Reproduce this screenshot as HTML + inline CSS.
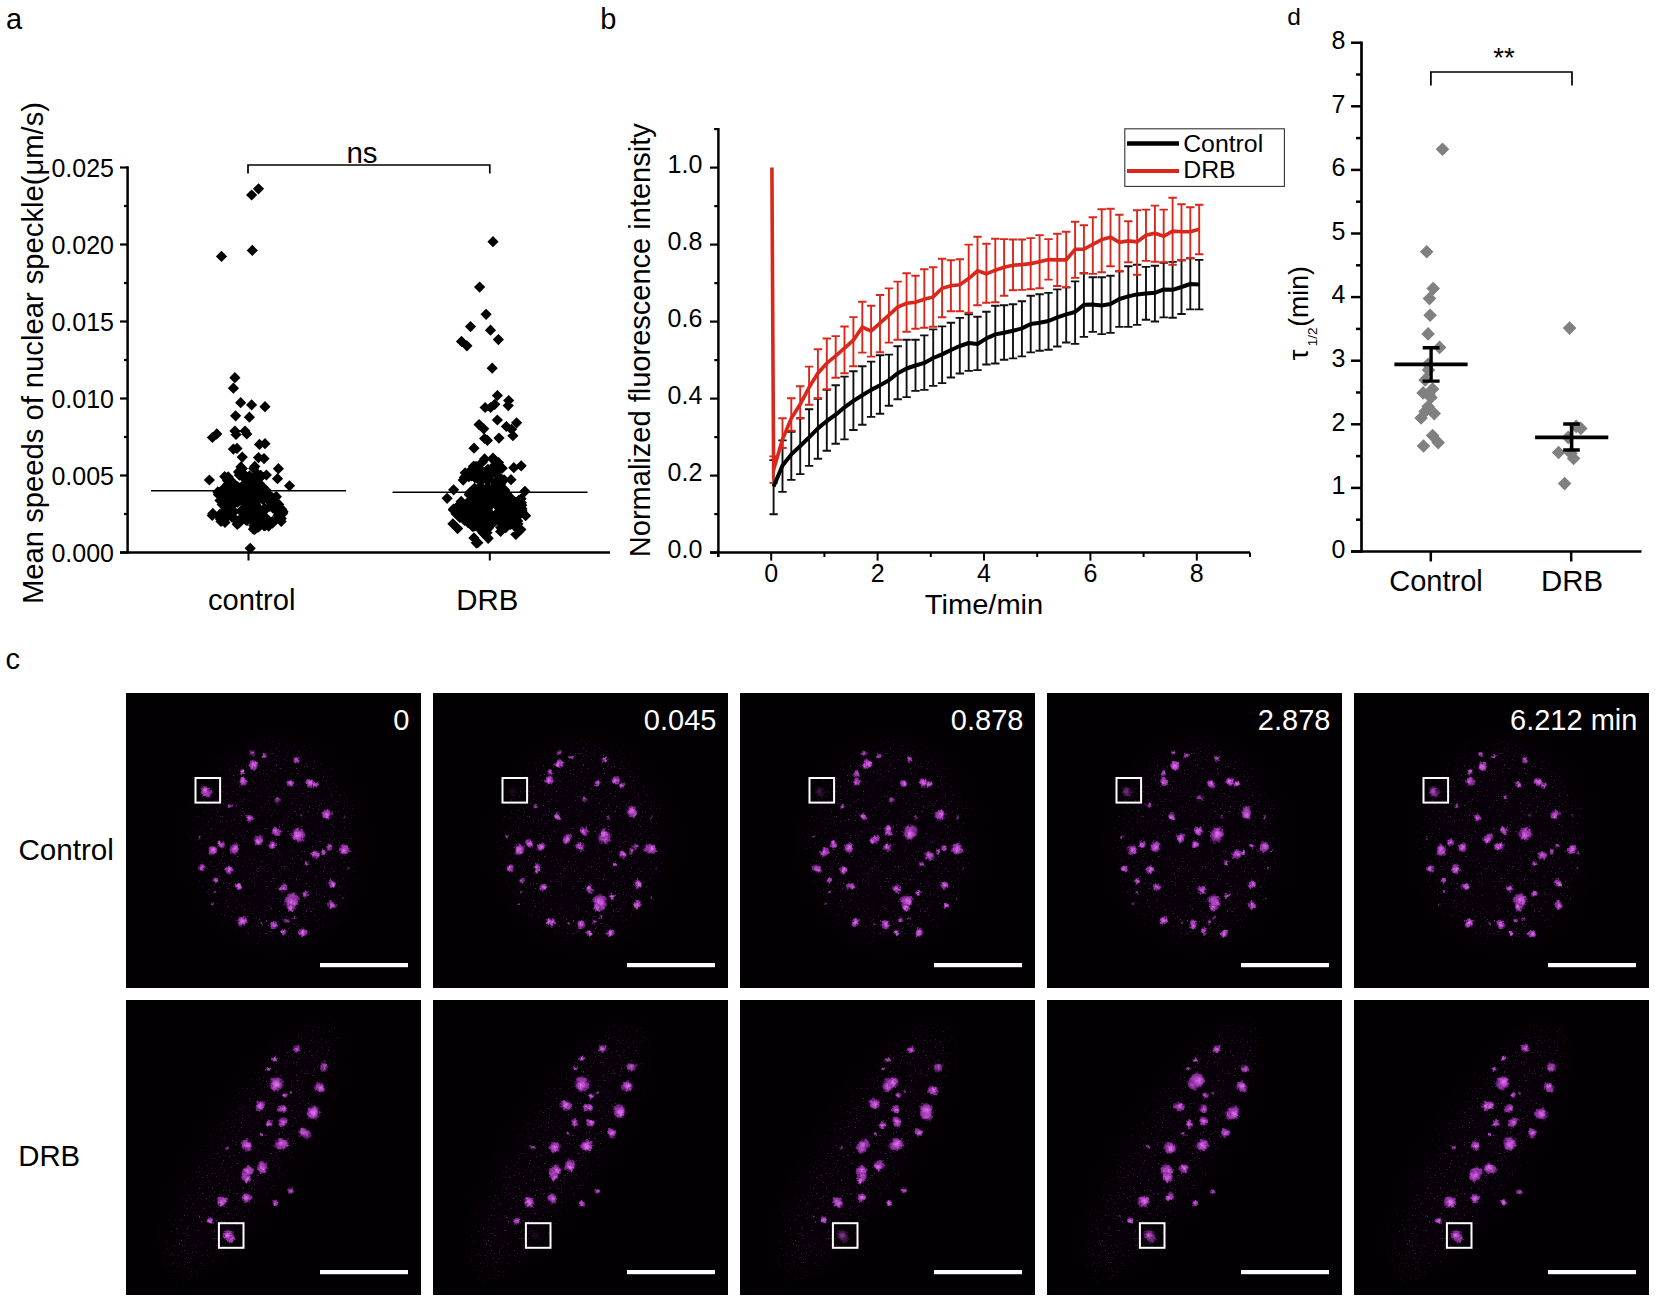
<!DOCTYPE html>
<html lang="en"><head><meta charset="utf-8"><title>Figure</title>
<style>
html,body{margin:0;padding:0;background:#fff;}
body{width:1656px;height:1296px;overflow:hidden;}
svg{display:block;}
svg text{font-family:"Liberation Sans",Arial,Helvetica,sans-serif;}
</style></head><body>
<svg width="1656" height="1296" viewBox="0 0 1656 1296">
<defs>
<radialGradient id="sp"><stop offset="0" stop-color="#dc7ee8"/><stop offset="0.4" stop-color="#bf4fce"/><stop offset="0.72" stop-color="#922fa6" stop-opacity="0.8"/><stop offset="1" stop-color="#5a1468" stop-opacity="0"/></radialGradient>
<filter id="rough" x="-5%" y="-5%" width="110%" height="110%"><feTurbulence type="fractalNoise" baseFrequency="0.32" numOctaves="2" seed="3" result="n"/><feDisplacementMap in="SourceGraphic" in2="n" scale="4.5" xChannelSelector="R" yChannelSelector="G"/><feGaussianBlur stdDeviation="0.7"/></filter>
<filter id="hz" x="-30%" y="-30%" width="160%" height="160%"><feGaussianBlur stdDeviation="14"/></filter>
<filter id="grain" x="0" y="0" width="100%" height="100%"><feTurbulence type="fractalNoise" baseFrequency="0.6" numOctaves="2" seed="11"/><feColorMatrix type="matrix" values="0 0 0 0 0.36  0 0 0 0 0.06  0 0 0 0 0.44  0 0 0 6 -4.0"/></filter>
<mask id="mctl" maskUnits="userSpaceOnUse" x="0" y="0" width="295" height="295"><ellipse cx="150" cy="150" rx="80" ry="98" fill="#fff" filter="url(#hz2)"/></mask>
<mask id="mdrb" maskUnits="userSpaceOnUse" x="0" y="0" width="295" height="295"><ellipse cx="125" cy="150" rx="40" ry="150" transform="rotate(32 125 150)" fill="#fff" filter="url(#hz2)"/></mask>
<filter id="hz2" x="-30%" y="-30%" width="160%" height="160%"><feGaussianBlur stdDeviation="9"/></filter>
<clipPath id="pc"><rect x="0" y="0" width="295" height="295"/></clipPath>
</defs>
<rect width="1656" height="1296" fill="#fff"/>
<text x="6.0" y="29" font-size="29" text-anchor="start" fill="#000" >a</text>
<text x="600.2" y="28.8" font-size="29" text-anchor="start" fill="#000" >b</text>
<text x="5.6" y="669" font-size="29" text-anchor="start" fill="#000" >c</text>
<text x="1287.2" y="24.8" font-size="24.5" text-anchor="start" fill="#000" >d</text>
<g id="panel-a">
<line x1="127.6" y1="166.3" x2="127.6" y2="553.7" stroke="#000" stroke-width="2.5" />
<line x1="120" y1="552.5" x2="610" y2="552.5" stroke="#000" stroke-width="2.5" />
<line x1="120" y1="552.5" x2="127.5" y2="552.5" stroke="#000" stroke-width="2.2" />
<text x="114" y="562.3" font-size="25" text-anchor="end" fill="#000" >0.000</text>
<line x1="124" y1="514.0" x2="127.5" y2="514.0" stroke="#000" stroke-width="2.2" />
<line x1="120" y1="475.5" x2="127.5" y2="475.5" stroke="#000" stroke-width="2.2" />
<text x="114" y="485.3" font-size="25" text-anchor="end" fill="#000" >0.005</text>
<line x1="124" y1="437.0" x2="127.5" y2="437.0" stroke="#000" stroke-width="2.2" />
<line x1="120" y1="398.5" x2="127.5" y2="398.5" stroke="#000" stroke-width="2.2" />
<text x="114" y="408.3" font-size="25" text-anchor="end" fill="#000" >0.010</text>
<line x1="124" y1="360.0" x2="127.5" y2="360.0" stroke="#000" stroke-width="2.2" />
<line x1="120" y1="321.5" x2="127.5" y2="321.5" stroke="#000" stroke-width="2.2" />
<text x="114" y="331.3" font-size="25" text-anchor="end" fill="#000" >0.015</text>
<line x1="124" y1="283.0" x2="127.5" y2="283.0" stroke="#000" stroke-width="2.2" />
<line x1="120" y1="244.5" x2="127.5" y2="244.5" stroke="#000" stroke-width="2.2" />
<text x="114" y="254.3" font-size="25" text-anchor="end" fill="#000" >0.020</text>
<line x1="124" y1="206.0" x2="127.5" y2="206.0" stroke="#000" stroke-width="2.2" />
<line x1="120" y1="167.5" x2="127.5" y2="167.5" stroke="#000" stroke-width="2.2" />
<text x="114" y="177.3" font-size="25" text-anchor="end" fill="#000" >0.025</text>
<line x1="248.5" y1="552.5" x2="248.5" y2="560.5" stroke="#000" stroke-width="2" />
<line x1="489.8" y1="552.5" x2="489.8" y2="560.5" stroke="#000" stroke-width="2" />
<text x="251.7" y="609.6" font-size="29" text-anchor="middle" fill="#000" textLength="87.5" lengthAdjust="spacingAndGlyphs" >control</text>
<text x="487.3" y="609.6" font-size="29" text-anchor="middle" fill="#000" textLength="62" lengthAdjust="spacingAndGlyphs" >DRB</text>
<text transform="translate(43.2 604) rotate(-90)" font-size="29" textLength="502" lengthAdjust="spacingAndGlyphs">Mean speeds of nuclear speckle(μm/s)</text>
<path d="M248 173.5V165H489.8V173.5" fill="none" stroke="#000" stroke-width="1.7"/>
<text x="362" y="162.9" font-size="29.5" text-anchor="middle" fill="#000" >ns</text>
<line x1="151" y1="490.7" x2="346" y2="490.7" stroke="#000" stroke-width="1.6" />
<line x1="392.5" y1="492.3" x2="587.5" y2="492.3" stroke="#000" stroke-width="1.6" />
<path d="M258.5 183.2L264.1 188.8L258.5 194.4L252.9 188.8ZM251.6 189.4L257.2 195.0L251.6 200.6L246.0 195.0ZM252.3 244.8L257.9 250.4L252.3 256.0L246.7 250.4ZM221.5 250.8L227.1 256.4L221.5 262.0L215.9 256.4ZM234.9 372.1L240.5 377.7L234.9 383.3L229.3 377.7ZM233.4 382.6L239.0 388.2L233.4 393.8L227.8 388.2ZM240.7 397.1L246.3 402.7L240.7 408.3L235.1 402.7ZM251.6 399.3L257.2 404.9L251.6 410.5L246.0 404.9ZM265.0 401.1L270.6 406.7L265.0 412.3L259.4 406.7ZM235.6 410.2L241.2 415.8L235.6 421.4L230.0 415.8ZM249.4 411.6L255.0 417.2L249.4 422.8L243.8 417.2ZM234.9 425.4L240.5 431.0L234.9 436.6L229.3 431.0ZM245.0 425.4L250.6 431.0L245.0 436.6L239.4 431.0ZM236.0 428.9L241.6 434.5L236.0 440.1L230.4 434.5ZM246.8 428.4L252.4 434.0L246.8 439.6L241.2 434.0ZM212.4 431.9L218.0 437.5L212.4 443.1L206.8 437.5ZM216.8 428.3L222.4 433.9L216.8 439.5L211.2 433.9ZM259.5 438.8L265.1 444.4L259.5 450.0L253.9 444.4ZM265.0 438.1L270.6 443.7L265.0 449.3L259.4 443.7ZM233.4 443.5L239.0 449.1L233.4 454.7L227.8 449.1ZM237.0 442.8L242.6 448.4L237.0 454.0L231.4 448.4ZM242.3 451.5L247.9 457.1L242.3 462.7L236.7 457.1ZM258.5 452.0L264.1 457.6L258.5 463.2L252.9 457.6ZM264.0 453.0L269.6 458.6L264.0 464.2L258.4 458.6ZM240.9 461.3L246.5 466.9L240.9 472.5L235.3 466.9ZM254.8 460.8L260.4 466.4L254.8 472.0L249.2 466.4ZM278.4 463.1L284.0 468.7L278.4 474.3L272.8 468.7ZM209.4 474.4L215.0 480.0L209.4 485.6L203.8 480.0ZM224.7 471.0L230.3 476.6L224.7 482.2L219.1 476.6ZM266.4 469.4L272.0 475.0L266.4 480.6L260.8 475.0ZM277.5 473.1L283.1 478.7L277.5 484.3L271.9 478.7ZM289.5 480.2L295.1 485.8L289.5 491.4L283.9 485.8ZM250.2 542.7L255.8 548.3L250.2 553.9L244.6 548.3ZM217.8 486.3L223.4 491.9L217.8 497.5L212.2 491.9ZM212.2 509.9L217.8 515.5L212.2 521.1L206.6 515.5ZM221.0 515.9L226.6 521.5L221.0 527.1L215.4 521.5ZM282.6 507.5L288.2 513.1L282.6 518.7L277.0 513.1ZM281.2 515.9L286.8 521.5L281.2 527.1L275.6 521.5ZM268.7 520.5L274.3 526.1L268.7 531.7L263.1 526.1ZM254.8 523.7L260.4 529.3L254.8 534.9L249.2 529.3ZM237.2 518.7L242.8 524.3L237.2 529.9L231.6 524.3ZM225.6 502.3L231.2 507.9L225.6 513.5L220.0 507.9ZM254.4 503.1L260.0 508.7L254.4 514.3L248.8 508.7ZM237.6 496.6L243.2 502.2L237.6 507.8L232.0 502.2ZM224.2 506.1L229.8 511.7L224.2 517.3L218.6 511.7ZM253.9 495.0L259.5 500.6L253.9 506.2L248.3 500.6ZM278.1 509.6L283.7 515.2L278.1 520.8L272.5 515.2ZM261.4 512.1L267.0 517.7L261.4 523.3L255.8 517.7ZM253.8 520.0L259.4 525.6L253.8 531.2L248.2 525.6ZM232.9 507.1L238.5 512.7L232.9 518.3L227.3 512.7ZM255.5 498.9L261.1 504.5L255.5 510.1L249.9 504.5ZM264.1 503.7L269.7 509.3L264.1 514.9L258.5 509.3ZM230.5 485.1L236.1 490.7L230.5 496.3L224.9 490.7ZM244.8 469.5L250.4 475.1L244.8 480.7L239.2 475.1ZM230.0 487.2L235.6 492.8L230.0 498.4L224.4 492.8ZM226.4 492.1L232.0 497.7L226.4 503.3L220.8 497.7ZM255.0 476.3L260.6 481.9L255.0 487.5L249.4 481.9ZM241.3 483.9L246.9 489.5L241.3 495.1L235.7 489.5ZM263.2 494.3L268.8 499.9L263.2 505.5L257.6 499.9ZM257.3 505.8L262.9 511.4L257.3 517.0L251.7 511.4ZM257.1 468.1L262.7 473.7L257.1 479.3L251.5 473.7ZM235.6 483.5L241.2 489.1L235.6 494.7L230.0 489.1ZM250.5 513.1L256.1 518.7L250.5 524.3L244.9 518.7ZM272.5 515.9L278.1 521.5L272.5 527.1L266.9 521.5ZM249.3 482.9L254.9 488.5L249.3 494.1L243.7 488.5ZM257.9 521.7L263.5 527.3L257.9 532.9L252.3 527.3ZM275.3 491.7L280.9 497.3L275.3 502.9L269.7 497.3ZM260.2 514.6L265.8 520.2L260.2 525.8L254.6 520.2ZM268.0 491.6L273.6 497.2L268.0 502.8L262.4 497.2ZM222.0 513.8L227.6 519.4L222.0 525.0L216.4 519.4ZM235.8 496.7L241.4 502.3L235.8 507.9L230.2 502.3ZM227.9 478.4L233.5 484.0L227.9 489.6L222.3 484.0ZM236.1 490.2L241.7 495.8L236.1 501.4L230.5 495.8ZM254.6 522.0L260.2 527.6L254.6 533.2L249.0 527.6ZM248.0 495.5L253.6 501.1L248.0 506.7L242.4 501.1ZM243.0 470.6L248.6 476.2L243.0 481.8L237.4 476.2ZM245.7 509.3L251.3 514.9L245.7 520.5L240.1 514.9ZM252.4 480.8L258.0 486.4L252.4 492.0L246.8 486.4ZM249.3 497.1L254.9 502.7L249.3 508.3L243.7 502.7ZM252.7 475.3L258.3 480.9L252.7 486.5L247.1 480.9ZM269.8 493.7L275.4 499.3L269.8 504.9L264.2 499.3ZM252.8 511.7L258.4 517.3L252.8 522.9L247.2 517.3ZM256.9 493.6L262.5 499.2L256.9 504.8L251.3 499.2ZM248.9 506.9L254.5 512.5L248.9 518.1L243.3 512.5ZM244.0 495.6L249.6 501.2L244.0 506.8L238.4 501.2ZM263.9 520.0L269.5 525.6L263.9 531.2L258.3 525.6ZM220.0 508.6L225.6 514.2L220.0 519.8L214.4 514.2ZM239.7 492.3L245.3 497.9L239.7 503.5L234.1 497.9ZM220.6 488.3L226.2 493.9L220.6 499.5L215.0 493.9ZM249.1 481.7L254.7 487.3L249.1 492.9L243.5 487.3ZM252.2 489.0L257.8 494.6L252.2 500.2L246.6 494.6ZM257.9 494.1L263.5 499.7L257.9 505.3L252.3 499.7ZM253.6 507.5L259.2 513.1L253.6 518.7L248.0 513.1ZM263.0 487.9L268.6 493.5L263.0 499.1L257.4 493.5ZM258.7 514.7L264.3 520.3L258.7 525.9L253.1 520.3ZM244.1 481.7L249.7 487.3L244.1 492.9L238.5 487.3ZM250.0 474.5L255.6 480.1L250.0 485.7L244.4 480.1ZM232.2 511.7L237.8 517.3L232.2 522.9L226.6 517.3ZM231.0 493.2L236.6 498.8L231.0 504.4L225.4 498.8ZM239.3 493.7L244.9 499.3L239.3 504.9L233.7 499.3ZM264.5 502.9L270.1 508.5L264.5 514.1L258.9 508.5ZM240.2 482.3L245.8 487.9L240.2 493.5L234.6 487.9ZM277.7 505.4L283.3 511.0L277.7 516.6L272.1 511.0ZM230.3 474.8L235.9 480.4L230.3 486.0L224.7 480.4ZM232.5 483.0L238.1 488.6L232.5 494.2L226.9 488.6ZM245.8 493.4L251.4 499.0L245.8 504.6L240.2 499.0ZM223.8 493.5L229.4 499.1L223.8 504.7L218.2 499.1ZM250.2 511.1L255.8 516.7L250.2 522.3L244.6 516.7ZM260.6 508.6L266.2 514.2L260.6 519.8L255.0 514.2ZM219.6 509.2L225.2 514.8L219.6 520.4L214.0 514.8ZM258.1 509.9L263.7 515.5L258.1 521.1L252.5 515.5ZM249.8 493.5L255.4 499.1L249.8 504.7L244.2 499.1ZM274.9 514.9L280.5 520.5L274.9 526.1L269.3 520.5ZM274.2 499.2L279.8 504.8L274.2 510.4L268.6 504.8ZM279.5 506.2L285.1 511.8L279.5 517.4L273.9 511.8ZM274.9 497.4L280.5 503.0L274.9 508.6L269.3 503.0ZM258.2 502.2L263.8 507.8L258.2 513.4L252.6 507.8ZM262.4 492.4L268.0 498.0L262.4 503.6L256.8 498.0ZM267.9 493.4L273.5 499.0L267.9 504.6L262.3 499.0ZM250.7 504.6L256.3 510.2L250.7 515.8L245.1 510.2ZM229.0 509.5L234.6 515.1L229.0 520.7L223.4 515.1ZM224.1 510.3L229.7 515.9L224.1 521.5L218.5 515.9ZM238.4 491.7L244.0 497.3L238.4 502.9L232.8 497.3ZM262.7 512.2L268.3 517.8L262.7 523.4L257.1 517.8ZM257.3 503.4L262.9 509.0L257.3 514.6L251.7 509.0ZM228.0 510.5L233.6 516.1L228.0 521.7L222.4 516.1ZM232.1 498.0L237.7 503.6L232.1 509.2L226.5 503.6ZM229.2 505.5L234.8 511.1L229.2 516.7L223.6 511.1ZM263.4 505.7L269.0 511.3L263.4 516.9L257.8 511.3ZM231.0 494.4L236.6 500.0L231.0 505.6L225.4 500.0ZM245.0 490.8L250.6 496.4L245.0 502.0L239.4 496.4ZM224.6 499.0L230.2 504.6L224.6 510.2L219.0 504.6ZM273.7 493.8L279.3 499.4L273.7 505.0L268.1 499.4ZM279.0 507.7L284.6 513.3L279.0 518.9L273.4 513.3ZM243.9 479.1L249.5 484.7L243.9 490.3L238.3 484.7ZM282.2 508.4L287.8 514.0L282.2 519.6L276.6 514.0ZM237.6 485.6L243.2 491.2L237.6 496.8L232.0 491.2ZM236.6 488.1L242.2 493.7L236.6 499.3L231.0 493.7ZM222.9 484.2L228.5 489.8L222.9 495.4L217.3 489.8ZM273.0 502.5L278.6 508.1L273.0 513.7L267.4 508.1ZM251.8 508.9L257.4 514.5L251.8 520.1L246.2 514.5ZM243.9 511.2L249.5 516.8L243.9 522.4L238.3 516.8ZM259.5 478.0L265.1 483.6L259.5 489.2L253.9 483.6ZM245.6 482.1L251.2 487.7L245.6 493.3L240.0 487.7ZM231.6 510.2L237.2 515.8L231.6 521.4L226.0 515.8ZM239.4 469.5L245.0 475.1L239.4 480.7L233.8 475.1ZM228.4 498.2L234.0 503.8L228.4 509.4L222.8 503.8ZM279.1 511.0L284.7 516.6L279.1 522.2L273.5 516.6ZM240.8 487.1L246.4 492.7L240.8 498.3L235.2 492.7ZM249.8 484.4L255.4 490.0L249.8 495.6L244.2 490.0ZM258.3 519.1L263.9 524.7L258.3 530.3L252.7 524.7ZM227.6 486.0L233.2 491.6L227.6 497.2L222.0 491.6ZM245.7 499.4L251.3 505.0L245.7 510.6L240.1 505.0ZM220.0 494.8L225.6 500.4L220.0 506.0L214.4 500.4ZM265.7 503.7L271.3 509.3L265.7 514.9L260.1 509.3ZM269.2 490.2L274.8 495.8L269.2 501.4L263.6 495.8ZM281.7 503.6L287.3 509.2L281.7 514.8L276.1 509.2ZM227.9 502.9L233.5 508.5L227.9 514.1L222.3 508.5ZM254.5 485.2L260.1 490.8L254.5 496.4L248.9 490.8ZM225.6 500.4L231.2 506.0L225.6 511.6L220.0 506.0ZM259.5 520.6L265.1 526.2L259.5 531.8L253.9 526.2ZM245.9 474.3L251.5 479.9L245.9 485.5L240.3 479.9ZM247.7 505.6L253.3 511.2L247.7 516.8L242.1 511.2ZM241.5 506.2L247.1 511.8L241.5 517.4L235.9 511.8ZM223.5 514.4L229.1 520.0L223.5 525.6L217.9 520.0ZM267.1 493.5L272.7 499.1L267.1 504.7L261.5 499.1ZM241.2 505.0L246.8 510.6L241.2 516.2L235.6 510.6ZM261.1 484.5L266.7 490.1L261.1 495.7L255.5 490.1ZM237.7 481.2L243.3 486.8L237.7 492.4L232.1 486.8ZM230.1 482.6L235.7 488.2L230.1 493.8L224.5 488.2ZM223.1 483.5L228.7 489.1L223.1 494.7L217.5 489.1ZM240.7 515.4L246.3 521.0L240.7 526.6L235.1 521.0ZM233.1 477.2L238.7 482.8L233.1 488.4L227.5 482.8ZM227.8 488.2L233.4 493.8L227.8 499.4L222.2 493.8ZM222.3 514.8L227.9 520.4L222.3 526.0L216.7 520.4ZM267.1 516.2L272.7 521.8L267.1 527.4L261.5 521.8ZM269.8 500.8L275.4 506.4L269.8 512.0L264.2 506.4ZM223.5 511.2L229.1 516.8L223.5 522.4L217.9 516.8ZM264.8 489.4L270.4 495.0L264.8 500.6L259.2 495.0ZM226.5 487.3L232.1 492.9L226.5 498.5L220.9 492.9ZM257.6 505.6L263.2 511.2L257.6 516.8L252.0 511.2ZM267.8 517.9L273.4 523.5L267.8 529.1L262.2 523.5ZM253.3 484.1L258.9 489.7L253.3 495.3L247.7 489.7ZM227.5 475.0L233.1 480.6L227.5 486.2L221.9 480.6ZM278.8 498.8L284.4 504.4L278.8 510.0L273.2 504.4ZM233.9 485.8L239.5 491.4L233.9 497.0L228.3 491.4ZM255.6 501.7L261.2 507.3L255.6 512.9L250.0 507.3ZM225.1 483.8L230.7 489.4L225.1 495.0L219.5 489.4ZM228.1 500.3L233.7 505.9L228.1 511.5L222.5 505.9ZM260.1 472.1L265.7 477.7L260.1 483.3L254.5 477.7ZM234.0 505.9L239.6 511.5L234.0 517.1L228.4 511.5ZM251.9 503.1L257.5 508.7L251.9 514.3L246.3 508.7ZM263.6 486.8L269.2 492.4L263.6 498.0L258.0 492.4ZM232.8 497.9L238.4 503.5L232.8 509.1L227.2 503.5ZM236.4 487.2L242.0 492.8L236.4 498.4L230.8 492.8ZM252.0 503.2L257.6 508.8L252.0 514.4L246.4 508.8ZM257.7 484.0L263.3 489.6L257.7 495.2L252.1 489.6ZM230.4 494.7L236.0 500.3L230.4 505.9L224.8 500.3ZM247.1 514.9L252.7 520.5L247.1 526.1L241.5 520.5ZM257.6 516.3L263.2 521.9L257.6 527.5L252.0 521.9ZM220.5 513.6L226.1 519.2L220.5 524.8L214.9 519.2ZM225.5 486.4L231.1 492.0L225.5 497.6L219.9 492.0ZM239.8 494.5L245.4 500.1L239.8 505.7L234.2 500.1ZM238.5 466.3L244.1 471.9L238.5 477.5L232.9 471.9ZM255.9 496.8L261.5 502.4L255.9 508.0L250.3 502.4ZM254.5 487.9L260.1 493.5L254.5 499.1L248.9 493.5ZM260.7 489.4L266.3 495.0L260.7 500.6L255.1 495.0ZM257.4 492.4L263.0 498.0L257.4 503.6L251.8 498.0ZM226.5 512.0L232.1 517.6L226.5 523.2L220.9 517.6ZM270.4 490.2L276.0 495.8L270.4 501.4L264.8 495.8ZM222.1 491.3L227.7 496.9L222.1 502.5L216.5 496.9ZM266.7 513.0L272.3 518.6L266.7 524.2L261.1 518.6ZM248.2 484.5L253.8 490.1L248.2 495.7L242.6 490.1ZM266.6 515.7L272.2 521.3L266.6 526.9L261.0 521.3ZM248.4 480.3L254.0 485.9L248.4 491.5L242.8 485.9ZM283.0 506.0L288.6 511.6L283.0 517.2L277.4 511.6ZM250.3 502.9L255.9 508.5L250.3 514.1L244.7 508.5ZM252.3 498.9L257.9 504.5L252.3 510.1L246.7 504.5ZM239.4 514.4L245.0 520.0L239.4 525.6L233.8 520.0ZM254.1 483.2L259.7 488.8L254.1 494.4L248.5 488.8ZM269.2 489.1L274.8 494.7L269.2 500.3L263.6 494.7ZM221.8 510.6L227.4 516.2L221.8 521.8L216.2 516.2ZM228.0 503.1L233.6 508.7L228.0 514.3L222.4 508.7ZM261.1 479.8L266.7 485.4L261.1 491.0L255.5 485.4ZM257.2 488.4L262.8 494.0L257.2 499.6L251.6 494.0ZM225.7 499.2L231.3 504.8L225.7 510.4L220.1 504.8ZM224.9 482.0L230.5 487.6L224.9 493.2L219.3 487.6ZM228.2 471.3L233.8 476.9L228.2 482.5L222.6 476.9ZM242.4 462.9L248.0 468.5L242.4 474.1L236.8 468.5ZM249.5 470.3L255.1 475.9L249.5 481.5L243.9 475.9ZM253.7 462.8L259.3 468.4L253.7 474.0L248.1 468.4ZM260.7 469.7L266.3 475.3L260.7 480.9L255.1 475.3ZM266.0 484.6L271.6 490.2L266.0 495.8L260.4 490.2ZM276.4 491.1L282.0 496.7L276.4 502.3L270.8 496.7ZM282.9 506.3L288.5 511.9L282.9 517.5L277.3 511.9ZM281.3 512.8L286.9 518.4L281.3 524.0L275.7 518.4ZM272.7 517.3L278.3 522.9L272.7 528.5L267.1 522.9ZM265.2 520.1L270.8 525.7L265.2 531.3L259.6 525.7ZM253.4 523.6L259.0 529.2L253.4 534.8L247.8 529.2ZM245.7 514.2L251.3 519.8L245.7 525.4L240.1 519.8ZM239.1 517.3L244.7 522.9L239.1 528.5L233.5 522.9ZM233.4 511.8L239.0 517.4L233.4 523.0L227.8 517.4ZM225.0 516.9L230.6 522.5L225.0 528.1L219.4 522.5ZM220.6 512.3L226.2 517.9L220.6 523.5L215.0 517.9ZM212.8 507.8L218.4 513.4L212.8 519.0L207.2 513.4ZM222.2 498.9L227.8 504.5L222.2 510.1L216.6 504.5ZM218.3 488.8L223.9 494.4L218.3 500.0L212.7 494.4Z" fill="#000"/>
<path d="M493.0 236.1L498.6 241.7L493.0 247.3L487.4 241.7ZM479.6 281.5L485.2 287.1L479.6 292.7L474.0 287.1ZM486.1 308.7L491.7 314.3L486.1 319.9L480.5 314.3ZM470.5 321.0L476.1 326.6L470.5 332.2L464.9 326.6ZM490.5 324.6L496.1 330.2L490.5 335.8L484.9 330.2ZM461.5 335.8L467.1 341.4L461.5 347.0L455.9 341.4ZM466.9 340.2L472.5 345.8L466.9 351.4L461.3 345.8ZM498.4 334.0L504.0 339.6L498.4 345.2L492.8 339.6ZM492.2 362.6L497.8 368.2L492.2 373.8L486.6 368.2ZM497.4 389.9L503.0 395.5L497.4 401.1L491.8 395.5ZM508.7 395.0L514.3 400.6L508.7 406.2L503.1 400.6ZM508.2 400.0L513.8 405.6L508.2 411.2L502.6 405.6ZM485.1 401.9L490.7 407.5L485.1 413.1L479.5 407.5ZM490.6 401.9L496.2 407.5L490.6 413.1L485.0 407.5ZM494.8 398.7L500.4 404.3L494.8 409.9L489.2 404.3ZM497.4 414.4L503.0 420.0L497.4 425.6L491.8 420.0ZM516.6 417.2L522.2 422.8L516.6 428.4L511.0 422.8ZM479.1 419.0L484.7 424.6L479.1 430.2L473.5 424.6ZM483.7 423.2L489.3 428.8L483.7 434.4L478.1 428.8ZM506.4 420.9L512.0 426.5L506.4 432.1L500.8 426.5ZM511.5 423.7L517.1 429.3L511.5 434.9L505.9 429.3ZM512.9 430.1L518.5 435.7L512.9 441.3L507.3 435.7ZM484.6 432.9L490.2 438.5L484.6 444.1L479.0 438.5ZM487.4 434.8L493.0 440.4L487.4 446.0L481.8 440.4ZM499.0 432.5L504.6 438.1L499.0 443.7L493.4 438.1ZM474.0 442.6L479.6 448.2L474.0 453.8L468.4 448.2ZM493.0 452.4L498.6 458.0L493.0 463.6L487.4 458.0ZM484.6 453.3L490.2 458.9L484.6 464.5L479.0 458.9ZM498.5 457.0L504.1 462.6L498.5 468.2L492.9 462.6ZM521.2 460.2L526.8 465.8L521.2 471.4L515.6 465.8ZM513.8 462.1L519.4 467.7L513.8 473.3L508.2 467.7ZM473.5 460.7L479.1 466.3L473.5 471.9L467.9 466.3ZM478.1 464.4L483.7 470.0L478.1 475.6L472.5 470.0ZM465.2 467.2L470.8 472.8L465.2 478.4L459.6 472.8ZM464.3 471.8L469.9 477.4L464.3 483.0L458.7 477.4ZM511.0 474.1L516.6 479.7L511.0 485.3L505.4 479.7ZM493.9 466.3L499.5 471.9L493.9 477.5L488.3 471.9ZM500.4 462.5L506.0 468.1L500.4 473.7L494.8 468.1ZM489.3 470.9L494.9 476.5L489.3 482.1L483.7 476.5ZM453.6 484.2L459.2 489.8L453.6 495.4L448.0 489.8ZM447.1 492.7L452.7 498.3L447.1 503.9L441.5 498.3ZM524.9 485.7L530.5 491.3L524.9 496.9L519.3 491.3ZM476.3 537.2L481.9 542.8L476.3 548.4L470.7 542.8ZM456.0 508.1L461.6 513.7L456.0 519.3L450.4 513.7ZM481.4 472.8L487.0 478.4L481.4 484.0L475.8 478.4ZM501.5 500.9L507.1 506.5L501.5 512.1L495.9 506.5ZM477.1 508.8L482.7 514.4L477.1 520.0L471.5 514.4ZM492.1 486.2L497.7 491.8L492.1 497.4L486.5 491.8ZM498.4 495.7L504.0 501.3L498.4 506.9L492.8 501.3ZM518.0 518.2L523.6 523.8L518.0 529.4L512.4 523.8ZM486.6 517.9L492.2 523.5L486.6 529.1L481.0 523.5ZM485.6 469.2L491.2 474.8L485.6 480.4L480.0 474.8ZM475.9 518.6L481.5 524.2L475.9 529.8L470.3 524.2ZM493.9 489.0L499.5 494.6L493.9 500.2L488.3 494.6ZM513.4 497.2L519.0 502.8L513.4 508.4L507.8 502.8ZM470.0 508.5L475.6 514.1L470.0 519.7L464.4 514.1ZM500.3 513.3L505.9 518.9L500.3 524.5L494.7 518.9ZM487.0 527.1L492.6 532.7L487.0 538.3L481.4 532.7ZM484.3 516.3L489.9 521.9L484.3 527.5L478.7 521.9ZM495.3 476.9L500.9 482.5L495.3 488.1L489.7 482.5ZM500.6 513.7L506.2 519.3L500.6 524.9L495.0 519.3ZM518.3 524.5L523.9 530.1L518.3 535.7L512.7 530.1ZM474.5 487.8L480.1 493.4L474.5 499.0L468.9 493.4ZM471.5 515.4L477.1 521.0L471.5 526.6L465.9 521.0ZM482.3 489.0L487.9 494.6L482.3 500.2L476.7 494.6ZM506.5 498.6L512.1 504.2L506.5 509.8L500.9 504.2ZM488.7 494.2L494.3 499.8L488.7 505.4L483.1 499.8ZM505.8 522.1L511.4 527.7L505.8 533.3L500.2 527.7ZM489.6 483.6L495.2 489.2L489.6 494.8L484.0 489.2ZM486.3 498.0L491.9 503.6L486.3 509.2L480.7 503.6ZM510.6 518.9L516.2 524.5L510.6 530.1L505.0 524.5ZM502.9 517.9L508.5 523.5L502.9 529.1L497.3 523.5ZM512.2 502.5L517.8 508.1L512.2 513.7L506.6 508.1ZM513.9 517.1L519.5 522.7L513.9 528.3L508.3 522.7ZM481.1 522.5L486.7 528.1L481.1 533.7L475.5 528.1ZM505.5 495.1L511.1 500.7L505.5 506.3L499.9 500.7ZM500.5 491.6L506.1 497.2L500.5 502.8L494.9 497.2ZM459.8 504.8L465.4 510.4L459.8 516.0L454.2 510.4ZM481.6 517.8L487.2 523.4L481.6 529.0L476.0 523.4ZM504.4 508.4L510.0 514.0L504.4 519.6L498.8 514.0ZM512.9 515.2L518.5 520.8L512.9 526.4L507.3 520.8ZM483.2 490.8L488.8 496.4L483.2 502.0L477.6 496.4ZM499.6 486.5L505.2 492.1L499.6 497.7L494.0 492.1ZM463.2 509.6L468.8 515.2L463.2 520.8L457.6 515.2ZM456.4 502.1L462.0 507.7L456.4 513.3L450.8 507.7ZM492.9 515.6L498.5 521.2L492.9 526.8L487.3 521.2ZM490.5 508.2L496.1 513.8L490.5 519.4L484.9 513.8ZM516.8 497.1L522.4 502.7L516.8 508.3L511.2 502.7ZM465.5 512.5L471.1 518.1L465.5 523.7L459.9 518.1ZM480.6 519.9L486.2 525.5L480.6 531.1L475.0 525.5ZM482.9 513.8L488.5 519.4L482.9 525.0L477.3 519.4ZM477.2 472.9L482.8 478.5L477.2 484.1L471.6 478.5ZM480.5 467.8L486.1 473.4L480.5 479.0L474.9 473.4ZM500.6 492.1L506.2 497.7L500.6 503.3L495.0 497.7ZM477.3 508.2L482.9 513.8L477.3 519.4L471.7 513.8ZM487.8 488.3L493.4 493.9L487.8 499.5L482.2 493.9ZM500.9 510.1L506.5 515.7L500.9 521.3L495.3 515.7ZM516.9 507.6L522.5 513.2L516.9 518.8L511.3 513.2ZM521.9 505.3L527.5 510.9L521.9 516.5L516.3 510.9ZM512.8 511.0L518.4 516.6L512.8 522.2L507.2 516.6ZM505.5 498.0L511.1 503.6L505.5 509.2L499.9 503.6ZM521.2 500.2L526.8 505.8L521.2 511.4L515.6 505.8ZM470.0 469.9L475.6 475.5L470.0 481.1L464.4 475.5ZM489.3 498.8L494.9 504.4L489.3 510.0L483.7 504.4ZM494.7 510.7L500.3 516.3L494.7 521.9L489.1 516.3ZM498.6 512.3L504.2 517.9L498.6 523.5L493.0 517.9ZM478.4 492.6L484.0 498.2L478.4 503.8L472.8 498.2ZM483.1 500.2L488.7 505.8L483.1 511.4L477.5 505.8ZM500.7 521.9L506.3 527.5L500.7 533.1L495.1 527.5ZM521.4 499.3L527.0 504.9L521.4 510.5L515.8 504.9ZM502.6 522.3L508.2 527.9L502.6 533.5L497.0 527.9ZM499.2 507.0L504.8 512.6L499.2 518.2L493.6 512.6ZM505.8 504.1L511.4 509.7L505.8 515.3L500.2 509.7ZM503.3 491.1L508.9 496.7L503.3 502.3L497.7 496.7ZM502.4 482.7L508.0 488.3L502.4 493.9L496.8 488.3ZM516.2 522.1L521.8 527.7L516.2 533.3L510.6 527.7ZM515.2 502.2L520.8 507.8L515.2 513.4L509.6 507.8ZM468.1 517.1L473.7 522.7L468.1 528.3L462.5 522.7ZM512.2 515.2L517.8 520.8L512.2 526.4L506.6 520.8ZM506.8 491.3L512.4 496.9L506.8 502.5L501.2 496.9ZM495.7 489.3L501.3 494.9L495.7 500.5L490.1 494.9ZM501.5 507.3L507.1 512.9L501.5 518.5L495.9 512.9ZM482.7 484.3L488.3 489.9L482.7 495.5L477.1 489.9ZM513.1 501.4L518.7 507.0L513.1 512.6L507.5 507.0ZM516.9 504.6L522.5 510.2L516.9 515.8L511.3 510.2ZM473.6 488.3L479.2 493.9L473.6 499.5L468.0 493.9ZM504.8 504.7L510.4 510.3L504.8 515.9L499.2 510.3ZM469.9 487.7L475.5 493.3L469.9 498.9L464.3 493.3ZM519.9 501.8L525.5 507.4L519.9 513.0L514.3 507.4ZM514.9 512.5L520.5 518.1L514.9 523.7L509.3 518.1ZM467.4 505.1L473.0 510.7L467.4 516.3L461.8 510.7ZM504.2 491.8L509.8 497.4L504.2 503.0L498.6 497.4ZM521.4 497.1L527.0 502.7L521.4 508.3L515.8 502.7ZM487.6 503.5L493.2 509.1L487.6 514.7L482.0 509.1ZM478.1 501.1L483.7 506.7L478.1 512.3L472.5 506.7ZM481.4 496.7L487.0 502.3L481.4 507.9L475.8 502.3ZM456.8 507.6L462.4 513.2L456.8 518.8L451.2 513.2ZM488.4 501.4L494.0 507.0L488.4 512.6L482.8 507.0ZM453.4 504.3L459.0 509.9L453.4 515.5L447.8 509.9ZM469.4 501.1L475.0 506.7L469.4 512.3L463.8 506.7ZM503.6 485.0L509.2 490.6L503.6 496.2L498.0 490.6ZM506.9 508.9L512.5 514.5L506.9 520.1L501.3 514.5ZM472.8 503.7L478.4 509.3L472.8 514.9L467.2 509.3ZM474.9 472.1L480.5 477.7L474.9 483.3L469.3 477.7ZM487.9 463.7L493.5 469.3L487.9 474.9L482.3 469.3ZM459.9 511.8L465.5 517.4L459.9 523.0L454.3 517.4ZM517.9 507.2L523.5 512.8L517.9 518.4L512.3 512.8ZM487.6 507.2L493.2 512.8L487.6 518.4L482.0 512.8ZM470.1 486.7L475.7 492.3L470.1 497.9L464.5 492.3ZM487.6 474.9L493.2 480.5L487.6 486.1L482.0 480.5ZM476.3 461.1L481.9 466.7L476.3 472.3L470.7 466.7ZM517.0 497.6L522.6 503.2L517.0 508.8L511.4 503.2ZM495.4 460.9L501.0 466.5L495.4 472.1L489.8 466.5ZM511.9 515.0L517.5 520.6L511.9 526.2L506.3 520.6ZM455.3 505.3L460.9 510.9L455.3 516.5L449.7 510.9ZM489.1 473.7L494.7 479.3L489.1 484.9L483.5 479.3ZM498.8 514.7L504.4 520.3L498.8 525.9L493.2 520.3ZM515.3 502.9L520.9 508.5L515.3 514.1L509.7 508.5ZM491.1 489.9L496.7 495.5L491.1 501.1L485.5 495.5ZM474.7 515.0L480.3 520.6L474.7 526.2L469.1 520.6ZM479.7 518.8L485.3 524.4L479.7 530.0L474.1 524.4ZM490.6 497.9L496.2 503.5L490.6 509.1L485.0 503.5ZM495.8 497.2L501.4 502.8L495.8 508.4L490.2 502.8ZM489.0 495.1L494.6 500.7L489.0 506.3L483.4 500.7ZM482.9 527.1L488.5 532.7L482.9 538.3L477.3 532.7ZM491.6 485.2L497.2 490.8L491.6 496.4L486.0 490.8ZM470.1 511.9L475.7 517.5L470.1 523.1L464.5 517.5ZM470.7 499.0L476.3 504.6L470.7 510.2L465.1 504.6ZM468.8 497.0L474.4 502.6L468.8 508.2L463.2 502.6ZM492.3 461.8L497.9 467.4L492.3 473.0L486.7 467.4ZM481.7 475.1L487.3 480.7L481.7 486.3L476.1 480.7ZM517.6 505.4L523.2 511.0L517.6 516.6L512.0 511.0ZM495.3 509.2L500.9 514.8L495.3 520.4L489.7 514.8ZM464.7 514.9L470.3 520.5L464.7 526.1L459.1 520.5ZM486.2 499.6L491.8 505.2L486.2 510.8L480.6 505.2ZM498.8 492.1L504.4 497.7L498.8 503.3L493.2 497.7ZM473.8 470.7L479.4 476.3L473.8 481.9L468.2 476.3ZM490.5 484.0L496.1 489.6L490.5 495.2L484.9 489.6ZM467.8 500.4L473.4 506.0L467.8 511.6L462.2 506.0ZM472.5 520.7L478.1 526.3L472.5 531.9L466.9 526.3ZM484.5 517.3L490.1 522.9L484.5 528.5L478.9 522.9ZM477.3 511.6L482.9 517.2L477.3 522.8L471.7 517.2ZM516.1 496.7L521.7 502.3L516.1 507.9L510.5 502.3ZM509.3 518.0L514.9 523.6L509.3 529.2L503.7 523.6ZM511.0 492.7L516.6 498.3L511.0 503.9L505.4 498.3ZM513.1 514.7L518.7 520.3L513.1 525.9L507.5 520.3ZM511.5 503.2L517.1 508.8L511.5 514.4L505.9 508.8ZM495.5 487.3L501.1 492.9L495.5 498.5L489.9 492.9ZM498.4 483.7L504.0 489.3L498.4 494.9L492.8 489.3ZM485.5 491.1L491.1 496.7L485.5 502.3L479.9 496.7ZM480.4 500.3L486.0 505.9L480.4 511.5L474.8 505.9ZM518.5 495.0L524.1 500.6L518.5 506.2L512.9 500.6ZM460.1 502.2L465.7 507.8L460.1 513.4L454.5 507.8ZM494.9 494.8L500.5 500.4L494.9 506.0L489.3 500.4ZM490.9 496.7L496.5 502.3L490.9 507.9L485.3 502.3ZM504.8 484.6L510.4 490.2L504.8 495.8L499.2 490.2ZM477.7 504.0L483.3 509.6L477.7 515.2L472.1 509.6ZM504.1 497.4L509.7 503.0L504.1 508.6L498.5 503.0ZM481.3 500.8L486.9 506.4L481.3 512.0L475.7 506.4ZM484.5 506.8L490.1 512.4L484.5 518.0L478.9 512.4ZM490.5 495.5L496.1 501.1L490.5 506.7L484.9 501.1ZM500.3 504.8L505.9 510.4L500.3 516.0L494.7 510.4ZM482.1 522.2L487.7 527.8L482.1 533.4L476.5 527.8ZM473.5 513.1L479.1 518.7L473.5 524.3L467.9 518.7ZM517.8 503.2L523.4 508.8L517.8 514.4L512.2 508.8ZM489.3 500.1L494.9 505.7L489.3 511.3L483.7 505.7ZM470.1 508.9L475.7 514.5L470.1 520.1L464.5 514.5ZM495.7 486.7L501.3 492.3L495.7 497.9L490.1 492.3ZM521.9 502.9L527.5 508.5L521.9 514.1L516.3 508.5ZM499.4 471.4L505.0 477.0L499.4 482.6L493.8 477.0ZM488.2 522.7L493.8 528.3L488.2 533.9L482.6 528.3ZM472.1 500.9L477.7 506.5L472.1 512.1L466.5 506.5ZM480.0 485.9L485.6 491.5L480.0 497.1L474.4 491.5ZM471.6 470.2L477.2 475.8L471.6 481.4L466.0 475.8ZM484.8 526.8L490.4 532.4L484.8 538.0L479.2 532.4ZM477.3 516.1L482.9 521.7L477.3 527.3L471.7 521.7ZM496.7 482.6L502.3 488.2L496.7 493.8L491.1 488.2ZM468.5 505.3L474.1 510.9L468.5 516.5L462.9 510.9ZM479.9 509.9L485.5 515.5L479.9 521.1L474.3 515.5ZM473.9 469.2L479.5 474.8L473.9 480.4L468.3 474.8ZM504.4 510.5L510.0 516.1L504.4 521.7L498.8 516.1ZM477.2 486.8L482.8 492.4L477.2 498.0L471.6 492.4ZM502.7 513.9L508.3 519.5L502.7 525.1L497.1 519.5ZM477.2 507.2L482.8 512.8L477.2 518.4L471.6 512.8ZM473.8 508.1L479.4 513.7L473.8 519.3L468.2 513.7ZM495.3 515.5L500.9 521.1L495.3 526.7L489.7 521.1ZM469.2 488.9L474.8 494.5L469.2 500.1L463.6 494.5ZM480.7 518.4L486.3 524.0L480.7 529.6L475.1 524.0ZM505.4 517.6L511.0 523.2L505.4 528.8L499.8 523.2ZM516.8 507.1L522.4 512.7L516.8 518.3L511.2 512.7ZM505.9 488.3L511.5 493.9L505.9 499.5L500.3 493.9ZM500.9 499.2L506.5 504.8L500.9 510.4L495.3 504.8ZM477.7 486.7L483.3 492.3L477.7 497.9L472.1 492.3ZM468.1 496.5L473.7 502.1L468.1 507.7L462.5 502.1ZM459.8 501.0L465.4 506.6L459.8 512.2L454.2 506.6ZM462.1 510.8L467.7 516.4L462.1 522.0L456.5 516.4ZM497.7 491.4L503.3 497.0L497.7 502.6L492.1 497.0ZM477.9 467.3L483.5 472.9L477.9 478.5L472.3 472.9ZM486.9 482.1L492.5 487.7L486.9 493.3L481.3 487.7ZM501.5 507.1L507.1 512.7L501.5 518.3L495.9 512.7ZM468.9 471.1L474.5 476.7L468.9 482.3L463.3 476.7ZM463.4 508.1L469.0 513.7L463.4 519.3L457.8 513.7ZM516.9 517.9L522.5 523.5L516.9 529.1L511.3 523.5ZM474.6 482.6L480.2 488.2L474.6 493.8L469.0 488.2ZM493.7 482.7L499.3 488.3L493.7 493.9L488.1 488.3ZM518.9 522.1L524.5 527.7L518.9 533.3L513.3 527.7ZM490.7 487.6L496.3 493.2L490.7 498.8L485.1 493.2ZM476.1 489.3L481.7 494.9L476.1 500.5L470.5 494.9ZM472.6 489.7L478.2 495.3L472.6 500.9L467.0 495.3ZM494.7 480.7L500.3 486.3L494.7 491.9L489.1 486.3ZM504.3 490.1L509.9 495.7L504.3 501.3L498.7 495.7ZM478.9 502.7L484.5 508.3L478.9 513.9L473.3 508.3ZM482.6 497.9L488.2 503.5L482.6 509.1L477.0 503.5ZM494.9 485.3L500.5 490.9L494.9 496.5L489.3 490.9ZM521.8 499.6L527.4 505.2L521.8 510.8L516.2 505.2ZM493.7 515.3L499.3 520.9L493.7 526.5L488.1 520.9ZM506.7 488.1L512.3 493.7L506.7 499.3L501.1 493.7ZM521.7 506.5L527.3 512.1L521.7 517.7L516.1 512.1ZM520.3 501.0L525.9 506.6L520.3 512.2L514.7 506.6ZM476.3 519.9L481.9 525.5L476.3 531.1L470.7 525.5ZM517.5 502.7L523.1 508.3L517.5 513.9L511.9 508.3ZM463.4 500.2L469.0 505.8L463.4 511.4L457.8 505.8ZM472.1 512.7L477.7 518.3L472.1 523.9L466.5 518.3ZM492.7 512.9L498.3 518.5L492.7 524.1L487.1 518.5ZM515.9 512.0L521.5 517.6L515.9 523.2L510.3 517.6ZM480.6 492.8L486.2 498.4L480.6 504.0L475.0 498.4ZM486.8 502.3L492.4 507.9L486.8 513.5L481.2 507.9ZM480.2 481.2L485.8 486.8L480.2 492.4L474.6 486.8ZM496.1 479.3L501.7 484.9L496.1 490.5L490.5 484.9ZM470.7 495.0L476.3 500.6L470.7 506.2L465.1 500.6ZM469.8 501.6L475.4 507.2L469.8 512.8L464.2 507.2ZM500.5 507.8L506.1 513.4L500.5 519.0L494.9 513.4ZM511.3 517.7L516.9 523.3L511.3 528.9L505.7 523.3ZM490.2 507.8L495.8 513.4L490.2 519.0L484.6 513.4ZM477.1 499.8L482.7 505.4L477.1 511.0L471.5 505.4ZM488.0 482.5L493.6 488.1L488.0 493.7L482.4 488.1ZM485.0 501.5L490.6 507.1L485.0 512.7L479.4 507.1ZM473.1 463.8L478.7 469.4L473.1 475.0L467.5 469.4ZM508.3 499.9L513.9 505.5L508.3 511.1L502.7 505.5ZM477.6 521.0L483.2 526.6L477.6 532.2L472.0 526.6ZM519.7 509.0L525.3 514.6L519.7 520.2L514.1 514.6ZM510.2 509.1L515.8 514.7L510.2 520.3L504.6 514.7ZM481.6 512.0L487.2 517.6L481.6 523.2L476.0 517.6ZM483.1 498.7L488.7 504.3L483.1 509.9L477.5 504.3ZM496.8 500.2L502.4 505.8L496.8 511.4L491.2 505.8ZM502.5 504.6L508.1 510.2L502.5 515.8L496.9 510.2ZM475.5 517.8L481.1 523.4L475.5 529.0L469.9 523.4ZM469.4 515.0L475.0 520.6L469.4 526.2L463.8 520.6ZM473.7 520.8L479.3 526.4L473.7 532.0L468.1 526.4ZM471.1 497.3L476.7 502.9L471.1 508.5L465.5 502.9ZM502.4 520.9L508.0 526.5L502.4 532.1L496.8 526.5ZM489.6 500.3L495.2 505.9L489.6 511.5L484.0 505.9ZM478.4 461.9L484.0 467.5L478.4 473.1L472.8 467.5ZM463.2 474.5L468.8 480.1L463.2 485.7L457.6 480.1ZM469.5 466.1L475.1 471.7L469.5 477.3L463.9 471.7ZM475.1 460.9L480.7 466.5L475.1 472.1L469.5 466.5ZM482.5 456.4L488.1 462.0L482.5 467.6L476.9 462.0ZM492.4 453.2L498.0 458.8L492.4 464.4L486.8 458.8ZM502.2 462.6L507.8 468.2L502.2 473.8L496.6 468.2ZM504.1 474.2L509.7 479.8L504.1 485.4L498.5 479.8ZM500.5 478.9L506.1 484.5L500.5 490.1L494.9 484.5ZM505.5 487.0L511.1 492.6L505.5 498.2L499.9 492.6ZM508.5 491.5L514.1 497.1L508.5 502.7L502.9 497.1ZM521.1 493.2L526.7 498.8L521.1 504.4L515.5 498.8ZM521.8 504.4L527.4 510.0L521.8 515.6L516.2 510.0ZM525.6 510.1L531.2 515.7L525.6 521.3L520.0 515.7ZM517.7 515.5L523.3 521.1L517.7 526.7L512.1 521.1ZM520.9 524.0L526.5 529.6L520.9 535.2L515.3 529.6ZM515.9 528.8L521.5 534.4L515.9 540.0L510.3 534.4ZM507.5 519.7L513.1 525.3L507.5 530.9L501.9 525.3ZM500.6 525.9L506.2 531.5L500.6 537.1L495.0 531.5ZM493.0 517.3L498.6 522.9L493.0 528.5L487.4 522.9ZM488.2 532.7L493.8 538.3L488.2 543.9L482.6 538.3ZM482.9 527.2L488.5 532.8L482.9 538.4L477.3 532.8ZM477.8 537.1L483.4 542.7L477.8 548.3L472.2 542.7ZM473.9 532.3L479.5 537.9L473.9 543.5L468.3 537.9ZM478.5 522.1L484.1 527.7L478.5 533.3L472.9 527.7ZM473.2 520.0L478.8 525.6L473.2 531.2L467.6 525.6ZM466.1 514.9L471.7 520.5L466.1 526.1L460.5 520.5ZM457.6 523.0L463.2 528.6L457.6 534.2L452.0 528.6ZM452.9 518.2L458.5 523.8L452.9 529.4L447.3 523.8ZM459.2 511.4L464.8 517.0L459.2 522.6L453.6 517.0ZM453.4 503.6L459.0 509.2L453.4 514.8L447.8 509.2ZM461.2 495.8L466.8 501.4L461.2 507.0L455.6 501.4ZM469.6 489.3L475.2 494.9L469.6 500.5L464.0 494.9ZM473.9 483.2L479.5 488.8L473.9 494.4L468.3 488.8Z" fill="#000"/>
</g>
<g id="panel-b">
<line x1="718.4" y1="128" x2="718.4" y2="557" stroke="#000" stroke-width="2.5" />
<line x1="710" y1="552.6" x2="1250" y2="552.6" stroke="#000" stroke-width="2.5" />
<line x1="710" y1="552.6" x2="718.3" y2="552.6" stroke="#000" stroke-width="2.2" />
<text x="702.3" y="557.5" font-size="25" text-anchor="end" fill="#000" >0.0</text>
<line x1="714.3" y1="514.1" x2="718.3" y2="514.1" stroke="#000" stroke-width="2.2" />
<line x1="710" y1="475.6" x2="718.3" y2="475.6" stroke="#000" stroke-width="2.2" />
<text x="702.3" y="480.5" font-size="25" text-anchor="end" fill="#000" >0.2</text>
<line x1="714.3" y1="437.1" x2="718.3" y2="437.1" stroke="#000" stroke-width="2.2" />
<line x1="710" y1="398.6" x2="718.3" y2="398.6" stroke="#000" stroke-width="2.2" />
<text x="702.3" y="403.5" font-size="25" text-anchor="end" fill="#000" >0.4</text>
<line x1="714.3" y1="360.1" x2="718.3" y2="360.1" stroke="#000" stroke-width="2.2" />
<line x1="710" y1="321.6" x2="718.3" y2="321.6" stroke="#000" stroke-width="2.2" />
<text x="702.3" y="326.5" font-size="25" text-anchor="end" fill="#000" >0.6</text>
<line x1="714.3" y1="283.1" x2="718.3" y2="283.1" stroke="#000" stroke-width="2.2" />
<line x1="710" y1="244.60000000000002" x2="718.3" y2="244.60000000000002" stroke="#000" stroke-width="2.2" />
<text x="702.3" y="249.50000000000003" font-size="25" text-anchor="end" fill="#000" >0.8</text>
<line x1="714.3" y1="206.10000000000002" x2="718.3" y2="206.10000000000002" stroke="#000" stroke-width="2.2" />
<line x1="710" y1="167.60000000000002" x2="718.3" y2="167.60000000000002" stroke="#000" stroke-width="2.2" />
<text x="702.3" y="172.50000000000003" font-size="25" text-anchor="end" fill="#000" >1.0</text>
<line x1="714.3" y1="129.10000000000002" x2="718.3" y2="129.10000000000002" stroke="#000" stroke-width="2.2" />
<line x1="714.3" y1="129" x2="718.3" y2="129" stroke="#000" stroke-width="2" />
<line x1="718.0" y1="552.6" x2="718.0" y2="557" stroke="#000" stroke-width="2" />
<line x1="771.2" y1="552.6" x2="771.2" y2="560.6" stroke="#000" stroke-width="2" />
<text x="771.2" y="582.4" font-size="25" text-anchor="middle" fill="#000" >0</text>
<line x1="824.4000000000001" y1="552.6" x2="824.4000000000001" y2="557" stroke="#000" stroke-width="2" />
<line x1="877.6" y1="552.6" x2="877.6" y2="560.6" stroke="#000" stroke-width="2" />
<text x="877.6" y="582.4" font-size="25" text-anchor="middle" fill="#000" >2</text>
<line x1="930.8000000000001" y1="552.6" x2="930.8000000000001" y2="557" stroke="#000" stroke-width="2" />
<line x1="984.0" y1="552.6" x2="984.0" y2="560.6" stroke="#000" stroke-width="2" />
<text x="984.0" y="582.4" font-size="25" text-anchor="middle" fill="#000" >4</text>
<line x1="1037.2" y1="552.6" x2="1037.2" y2="557" stroke="#000" stroke-width="2" />
<line x1="1090.4" y1="552.6" x2="1090.4" y2="560.6" stroke="#000" stroke-width="2" />
<text x="1090.4" y="582.4" font-size="25" text-anchor="middle" fill="#000" >6</text>
<line x1="1143.6000000000001" y1="552.6" x2="1143.6000000000001" y2="557" stroke="#000" stroke-width="2" />
<line x1="1196.8000000000002" y1="552.6" x2="1196.8000000000002" y2="560.6" stroke="#000" stroke-width="2" />
<text x="1196.8000000000002" y="582.4" font-size="25" text-anchor="middle" fill="#000" >8</text>
<line x1="1250.0" y1="552.6" x2="1250.0" y2="557" stroke="#000" stroke-width="2" />
<text x="984" y="614.2" font-size="28" text-anchor="middle" fill="#000" textLength="118.5" lengthAdjust="spacingAndGlyphs" >Time/min</text>
<text transform="translate(650.2 557.2) rotate(-90)" font-size="29" textLength="434" lengthAdjust="spacingAndGlyphs">Normalized fluorescence intensity</text>
<path d="M773.6 460.1V514.2M769.4 460.1h8.4M769.4 514.2h8.4M782.5 440.4V491.9M778.3 440.4h8.4M778.3 491.9h8.4M791.3 431.8V479.9M787.1 431.8h8.4M787.1 479.9h8.4M800.2 418.3V474.1M796.0 418.3h8.4M796.0 474.1h8.4M809.1 409.3V465.9M804.9 409.3h8.4M804.9 465.9h8.4M817.9 398.7V458.8M813.7 398.7h8.4M813.7 458.8h8.4M826.8 389.9V450.8M822.6 389.9h8.4M822.6 450.8h8.4M835.7 385.3V443.8M831.5 385.3h8.4M831.5 443.8h8.4M844.5 376.6V439.4M840.3 376.6h8.4M840.3 439.4h8.4M853.4 371.2V430.0M849.2 371.2h8.4M849.2 430.0h8.4M862.3 366.2V424.8M858.1 366.2h8.4M858.1 424.8h8.4M871.1 361.6V416.9M866.9 361.6h8.4M866.9 416.9h8.4M880.0 355.2V413.7M875.8 355.2h8.4M875.8 413.7h8.4M888.9 354.6V405.7M884.7 354.6h8.4M884.7 405.7h8.4M897.7 346.2V399.3M893.5 346.2h8.4M893.5 399.3h8.4M906.6 339.8V397.1M902.4 339.8h8.4M902.4 397.1h8.4M915.5 339.8V390.9M911.3 339.8h8.4M911.3 390.9h8.4M924.3 335.4V389.9M920.1 335.4h8.4M920.1 389.9h8.4M933.2 329.4V385.9M929.0 329.4h8.4M929.0 385.9h8.4M942.1 326.4V383.1M937.9 326.4h8.4M937.9 383.1h8.4M950.9 322.8V377.5M946.7 322.8h8.4M946.7 377.5h8.4M959.8 317.9V373.5M955.6 317.9h8.4M955.6 373.5h8.4M968.7 314.3V370.9M964.5 314.3h8.4M964.5 370.9h8.4M977.5 316.7V370.1M973.3 316.7h8.4M973.3 370.1h8.4M986.4 311.7V364.5M982.2 311.7h8.4M982.2 364.5h8.4M995.3 305.7V363.5M991.1 305.7h8.4M991.1 363.5h8.4M1004.1 305.3V359.8M999.9 305.3h8.4M999.9 359.8h8.4M1013.0 304.3V358.4M1008.8 304.3h8.4M1008.8 358.4h8.4M1021.9 301.3V356.4M1017.7 301.3h8.4M1017.7 356.4h8.4M1030.7 295.7V352.4M1026.5 295.7h8.4M1026.5 352.4h8.4M1039.6 294.3V350.8M1035.4 294.3h8.4M1035.4 350.8h8.4M1048.5 292.9V349.8M1044.3 292.9h8.4M1044.3 349.8h8.4M1057.3 289.4V346.5M1053.1 289.4h8.4M1053.1 346.5h8.4M1066.2 287.4V342.5M1062.0 287.4h8.4M1062.0 342.5h8.4M1075.1 281.4V343.9M1070.9 281.4h8.4M1070.9 343.9h8.4M1083.9 273.3V336.9M1079.7 273.3h8.4M1079.7 336.9h8.4M1092.8 277.3V331.9M1088.6 277.3h8.4M1088.6 331.9h8.4M1101.7 277.3V334.1M1097.5 277.3h8.4M1097.5 334.1h8.4M1110.5 275.7V332.9M1106.3 275.7h8.4M1106.3 332.9h8.4M1119.4 271.3V326.9M1115.2 271.3h8.4M1115.2 326.9h8.4M1128.3 266.3V326.9M1124.1 266.3h8.4M1124.1 326.9h8.4M1137.1 264.7V324.9M1132.9 264.7h8.4M1132.9 324.9h8.4M1146.0 266.9V319.8M1141.8 266.9h8.4M1141.8 319.8h8.4M1154.9 265.7V321.5M1150.7 265.7h8.4M1150.7 321.5h8.4M1163.7 262.7V317.4M1159.5 262.7h8.4M1159.5 317.4h8.4M1172.6 261.9V317.8M1168.4 261.9h8.4M1168.4 317.8h8.4M1181.5 260.3V314.0M1177.3 260.3h8.4M1177.3 314.0h8.4M1190.3 258.3V309.4M1186.1 258.3h8.4M1186.1 309.4h8.4M1199.2 259.9V309.4M1195.0 259.9h8.4M1195.0 309.4h8.4" fill="none" stroke="#111" stroke-width="1.9"/>
<path d="M773.6 456.4V482.9M769.4 456.4h8.4M769.4 482.9h8.4M782.5 418.3V448.0M778.3 418.3h8.4M778.3 448.0h8.4M791.3 398.3V430.8M787.1 398.3h8.4M787.1 430.8h8.4M800.2 386.3V418.3M796.0 386.3h8.4M796.0 418.3h8.4M809.1 366.6V404.7M804.9 366.6h8.4M804.9 404.7h8.4M817.9 349.2V398.3M813.7 349.2h8.4M813.7 398.3h8.4M826.8 338.5V389.3M822.6 338.5h8.4M822.6 389.3h8.4M835.7 336.1V377.8M831.5 336.1h8.4M831.5 377.8h8.4M844.5 326.5V373.2M840.3 326.5h8.4M840.3 373.2h8.4M853.4 317.1V366.2M849.2 317.1h8.4M849.2 366.2h8.4M862.3 301.7V352.6M858.1 301.7h8.4M858.1 352.6h8.4M871.1 305.7V356.6M866.9 305.7h8.4M866.9 356.6h8.4M880.0 295.0V352.2M875.8 295.0h8.4M875.8 352.2h8.4M888.9 288.4V342.6M884.7 288.4h8.4M884.7 342.6h8.4M897.7 281.6V339.7M893.5 281.6h8.4M893.5 339.7h8.4M906.6 273.2V331.8M902.4 273.2h8.4M902.4 331.8h8.4M915.5 275.8V328.8M911.3 275.8h8.4M911.3 328.8h8.4M924.3 269.2V327.8M920.1 269.2h8.4M920.1 327.8h8.4M933.2 267.2V326.8M929.0 267.2h8.4M929.0 326.8h8.4M942.1 258.8V317.3M937.9 258.8h8.4M937.9 317.3h8.4M950.9 260.2V311.3M946.7 260.2h8.4M946.7 311.3h8.4M959.8 259.2V311.3M955.6 259.2h8.4M955.6 311.3h8.4M968.7 244.6V312.7M964.5 244.6h8.4M964.5 312.7h8.4M977.5 236.7V305.3M973.3 236.7h8.4M973.3 305.3h8.4M986.4 243.8V302.7M982.2 243.8h8.4M982.2 302.7h8.4M995.3 238.7V302.3M991.1 238.7h8.4M991.1 302.3h8.4M1004.1 239.1V295.7M999.9 239.1h8.4M999.9 295.7h8.4M1013.0 239.5V290.3M1008.8 239.5h8.4M1008.8 290.3h8.4M1021.9 239.5V289.9M1017.7 239.5h8.4M1017.7 289.9h8.4M1030.7 238.1V289.3M1026.5 238.1h8.4M1026.5 289.3h8.4M1039.6 235.1V288.3M1035.4 235.1h8.4M1035.4 288.3h8.4M1048.5 239.1V279.6M1044.3 239.1h8.4M1044.3 279.6h8.4M1057.3 233.8V286.0M1053.1 233.8h8.4M1053.1 286.0h8.4M1066.2 231.8V287.4M1062.0 231.8h8.4M1062.0 287.4h8.4M1075.1 221.8V277.9M1070.9 221.8h8.4M1070.9 277.9h8.4M1083.9 225.2V273.3M1079.7 225.2h8.4M1079.7 273.3h8.4M1092.8 217.2V273.9M1088.6 217.2h8.4M1088.6 273.9h8.4M1101.7 209.2V272.3M1097.5 209.2h8.4M1097.5 272.3h8.4M1110.5 208.8V266.3M1106.3 208.8h8.4M1106.3 266.3h8.4M1119.4 214.8V271.3M1115.2 214.8h8.4M1115.2 271.3h8.4M1128.3 221.2V262.3M1124.1 221.2h8.4M1124.1 262.3h8.4M1137.1 210.2V274.7M1132.9 210.2h8.4M1132.9 274.7h8.4M1146.0 209.6V260.9M1141.8 209.6h8.4M1141.8 260.9h8.4M1154.9 205.6V261.7M1150.7 205.6h8.4M1150.7 261.7h8.4M1163.7 209.6V262.3M1159.5 209.6h8.4M1159.5 262.3h8.4M1172.6 197.7V264.7M1168.4 197.7h8.4M1168.4 264.7h8.4M1181.5 204.2V260.3M1177.3 204.2h8.4M1177.3 260.3h8.4M1190.3 207.2V258.3M1186.1 207.2h8.4M1186.1 258.3h8.4M1199.2 204.8V254.3M1195.0 204.8h8.4M1195.0 254.3h8.4" fill="none" stroke="#d9271c" stroke-width="1.9"/>
<path d="M773.6 486.5 L782.5 465.5 L791.3 454.4 L800.2 446.0 L809.1 437.4 L817.9 428.4 L826.8 421.0 L835.7 414.7 L844.5 407.3 L853.4 400.9 L862.3 395.3 L871.1 389.9 L880.0 385.3 L888.9 380.3 L897.7 373.2 L906.6 368.5 L915.5 365.5 L924.3 362.9 L933.2 358.0 L942.1 354.4 L950.9 350.0 L959.8 346.0 L968.7 343.0 L977.5 344.0 L986.4 338.4 L995.3 334.4 L1004.1 332.8 L1013.0 330.8 L1021.9 328.4 L1030.7 324.0 L1039.6 322.8 L1048.5 321.0 L1057.3 317.4 L1066.2 314.4 L1075.1 312.0 L1083.9 304.8 L1092.8 304.4 L1101.7 305.4 L1110.5 304.0 L1119.4 299.0 L1128.3 296.4 L1137.1 294.4 L1146.0 293.4 L1154.9 292.8 L1163.7 289.4 L1172.6 289.8 L1181.5 287.0 L1190.3 284.0 L1199.2 284.4" fill="none" stroke="#000" stroke-width="4" stroke-linejoin="round"/>
<path d="M771.9 167.6 L773.6 469.7 L782.5 439.4 L791.3 418.3 L800.2 404.3 L809.1 387.3 L817.9 373.2 L826.8 363.2 L835.7 355.8 L844.5 348.2 L853.4 340.2 L862.3 327.1 L871.1 331.1 L880.0 323.1 L888.9 315.1 L897.7 307.1 L906.6 303.3 L915.5 302.3 L924.3 299.3 L933.2 296.9 L942.1 288.3 L950.9 285.7 L959.8 284.7 L968.7 278.6 L977.5 270.8 L986.4 273.8 L995.3 270.2 L1004.1 267.2 L1013.0 265.2 L1021.9 264.6 L1030.7 263.6 L1039.6 261.8 L1048.5 259.6 L1057.3 259.9 L1066.2 259.9 L1075.1 249.3 L1083.9 249.3 L1092.8 244.3 L1101.7 239.6 L1110.5 237.2 L1119.4 242.3 L1128.3 240.9 L1137.1 241.9 L1146.0 235.2 L1154.9 233.2 L1163.7 236.2 L1172.6 231.2 L1181.5 231.8 L1190.3 231.8 L1199.2 229.2" fill="none" stroke="#d9271c" stroke-width="3.6" stroke-linejoin="miter" stroke-miterlimit="10"/>
<rect x="1124.8" y="128.8" width="159.6" height="57.6" fill="#fff" stroke="#333" stroke-width="1.1"/>
<line x1="1127" y1="143.6" x2="1179" y2="143.6" stroke="#000" stroke-width="4.5" />
<line x1="1127" y1="171" x2="1179" y2="171" stroke="#d9271c" stroke-width="3.8" />
<text x="1183.2" y="151.7" font-size="24.8" text-anchor="start" fill="#000" textLength="80" lengthAdjust="spacingAndGlyphs" >Control</text>
<text x="1183.2" y="178.4" font-size="24.8" text-anchor="start" fill="#000" textLength="52.5" lengthAdjust="spacingAndGlyphs" >DRB</text>
</g>
<g id="panel-d">
<line x1="1361.5" y1="41.5" x2="1361.5" y2="552.7" stroke="#000" stroke-width="2.7" />
<line x1="1351" y1="551.5" x2="1641.5" y2="551.5" stroke="#000" stroke-width="2.7" />
<line x1="1351" y1="551.5" x2="1361.3" y2="551.5" stroke="#000" stroke-width="2.5" />
<text x="1345.4" y="557.8" font-size="25" text-anchor="end" fill="#000" >0</text>
<line x1="1356" y1="519.7" x2="1361.3" y2="519.7" stroke="#000" stroke-width="2.5" />
<line x1="1351" y1="487.9" x2="1361.3" y2="487.9" stroke="#000" stroke-width="2.5" />
<text x="1345.4" y="494.2" font-size="25" text-anchor="end" fill="#000" >1</text>
<line x1="1356" y1="456.09999999999997" x2="1361.3" y2="456.09999999999997" stroke="#000" stroke-width="2.5" />
<line x1="1351" y1="424.3" x2="1361.3" y2="424.3" stroke="#000" stroke-width="2.5" />
<text x="1345.4" y="430.6" font-size="25" text-anchor="end" fill="#000" >2</text>
<line x1="1356" y1="392.5" x2="1361.3" y2="392.5" stroke="#000" stroke-width="2.5" />
<line x1="1351" y1="360.7" x2="1361.3" y2="360.7" stroke="#000" stroke-width="2.5" />
<text x="1345.4" y="367.0" font-size="25" text-anchor="end" fill="#000" >3</text>
<line x1="1356" y1="328.9" x2="1361.3" y2="328.9" stroke="#000" stroke-width="2.5" />
<line x1="1351" y1="297.1" x2="1361.3" y2="297.1" stroke="#000" stroke-width="2.5" />
<text x="1345.4" y="303.40000000000003" font-size="25" text-anchor="end" fill="#000" >4</text>
<line x1="1356" y1="265.3" x2="1361.3" y2="265.3" stroke="#000" stroke-width="2.5" />
<line x1="1351" y1="233.5" x2="1361.3" y2="233.5" stroke="#000" stroke-width="2.5" />
<text x="1345.4" y="239.8" font-size="25" text-anchor="end" fill="#000" >5</text>
<line x1="1356" y1="201.7" x2="1361.3" y2="201.7" stroke="#000" stroke-width="2.5" />
<line x1="1351" y1="169.89999999999998" x2="1361.3" y2="169.89999999999998" stroke="#000" stroke-width="2.5" />
<text x="1345.4" y="176.2" font-size="25" text-anchor="end" fill="#000" >6</text>
<line x1="1356" y1="138.09999999999997" x2="1361.3" y2="138.09999999999997" stroke="#000" stroke-width="2.5" />
<line x1="1351" y1="106.30000000000001" x2="1361.3" y2="106.30000000000001" stroke="#000" stroke-width="2.5" />
<text x="1345.4" y="112.60000000000001" font-size="25" text-anchor="end" fill="#000" >7</text>
<line x1="1356" y1="74.50000000000001" x2="1361.3" y2="74.50000000000001" stroke="#000" stroke-width="2.5" />
<line x1="1351" y1="42.69999999999999" x2="1361.3" y2="42.69999999999999" stroke="#000" stroke-width="2.5" />
<text x="1345.4" y="48.999999999999986" font-size="25" text-anchor="end" fill="#000" >8</text>
<line x1="1430.8" y1="551.5" x2="1430.8" y2="561.5" stroke="#000" stroke-width="2.5" />
<line x1="1571.2" y1="551.5" x2="1571.2" y2="561.5" stroke="#000" stroke-width="2.5" />
<text x="1436" y="590.7" font-size="29" text-anchor="middle" fill="#000" textLength="93.6" lengthAdjust="spacingAndGlyphs" >Control</text>
<text x="1572" y="590.7" font-size="29" text-anchor="middle" fill="#000" textLength="62" lengthAdjust="spacingAndGlyphs" >DRB</text>
<text transform="translate(1307.8 360.5) rotate(-90)" font-size="28">τ</text>
<text transform="translate(1317 346.3) rotate(-90)" font-size="13.5">1/2</text>
<text transform="translate(1307.8 326.8) rotate(-90)" font-size="28" textLength="60.6" lengthAdjust="spacingAndGlyphs">(min)</text>
<path d="M1430.9 85.5V72H1572V85.5" fill="none" stroke="#000" stroke-width="1.7"/>
<text x="1504" y="67.0" font-size="27.5" text-anchor="middle" fill="#000" >**</text>
<path d="M1442.5 142.5L1449.3 149.3L1442.5 156.1L1435.7 149.3ZM1426.7 244.9L1433.5 251.7L1426.7 258.5L1419.9 251.7ZM1433.2 281.8L1440.0 288.6L1433.2 295.4L1426.4 288.6ZM1429.5 291.8L1436.3 298.6L1429.5 305.4L1422.7 298.6ZM1430.1 308.5L1436.9 315.3L1430.1 322.1L1423.3 315.3ZM1428.1 327.1L1434.9 333.9L1428.1 340.7L1421.3 333.9ZM1439.6 340.6L1446.4 347.4L1439.6 354.2L1432.8 347.4ZM1428.1 357.6L1434.9 364.4L1428.1 371.2L1421.3 364.4ZM1428.5 363.2L1435.3 370.0L1428.5 376.8L1421.7 370.0ZM1425.1 373.1L1431.9 379.9L1425.1 386.7L1418.3 379.9ZM1432.6 382.3L1439.4 389.1L1432.6 395.9L1425.8 389.1ZM1423.1 386.1L1429.9 392.9L1423.1 399.7L1416.3 392.9ZM1429.0 387.7L1435.8 394.5L1429.0 401.3L1422.2 394.5ZM1431.0 390.7L1437.8 397.5L1431.0 404.3L1424.2 397.5ZM1428.1 399.7L1434.9 406.5L1428.1 413.3L1421.3 406.5ZM1425.1 404.7L1431.9 411.5L1425.1 418.3L1418.3 411.5ZM1431.0 403.7L1437.8 410.5L1431.0 417.3L1424.2 410.5ZM1434.2 406.8L1441.0 413.6L1434.2 420.4L1427.4 413.6ZM1421.1 411.2L1427.9 418.0L1421.1 424.8L1414.3 418.0ZM1432.6 428.8L1439.4 435.6L1432.6 442.4L1425.8 435.6ZM1438.2 435.8L1445.0 442.6L1438.2 449.4L1431.4 442.6ZM1423.5 439.2L1430.3 446.0L1423.5 452.8L1416.7 446.0Z" fill="#808080"/>
<path d="M1569.6 321.3L1576.4 328.1L1569.6 334.9L1562.8 328.1ZM1580.8 421.6L1587.6 428.4L1580.8 435.2L1574.0 428.4ZM1576.2 419.6L1583.0 426.4L1576.2 433.2L1569.4 426.4ZM1568.2 430.6L1575.0 437.4L1568.2 444.2L1561.4 437.4ZM1558.6 445.7L1565.4 452.5L1558.6 459.3L1551.8 452.5ZM1573.6 451.7L1580.4 458.5L1573.6 465.3L1566.8 458.5ZM1571.0 446.7L1577.8 453.5L1571.0 460.3L1564.2 453.5ZM1564.6 476.8L1571.4 483.6L1564.6 490.4L1557.8 483.6Z" fill="#808080"/>
<line x1="1394.4" y1="364.4" x2="1467.6" y2="364.4" stroke="#000" stroke-width="3.7" />
<path d="M1431.1 347.8V381.1M1422.7 347.8H1439.6M1422.7 381.1H1439.6" fill="none" stroke="#000" stroke-width="3.4"/>
<line x1="1535.1" y1="437.4" x2="1608.3" y2="437.4" stroke="#000" stroke-width="3.7" />
<path d="M1571.6 424V450M1563.2 424H1579.8M1563.2 450H1579.8" fill="none" stroke="#000" stroke-width="3.6"/>
</g>
<g id="panel-c">
<text x="18.4" y="859.8" font-size="29" text-anchor="start" fill="#000" textLength="95.5" lengthAdjust="spacingAndGlyphs" >Control</text>
<text x="18.2" y="1165.7" font-size="29" text-anchor="start" fill="#000" textLength="62" lengthAdjust="spacingAndGlyphs" >DRB</text>
<g transform="translate(126 693)">
<rect x="0" y="0" width="295" height="295" fill="#030003"/>
<g clip-path="url(#pc)">
<ellipse cx="150" cy="150" rx="82" ry="100" fill="#1a0420" opacity="0.18" filter="url(#hz)"/>
<g mask="url(#mctl)"><rect x="0" y="0" width="295" height="295" filter="url(#grain)" opacity="0.55"/></g>
<g filter="url(#rough)"><circle cx="125.4" cy="58.8" r="3.3" fill="url(#sp)" opacity="0.43"/><circle cx="125.5" cy="59.1" r="2.4" fill="url(#sp)" opacity="0.43"/><circle cx="126.7" cy="60.4" r="3.5" fill="url(#sp)" opacity="0.42"/><circle cx="139.2" cy="63.2" r="2.2" fill="url(#sp)" opacity="0.42"/><circle cx="138.2" cy="62.0" r="2.2" fill="url(#sp)" opacity="0.49"/><circle cx="138.0" cy="62.6" r="2.8" fill="url(#sp)" opacity="0.40"/><circle cx="171.0" cy="66.5" r="3.3" fill="url(#sp)" opacity="0.62"/><circle cx="170.9" cy="67.7" r="3.5" fill="url(#sp)" opacity="0.57"/><circle cx="169.4" cy="66.8" r="3.5" fill="url(#sp)" opacity="0.55"/><circle cx="126.2" cy="71.1" r="5.0" fill="url(#sp)" opacity="0.88"/><circle cx="127.2" cy="73.6" r="4.5" fill="url(#sp)" opacity="0.84"/><circle cx="128.1" cy="71.5" r="4.4" fill="url(#sp)" opacity="0.94"/><circle cx="116.4" cy="79.3" r="3.4" fill="url(#sp)" opacity="0.68"/><circle cx="116.4" cy="78.4" r="3.0" fill="url(#sp)" opacity="0.61"/><circle cx="116.5" cy="79.5" r="3.2" fill="url(#sp)" opacity="0.68"/><circle cx="116.6" cy="88.2" r="3.2" fill="url(#sp)" opacity="0.90"/><circle cx="116.8" cy="89.1" r="4.2" fill="url(#sp)" opacity="0.91"/><circle cx="116.7" cy="87.2" r="3.7" fill="url(#sp)" opacity="0.75"/><circle cx="163.3" cy="90.5" r="3.0" fill="url(#sp)" opacity="0.85"/><circle cx="165.3" cy="90.5" r="3.8" fill="url(#sp)" opacity="0.90"/><circle cx="164.1" cy="90.0" r="3.5" fill="url(#sp)" opacity="0.93"/><circle cx="182.7" cy="89.5" r="3.9" fill="url(#sp)" opacity="0.81"/><circle cx="182.9" cy="89.8" r="4.7" fill="url(#sp)" opacity="0.78"/><circle cx="184.8" cy="90.5" r="4.3" fill="url(#sp)" opacity="0.89"/><circle cx="189.3" cy="92.0" r="3.1" fill="url(#sp)" opacity="0.65"/><circle cx="189.8" cy="92.2" r="2.9" fill="url(#sp)" opacity="0.79"/><circle cx="188.3" cy="91.0" r="2.9" fill="url(#sp)" opacity="0.65"/><circle cx="152.0" cy="105.8" r="2.7" fill="url(#sp)" opacity="0.41"/><circle cx="150.9" cy="107.2" r="3.6" fill="url(#sp)" opacity="0.44"/><circle cx="151.4" cy="105.8" r="2.4" fill="url(#sp)" opacity="0.41"/><circle cx="104.2" cy="111.9" r="2.3" fill="url(#sp)" opacity="0.46"/><circle cx="102.6" cy="113.1" r="2.2" fill="url(#sp)" opacity="0.50"/><circle cx="104.3" cy="112.9" r="2.3" fill="url(#sp)" opacity="0.48"/><circle cx="201.5" cy="120.4" r="5.4" fill="url(#sp)" opacity="0.88"/><circle cx="200.0" cy="121.3" r="4.9" fill="url(#sp)" opacity="0.80"/><circle cx="200.8" cy="122.3" r="5.1" fill="url(#sp)" opacity="0.82"/><circle cx="124.4" cy="125.2" r="3.6" fill="url(#sp)" opacity="0.62"/><circle cx="123.1" cy="125.9" r="3.6" fill="url(#sp)" opacity="0.64"/><circle cx="122.9" cy="124.9" r="3.8" fill="url(#sp)" opacity="0.77"/><circle cx="218.5" cy="123.9" r="1.7" fill="url(#sp)" opacity="0.31"/><circle cx="219.1" cy="124.2" r="1.6" fill="url(#sp)" opacity="0.36"/><circle cx="175.7" cy="122.5" r="1.7" fill="url(#sp)" opacity="0.39"/><circle cx="175.7" cy="122.7" r="2.3" fill="url(#sp)" opacity="0.31"/><circle cx="151.0" cy="139.1" r="4.5" fill="url(#sp)" opacity="0.98"/><circle cx="149.2" cy="139.3" r="4.4" fill="url(#sp)" opacity="0.84"/><circle cx="149.6" cy="137.7" r="4.0" fill="url(#sp)" opacity="0.89"/><circle cx="171.5" cy="142.2" r="6.5" fill="url(#sp)" opacity="0.80"/><circle cx="173.0" cy="142.6" r="7.4" fill="url(#sp)" opacity="0.90"/><circle cx="171.7" cy="142.0" r="7.7" fill="url(#sp)" opacity="0.94"/><circle cx="132.4" cy="146.0" r="5.4" fill="url(#sp)" opacity="0.75"/><circle cx="133.3" cy="148.4" r="3.7" fill="url(#sp)" opacity="0.83"/><circle cx="132.1" cy="148.3" r="4.8" fill="url(#sp)" opacity="0.98"/><circle cx="73.4" cy="144.7" r="2.1" fill="url(#sp)" opacity="0.49"/><circle cx="73.8" cy="143.9" r="1.8" fill="url(#sp)" opacity="0.40"/><circle cx="93.8" cy="151.4" r="2.8" fill="url(#sp)" opacity="0.98"/><circle cx="95.9" cy="152.1" r="4.0" fill="url(#sp)" opacity="0.76"/><circle cx="93.4" cy="150.4" r="2.7" fill="url(#sp)" opacity="0.87"/><circle cx="108.7" cy="155.3" r="4.0" fill="url(#sp)" opacity="0.80"/><circle cx="108.0" cy="157.0" r="5.3" fill="url(#sp)" opacity="0.81"/><circle cx="109.2" cy="155.0" r="5.1" fill="url(#sp)" opacity="0.79"/><circle cx="146.1" cy="152.8" r="4.2" fill="url(#sp)" opacity="0.84"/><circle cx="146.5" cy="151.4" r="3.8" fill="url(#sp)" opacity="0.76"/><circle cx="146.4" cy="152.5" r="4.0" fill="url(#sp)" opacity="1.00"/><circle cx="86.5" cy="157.6" r="5.1" fill="url(#sp)" opacity="0.89"/><circle cx="85.8" cy="157.1" r="4.7" fill="url(#sp)" opacity="0.83"/><circle cx="87.6" cy="156.9" r="4.6" fill="url(#sp)" opacity="0.94"/><circle cx="217.1" cy="155.1" r="4.4" fill="url(#sp)" opacity="0.77"/><circle cx="218.8" cy="155.9" r="5.7" fill="url(#sp)" opacity="0.96"/><circle cx="217.9" cy="157.6" r="4.6" fill="url(#sp)" opacity="0.92"/><circle cx="203.0" cy="153.1" r="3.2" fill="url(#sp)" opacity="0.61"/><circle cx="204.3" cy="153.5" r="2.8" fill="url(#sp)" opacity="0.70"/><circle cx="203.4" cy="154.4" r="3.6" fill="url(#sp)" opacity="0.69"/><circle cx="189.5" cy="161.6" r="5.0" fill="url(#sp)" opacity="0.73"/><circle cx="190.7" cy="161.6" r="4.0" fill="url(#sp)" opacity="0.75"/><circle cx="187.6" cy="161.1" r="3.6" fill="url(#sp)" opacity="0.74"/><circle cx="198.3" cy="159.4" r="2.6" fill="url(#sp)" opacity="0.54"/><circle cx="197.3" cy="159.0" r="2.7" fill="url(#sp)" opacity="0.60"/><circle cx="197.2" cy="159.0" r="3.0" fill="url(#sp)" opacity="0.48"/><circle cx="223.4" cy="158.3" r="2.1" fill="url(#sp)" opacity="0.43"/><circle cx="223.2" cy="159.0" r="1.9" fill="url(#sp)" opacity="0.43"/><circle cx="180.5" cy="171.2" r="2.6" fill="url(#sp)" opacity="0.62"/><circle cx="180.8" cy="170.2" r="2.2" fill="url(#sp)" opacity="0.64"/><circle cx="180.3" cy="170.6" r="2.4" fill="url(#sp)" opacity="0.54"/><circle cx="76.0" cy="173.0" r="2.9" fill="url(#sp)" opacity="0.77"/><circle cx="76.2" cy="174.3" r="3.4" fill="url(#sp)" opacity="0.63"/><circle cx="75.8" cy="175.7" r="3.3" fill="url(#sp)" opacity="0.68"/><circle cx="103.7" cy="177.2" r="4.4" fill="url(#sp)" opacity="0.76"/><circle cx="102.8" cy="176.4" r="3.9" fill="url(#sp)" opacity="0.85"/><circle cx="103.0" cy="176.4" r="4.3" fill="url(#sp)" opacity="0.82"/><circle cx="88.7" cy="187.1" r="2.7" fill="url(#sp)" opacity="0.59"/><circle cx="90.1" cy="187.8" r="2.2" fill="url(#sp)" opacity="0.60"/><circle cx="90.1" cy="187.9" r="2.3" fill="url(#sp)" opacity="0.62"/><circle cx="205.4" cy="190.0" r="3.8" fill="url(#sp)" opacity="0.86"/><circle cx="206.9" cy="191.3" r="4.4" fill="url(#sp)" opacity="0.84"/><circle cx="206.7" cy="191.5" r="4.0" fill="url(#sp)" opacity="0.85"/><circle cx="112.6" cy="194.6" r="3.5" fill="url(#sp)" opacity="0.76"/><circle cx="112.3" cy="193.1" r="3.9" fill="url(#sp)" opacity="0.78"/><circle cx="112.7" cy="193.4" r="4.1" fill="url(#sp)" opacity="0.67"/><circle cx="157.4" cy="194.6" r="3.8" fill="url(#sp)" opacity="0.89"/><circle cx="155.0" cy="195.9" r="3.2" fill="url(#sp)" opacity="0.91"/><circle cx="157.2" cy="195.9" r="3.0" fill="url(#sp)" opacity="0.83"/><circle cx="88.5" cy="198.6" r="1.7" fill="url(#sp)" opacity="0.43"/><circle cx="88.7" cy="198.7" r="1.7" fill="url(#sp)" opacity="0.45"/><circle cx="179.6" cy="201.9" r="3.5" fill="url(#sp)" opacity="0.58"/><circle cx="178.3" cy="201.5" r="3.1" fill="url(#sp)" opacity="0.58"/><circle cx="179.4" cy="200.9" r="3.1" fill="url(#sp)" opacity="0.61"/><circle cx="166.2" cy="206.3" r="7.8" fill="url(#sp)" opacity="0.93"/><circle cx="167.6" cy="208.7" r="5.8" fill="url(#sp)" opacity="1.00"/><circle cx="164.6" cy="209.7" r="7.5" fill="url(#sp)" opacity="0.78"/><circle cx="165.3" cy="214.7" r="4.3" fill="url(#sp)" opacity="0.80"/><circle cx="164.0" cy="215.0" r="3.6" fill="url(#sp)" opacity="0.76"/><circle cx="164.6" cy="215.8" r="3.9" fill="url(#sp)" opacity="0.81"/><circle cx="206.5" cy="212.7" r="4.1" fill="url(#sp)" opacity="0.77"/><circle cx="205.1" cy="211.2" r="3.8" fill="url(#sp)" opacity="0.75"/><circle cx="206.1" cy="212.5" r="3.6" fill="url(#sp)" opacity="0.78"/><circle cx="87.1" cy="210.7" r="1.6" fill="url(#sp)" opacity="0.39"/><circle cx="86.5" cy="211.6" r="1.2" fill="url(#sp)" opacity="0.38"/><circle cx="116.7" cy="228.3" r="4.7" fill="url(#sp)" opacity="0.99"/><circle cx="115.4" cy="228.1" r="5.0" fill="url(#sp)" opacity="0.94"/><circle cx="116.6" cy="228.5" r="5.4" fill="url(#sp)" opacity="0.93"/><circle cx="146.8" cy="232.5" r="3.2" fill="url(#sp)" opacity="0.85"/><circle cx="146.6" cy="231.9" r="3.4" fill="url(#sp)" opacity="0.85"/><circle cx="148.5" cy="232.0" r="3.4" fill="url(#sp)" opacity="0.98"/><circle cx="161.0" cy="228.9" r="2.0" fill="url(#sp)" opacity="0.42"/><circle cx="161.3" cy="228.5" r="2.7" fill="url(#sp)" opacity="0.45"/><circle cx="159.5" cy="227.8" r="2.9" fill="url(#sp)" opacity="0.39"/><circle cx="156.7" cy="238.6" r="2.4" fill="url(#sp)" opacity="0.67"/><circle cx="158.3" cy="239.1" r="3.1" fill="url(#sp)" opacity="0.75"/><circle cx="157.5" cy="238.5" r="3.3" fill="url(#sp)" opacity="0.75"/><circle cx="178.4" cy="238.7" r="3.9" fill="url(#sp)" opacity="0.96"/><circle cx="177.6" cy="239.6" r="4.3" fill="url(#sp)" opacity="0.93"/><circle cx="176.4" cy="239.4" r="4.4" fill="url(#sp)" opacity="0.96"/><circle cx="168.6" cy="225.0" r="2.2" fill="url(#sp)" opacity="0.38"/><circle cx="169.1" cy="225.5" r="1.9" fill="url(#sp)" opacity="0.49"/><circle cx="135.5" cy="231.4" r="1.4" fill="url(#sp)" opacity="0.37"/><circle cx="135.2" cy="230.4" r="1.2" fill="url(#sp)" opacity="0.40"/><circle cx="217.5" cy="205.6" r="1.2" fill="url(#sp)" opacity="0.34"/><circle cx="217.0" cy="205.1" r="1.3" fill="url(#sp)" opacity="0.31"/><circle cx="222.4" cy="175.2" r="1.5" fill="url(#sp)" opacity="0.32"/><circle cx="221.9" cy="174.9" r="1.2" fill="url(#sp)" opacity="0.32"/>
<circle cx="80.8" cy="99.8" r="5.7" fill="url(#sp)" opacity="0.94"/><circle cx="79.3" cy="99.1" r="5.4" fill="url(#sp)" opacity="0.99"/><circle cx="78.9" cy="96.9" r="4.7" fill="url(#sp)" opacity="0.85"/></g>
<rect x="69.5" y="85" width="24.6" height="24.6" fill="none" stroke="#fff" stroke-width="2"/>
</g>
<rect x="194" y="270" width="88" height="4.2" fill="#fff"/>
<text x="283.4" y="37" font-size="29" text-anchor="end" fill="#fff" >0</text>
</g>
<g transform="translate(433 693)">
<rect x="0" y="0" width="295" height="295" fill="#030003"/>
<g clip-path="url(#pc)">
<ellipse cx="150" cy="150" rx="82" ry="100" fill="#1a0420" opacity="0.18" filter="url(#hz)"/>
<g mask="url(#mctl)"><rect x="0" y="0" width="295" height="295" filter="url(#grain)" opacity="0.55"/></g>
<g filter="url(#rough)"><circle cx="126.9" cy="58.9" r="2.9" fill="url(#sp)" opacity="0.46"/><circle cx="125.5" cy="59.6" r="2.7" fill="url(#sp)" opacity="0.46"/><circle cx="125.8" cy="60.8" r="2.4" fill="url(#sp)" opacity="0.40"/><circle cx="137.7" cy="64.1" r="2.3" fill="url(#sp)" opacity="0.45"/><circle cx="137.9" cy="63.8" r="2.4" fill="url(#sp)" opacity="0.41"/><circle cx="139.0" cy="64.3" r="2.7" fill="url(#sp)" opacity="0.46"/><circle cx="170.8" cy="66.7" r="2.9" fill="url(#sp)" opacity="0.64"/><circle cx="172.1" cy="66.2" r="3.0" fill="url(#sp)" opacity="0.59"/><circle cx="172.4" cy="66.3" r="2.4" fill="url(#sp)" opacity="0.62"/><circle cx="126.8" cy="71.3" r="3.8" fill="url(#sp)" opacity="0.92"/><circle cx="126.6" cy="70.2" r="4.8" fill="url(#sp)" opacity="0.87"/><circle cx="124.6" cy="71.1" r="4.1" fill="url(#sp)" opacity="0.97"/><circle cx="117.3" cy="80.1" r="2.4" fill="url(#sp)" opacity="0.59"/><circle cx="118.5" cy="79.6" r="3.4" fill="url(#sp)" opacity="0.55"/><circle cx="116.8" cy="78.9" r="3.4" fill="url(#sp)" opacity="0.66"/><circle cx="116.2" cy="86.1" r="4.6" fill="url(#sp)" opacity="0.86"/><circle cx="116.1" cy="87.5" r="4.7" fill="url(#sp)" opacity="0.97"/><circle cx="115.7" cy="87.8" r="4.1" fill="url(#sp)" opacity="0.92"/><circle cx="164.0" cy="91.2" r="2.9" fill="url(#sp)" opacity="0.98"/><circle cx="164.2" cy="90.1" r="2.9" fill="url(#sp)" opacity="1.00"/><circle cx="164.7" cy="89.3" r="2.9" fill="url(#sp)" opacity="0.91"/><circle cx="182.2" cy="86.9" r="4.4" fill="url(#sp)" opacity="0.89"/><circle cx="183.8" cy="87.9" r="4.0" fill="url(#sp)" opacity="0.92"/><circle cx="182.4" cy="88.0" r="4.2" fill="url(#sp)" opacity="0.98"/><circle cx="189.6" cy="91.9" r="2.4" fill="url(#sp)" opacity="0.64"/><circle cx="189.3" cy="92.4" r="2.5" fill="url(#sp)" opacity="0.67"/><circle cx="188.6" cy="92.9" r="3.2" fill="url(#sp)" opacity="0.74"/><circle cx="151.4" cy="104.7" r="2.5" fill="url(#sp)" opacity="0.44"/><circle cx="151.4" cy="106.5" r="3.3" fill="url(#sp)" opacity="0.41"/><circle cx="151.2" cy="105.8" r="2.7" fill="url(#sp)" opacity="0.38"/><circle cx="102.4" cy="113.3" r="2.7" fill="url(#sp)" opacity="0.41"/><circle cx="102.1" cy="112.7" r="2.8" fill="url(#sp)" opacity="0.43"/><circle cx="103.7" cy="113.8" r="2.0" fill="url(#sp)" opacity="0.43"/><circle cx="199.2" cy="119.6" r="5.5" fill="url(#sp)" opacity="0.96"/><circle cx="201.2" cy="120.5" r="4.5" fill="url(#sp)" opacity="0.91"/><circle cx="198.5" cy="117.4" r="5.6" fill="url(#sp)" opacity="0.83"/><circle cx="124.0" cy="122.7" r="3.1" fill="url(#sp)" opacity="0.65"/><circle cx="124.5" cy="124.9" r="2.9" fill="url(#sp)" opacity="0.65"/><circle cx="124.3" cy="123.7" r="3.8" fill="url(#sp)" opacity="0.72"/><circle cx="218.9" cy="124.8" r="1.7" fill="url(#sp)" opacity="0.35"/><circle cx="218.7" cy="123.8" r="2.0" fill="url(#sp)" opacity="0.32"/><circle cx="175.4" cy="125.1" r="2.3" fill="url(#sp)" opacity="0.36"/><circle cx="175.8" cy="124.2" r="1.7" fill="url(#sp)" opacity="0.30"/><circle cx="151.1" cy="138.2" r="4.8" fill="url(#sp)" opacity="0.85"/><circle cx="149.9" cy="138.3" r="3.6" fill="url(#sp)" opacity="0.88"/><circle cx="150.5" cy="138.2" r="3.5" fill="url(#sp)" opacity="0.93"/><circle cx="171.4" cy="144.3" r="7.6" fill="url(#sp)" opacity="0.94"/><circle cx="170.7" cy="141.4" r="5.2" fill="url(#sp)" opacity="0.83"/><circle cx="171.0" cy="140.8" r="5.6" fill="url(#sp)" opacity="0.79"/><circle cx="134.0" cy="145.2" r="5.0" fill="url(#sp)" opacity="0.94"/><circle cx="132.8" cy="147.9" r="3.9" fill="url(#sp)" opacity="0.88"/><circle cx="134.2" cy="146.6" r="3.8" fill="url(#sp)" opacity="0.90"/><circle cx="74.1" cy="144.0" r="2.2" fill="url(#sp)" opacity="0.49"/><circle cx="73.5" cy="143.6" r="2.3" fill="url(#sp)" opacity="0.38"/><circle cx="95.2" cy="149.4" r="4.0" fill="url(#sp)" opacity="0.76"/><circle cx="95.6" cy="149.9" r="2.8" fill="url(#sp)" opacity="0.75"/><circle cx="96.9" cy="151.3" r="4.0" fill="url(#sp)" opacity="0.98"/><circle cx="108.3" cy="153.6" r="4.0" fill="url(#sp)" opacity="0.99"/><circle cx="107.6" cy="153.7" r="4.1" fill="url(#sp)" opacity="0.85"/><circle cx="107.9" cy="154.1" r="4.4" fill="url(#sp)" opacity="0.98"/><circle cx="147.2" cy="153.7" r="4.3" fill="url(#sp)" opacity="0.75"/><circle cx="145.9" cy="152.8" r="4.2" fill="url(#sp)" opacity="0.91"/><circle cx="147.5" cy="155.0" r="3.5" fill="url(#sp)" opacity="0.78"/><circle cx="87.4" cy="158.1" r="4.1" fill="url(#sp)" opacity="0.89"/><circle cx="86.7" cy="156.0" r="5.6" fill="url(#sp)" opacity="0.96"/><circle cx="85.9" cy="157.0" r="5.6" fill="url(#sp)" opacity="0.97"/><circle cx="215.6" cy="155.5" r="5.5" fill="url(#sp)" opacity="0.94"/><circle cx="218.4" cy="155.5" r="5.5" fill="url(#sp)" opacity="0.90"/><circle cx="218.9" cy="155.7" r="5.4" fill="url(#sp)" opacity="0.88"/><circle cx="202.3" cy="153.3" r="3.6" fill="url(#sp)" opacity="0.62"/><circle cx="203.6" cy="153.8" r="2.5" fill="url(#sp)" opacity="0.62"/><circle cx="203.7" cy="153.7" r="2.5" fill="url(#sp)" opacity="0.61"/><circle cx="189.7" cy="161.8" r="5.0" fill="url(#sp)" opacity="0.63"/><circle cx="189.2" cy="160.8" r="4.0" fill="url(#sp)" opacity="0.73"/><circle cx="189.9" cy="161.0" r="3.8" fill="url(#sp)" opacity="0.65"/><circle cx="198.4" cy="157.0" r="2.2" fill="url(#sp)" opacity="0.58"/><circle cx="198.2" cy="159.2" r="2.6" fill="url(#sp)" opacity="0.50"/><circle cx="199.3" cy="157.6" r="2.3" fill="url(#sp)" opacity="0.54"/><circle cx="223.7" cy="158.1" r="1.7" fill="url(#sp)" opacity="0.49"/><circle cx="222.7" cy="158.5" r="1.7" fill="url(#sp)" opacity="0.43"/><circle cx="181.3" cy="172.1" r="2.9" fill="url(#sp)" opacity="0.56"/><circle cx="181.7" cy="171.9" r="2.7" fill="url(#sp)" opacity="0.68"/><circle cx="181.3" cy="171.5" r="2.1" fill="url(#sp)" opacity="0.55"/><circle cx="77.4" cy="174.0" r="3.6" fill="url(#sp)" opacity="0.74"/><circle cx="76.9" cy="176.2" r="4.0" fill="url(#sp)" opacity="0.76"/><circle cx="76.5" cy="174.2" r="2.8" fill="url(#sp)" opacity="0.67"/><circle cx="104.6" cy="174.3" r="4.3" fill="url(#sp)" opacity="0.87"/><circle cx="104.3" cy="177.1" r="3.4" fill="url(#sp)" opacity="0.87"/><circle cx="103.4" cy="174.3" r="3.5" fill="url(#sp)" opacity="0.97"/><circle cx="88.3" cy="188.1" r="2.0" fill="url(#sp)" opacity="0.64"/><circle cx="88.1" cy="187.9" r="2.3" fill="url(#sp)" opacity="0.62"/><circle cx="89.2" cy="187.8" r="2.8" fill="url(#sp)" opacity="0.61"/><circle cx="205.7" cy="192.7" r="3.5" fill="url(#sp)" opacity="0.99"/><circle cx="204.7" cy="190.8" r="4.4" fill="url(#sp)" opacity="0.90"/><circle cx="205.6" cy="190.7" r="4.3" fill="url(#sp)" opacity="0.76"/><circle cx="110.4" cy="194.5" r="3.6" fill="url(#sp)" opacity="0.75"/><circle cx="109.8" cy="194.5" r="3.9" fill="url(#sp)" opacity="0.65"/><circle cx="110.6" cy="194.0" r="3.3" fill="url(#sp)" opacity="0.77"/><circle cx="157.0" cy="197.3" r="4.0" fill="url(#sp)" opacity="0.77"/><circle cx="155.8" cy="195.6" r="2.8" fill="url(#sp)" opacity="0.81"/><circle cx="155.8" cy="194.7" r="3.2" fill="url(#sp)" opacity="0.89"/><circle cx="88.2" cy="198.5" r="1.9" fill="url(#sp)" opacity="0.46"/><circle cx="87.2" cy="198.4" r="2.0" fill="url(#sp)" opacity="0.41"/><circle cx="179.6" cy="202.7" r="2.4" fill="url(#sp)" opacity="0.61"/><circle cx="180.0" cy="203.1" r="2.6" fill="url(#sp)" opacity="0.62"/><circle cx="179.1" cy="203.7" r="3.4" fill="url(#sp)" opacity="0.69"/><circle cx="167.1" cy="208.8" r="7.8" fill="url(#sp)" opacity="0.99"/><circle cx="167.8" cy="212.0" r="7.0" fill="url(#sp)" opacity="0.90"/><circle cx="166.1" cy="208.8" r="7.4" fill="url(#sp)" opacity="0.93"/><circle cx="164.5" cy="215.6" r="3.2" fill="url(#sp)" opacity="0.71"/><circle cx="163.7" cy="214.4" r="4.7" fill="url(#sp)" opacity="0.87"/><circle cx="164.7" cy="216.1" r="3.3" fill="url(#sp)" opacity="0.76"/><circle cx="205.4" cy="210.9" r="3.9" fill="url(#sp)" opacity="0.97"/><circle cx="205.0" cy="211.0" r="3.3" fill="url(#sp)" opacity="0.88"/><circle cx="203.7" cy="212.3" r="4.0" fill="url(#sp)" opacity="0.92"/><circle cx="85.9" cy="211.3" r="1.2" fill="url(#sp)" opacity="0.35"/><circle cx="86.5" cy="211.1" r="1.2" fill="url(#sp)" opacity="0.39"/><circle cx="118.0" cy="228.8" r="4.2" fill="url(#sp)" opacity="0.87"/><circle cx="118.3" cy="229.8" r="4.7" fill="url(#sp)" opacity="0.91"/><circle cx="115.9" cy="228.8" r="3.7" fill="url(#sp)" opacity="0.96"/><circle cx="147.7" cy="232.3" r="3.6" fill="url(#sp)" opacity="0.76"/><circle cx="148.1" cy="231.0" r="4.7" fill="url(#sp)" opacity="0.90"/><circle cx="148.2" cy="231.1" r="3.3" fill="url(#sp)" opacity="0.77"/><circle cx="160.9" cy="228.8" r="2.4" fill="url(#sp)" opacity="0.48"/><circle cx="161.1" cy="229.7" r="2.8" fill="url(#sp)" opacity="0.38"/><circle cx="160.9" cy="228.8" r="2.1" fill="url(#sp)" opacity="0.43"/><circle cx="156.7" cy="239.1" r="2.5" fill="url(#sp)" opacity="0.67"/><circle cx="155.7" cy="240.0" r="3.5" fill="url(#sp)" opacity="0.66"/><circle cx="157.3" cy="240.5" r="2.9" fill="url(#sp)" opacity="0.75"/><circle cx="178.1" cy="239.3" r="4.4" fill="url(#sp)" opacity="0.80"/><circle cx="176.8" cy="239.9" r="4.0" fill="url(#sp)" opacity="0.78"/><circle cx="177.4" cy="239.9" r="3.6" fill="url(#sp)" opacity="0.86"/><circle cx="168.2" cy="223.4" r="2.4" fill="url(#sp)" opacity="0.40"/><circle cx="168.6" cy="224.7" r="2.1" fill="url(#sp)" opacity="0.46"/><circle cx="136.2" cy="230.8" r="1.7" fill="url(#sp)" opacity="0.33"/><circle cx="135.4" cy="230.8" r="1.8" fill="url(#sp)" opacity="0.37"/><circle cx="218.4" cy="205.0" r="1.5" fill="url(#sp)" opacity="0.32"/><circle cx="218.6" cy="205.2" r="1.3" fill="url(#sp)" opacity="0.35"/><circle cx="222.9" cy="175.1" r="1.0" fill="url(#sp)" opacity="0.31"/><circle cx="222.7" cy="175.8" r="1.3" fill="url(#sp)" opacity="0.37"/>
<circle cx="80.8" cy="99.8" r="5.7" fill="url(#sp)" opacity="0.03"/><circle cx="79.3" cy="99.1" r="5.4" fill="url(#sp)" opacity="0.03"/><circle cx="78.9" cy="96.9" r="4.7" fill="url(#sp)" opacity="0.03"/></g>
<rect x="69.5" y="85" width="24.6" height="24.6" fill="none" stroke="#fff" stroke-width="2"/>
</g>
<rect x="194" y="270" width="88" height="4.2" fill="#fff"/>
<text x="283.4" y="37" font-size="29" text-anchor="end" fill="#fff" >0.045</text>
</g>
<g transform="translate(740 693)">
<rect x="0" y="0" width="295" height="295" fill="#030003"/>
<g clip-path="url(#pc)">
<ellipse cx="150" cy="150" rx="82" ry="100" fill="#1a0420" opacity="0.18" filter="url(#hz)"/>
<g mask="url(#mctl)"><rect x="0" y="0" width="295" height="295" filter="url(#grain)" opacity="0.55"/></g>
<g filter="url(#rough)"><circle cx="125.0" cy="61.3" r="3.1" fill="url(#sp)" opacity="0.42"/><circle cx="123.7" cy="59.6" r="2.4" fill="url(#sp)" opacity="0.44"/><circle cx="123.8" cy="59.7" r="3.5" fill="url(#sp)" opacity="0.47"/><circle cx="139.6" cy="63.1" r="2.7" fill="url(#sp)" opacity="0.45"/><circle cx="138.2" cy="62.6" r="2.2" fill="url(#sp)" opacity="0.44"/><circle cx="139.4" cy="63.0" r="2.6" fill="url(#sp)" opacity="0.46"/><circle cx="169.2" cy="66.4" r="3.0" fill="url(#sp)" opacity="0.66"/><circle cx="169.2" cy="65.7" r="3.5" fill="url(#sp)" opacity="0.55"/><circle cx="170.0" cy="66.4" r="3.1" fill="url(#sp)" opacity="0.60"/><circle cx="126.6" cy="70.2" r="5.1" fill="url(#sp)" opacity="0.91"/><circle cx="125.4" cy="72.5" r="4.4" fill="url(#sp)" opacity="0.91"/><circle cx="128.8" cy="70.9" r="4.3" fill="url(#sp)" opacity="0.94"/><circle cx="116.3" cy="80.0" r="3.6" fill="url(#sp)" opacity="0.62"/><circle cx="115.7" cy="81.5" r="3.5" fill="url(#sp)" opacity="0.56"/><circle cx="118.2" cy="81.2" r="3.5" fill="url(#sp)" opacity="0.59"/><circle cx="116.5" cy="88.7" r="3.9" fill="url(#sp)" opacity="0.92"/><circle cx="116.3" cy="89.8" r="3.4" fill="url(#sp)" opacity="0.87"/><circle cx="116.1" cy="89.1" r="3.8" fill="url(#sp)" opacity="0.79"/><circle cx="163.2" cy="90.2" r="3.8" fill="url(#sp)" opacity="0.85"/><circle cx="163.7" cy="90.3" r="3.2" fill="url(#sp)" opacity="0.94"/><circle cx="164.0" cy="90.8" r="3.9" fill="url(#sp)" opacity="0.96"/><circle cx="182.2" cy="90.0" r="3.7" fill="url(#sp)" opacity="0.79"/><circle cx="182.8" cy="89.5" r="5.1" fill="url(#sp)" opacity="0.99"/><circle cx="183.6" cy="89.9" r="3.5" fill="url(#sp)" opacity="0.82"/><circle cx="188.5" cy="90.8" r="3.2" fill="url(#sp)" opacity="0.79"/><circle cx="188.4" cy="91.7" r="3.4" fill="url(#sp)" opacity="0.65"/><circle cx="189.1" cy="91.1" r="3.4" fill="url(#sp)" opacity="0.61"/><circle cx="151.1" cy="107.4" r="3.1" fill="url(#sp)" opacity="0.44"/><circle cx="151.8" cy="105.8" r="2.8" fill="url(#sp)" opacity="0.39"/><circle cx="151.3" cy="106.5" r="2.7" fill="url(#sp)" opacity="0.39"/><circle cx="102.2" cy="113.7" r="2.9" fill="url(#sp)" opacity="0.44"/><circle cx="102.4" cy="112.9" r="2.8" fill="url(#sp)" opacity="0.47"/><circle cx="102.4" cy="112.9" r="2.5" fill="url(#sp)" opacity="0.44"/><circle cx="199.4" cy="122.7" r="5.8" fill="url(#sp)" opacity="0.93"/><circle cx="201.2" cy="119.9" r="4.1" fill="url(#sp)" opacity="0.92"/><circle cx="201.4" cy="121.6" r="5.3" fill="url(#sp)" opacity="0.80"/><circle cx="123.6" cy="124.9" r="3.1" fill="url(#sp)" opacity="0.78"/><circle cx="123.2" cy="123.8" r="3.4" fill="url(#sp)" opacity="0.67"/><circle cx="123.2" cy="123.2" r="3.5" fill="url(#sp)" opacity="0.64"/><circle cx="217.3" cy="124.8" r="2.1" fill="url(#sp)" opacity="0.31"/><circle cx="218.3" cy="124.6" r="2.4" fill="url(#sp)" opacity="0.30"/><circle cx="176.1" cy="123.4" r="2.0" fill="url(#sp)" opacity="0.40"/><circle cx="176.1" cy="124.5" r="2.3" fill="url(#sp)" opacity="0.34"/><circle cx="148.1" cy="138.8" r="4.8" fill="url(#sp)" opacity="0.81"/><circle cx="148.6" cy="139.2" r="4.4" fill="url(#sp)" opacity="0.95"/><circle cx="148.6" cy="135.8" r="4.6" fill="url(#sp)" opacity="0.91"/><circle cx="171.3" cy="138.4" r="7.5" fill="url(#sp)" opacity="0.82"/><circle cx="169.2" cy="137.4" r="5.7" fill="url(#sp)" opacity="0.76"/><circle cx="169.8" cy="141.4" r="6.9" fill="url(#sp)" opacity="0.96"/><circle cx="136.0" cy="146.4" r="4.4" fill="url(#sp)" opacity="0.98"/><circle cx="133.5" cy="146.2" r="4.6" fill="url(#sp)" opacity="0.79"/><circle cx="132.1" cy="147.9" r="3.5" fill="url(#sp)" opacity="0.88"/><circle cx="74.2" cy="143.7" r="1.8" fill="url(#sp)" opacity="0.39"/><circle cx="73.1" cy="143.9" r="1.6" fill="url(#sp)" opacity="0.47"/><circle cx="93.1" cy="152.1" r="4.1" fill="url(#sp)" opacity="0.93"/><circle cx="94.0" cy="151.5" r="4.0" fill="url(#sp)" opacity="0.88"/><circle cx="93.3" cy="149.8" r="3.0" fill="url(#sp)" opacity="0.85"/><circle cx="109.9" cy="154.2" r="3.5" fill="url(#sp)" opacity="0.88"/><circle cx="109.4" cy="155.9" r="5.0" fill="url(#sp)" opacity="0.76"/><circle cx="108.8" cy="154.5" r="5.2" fill="url(#sp)" opacity="0.96"/><circle cx="146.5" cy="154.2" r="4.0" fill="url(#sp)" opacity="0.84"/><circle cx="146.9" cy="154.5" r="4.6" fill="url(#sp)" opacity="0.81"/><circle cx="147.0" cy="153.4" r="3.7" fill="url(#sp)" opacity="0.85"/><circle cx="83.7" cy="160.0" r="4.4" fill="url(#sp)" opacity="0.93"/><circle cx="85.4" cy="158.2" r="4.7" fill="url(#sp)" opacity="0.99"/><circle cx="84.2" cy="158.7" r="4.2" fill="url(#sp)" opacity="0.96"/><circle cx="216.5" cy="155.8" r="6.0" fill="url(#sp)" opacity="0.98"/><circle cx="216.9" cy="154.4" r="5.5" fill="url(#sp)" opacity="0.99"/><circle cx="217.2" cy="156.6" r="5.5" fill="url(#sp)" opacity="0.85"/><circle cx="204.4" cy="155.2" r="3.1" fill="url(#sp)" opacity="0.63"/><circle cx="203.5" cy="154.6" r="3.0" fill="url(#sp)" opacity="0.68"/><circle cx="204.4" cy="155.1" r="3.4" fill="url(#sp)" opacity="0.55"/><circle cx="190.7" cy="163.3" r="4.9" fill="url(#sp)" opacity="0.69"/><circle cx="189.3" cy="164.1" r="4.2" fill="url(#sp)" opacity="0.63"/><circle cx="188.5" cy="162.2" r="5.3" fill="url(#sp)" opacity="0.62"/><circle cx="198.8" cy="158.5" r="2.1" fill="url(#sp)" opacity="0.50"/><circle cx="198.1" cy="158.6" r="2.8" fill="url(#sp)" opacity="0.50"/><circle cx="198.3" cy="158.3" r="2.5" fill="url(#sp)" opacity="0.55"/><circle cx="222.7" cy="158.2" r="1.9" fill="url(#sp)" opacity="0.45"/><circle cx="222.1" cy="157.7" r="2.0" fill="url(#sp)" opacity="0.48"/><circle cx="182.1" cy="171.2" r="2.7" fill="url(#sp)" opacity="0.59"/><circle cx="182.3" cy="172.4" r="2.4" fill="url(#sp)" opacity="0.58"/><circle cx="180.3" cy="171.3" r="2.8" fill="url(#sp)" opacity="0.54"/><circle cx="78.6" cy="175.6" r="3.6" fill="url(#sp)" opacity="0.78"/><circle cx="75.5" cy="175.0" r="4.2" fill="url(#sp)" opacity="0.67"/><circle cx="77.9" cy="176.8" r="4.1" fill="url(#sp)" opacity="0.78"/><circle cx="104.0" cy="177.6" r="3.6" fill="url(#sp)" opacity="0.78"/><circle cx="104.3" cy="177.5" r="3.8" fill="url(#sp)" opacity="0.95"/><circle cx="103.6" cy="176.7" r="4.4" fill="url(#sp)" opacity="0.94"/><circle cx="89.3" cy="186.8" r="2.1" fill="url(#sp)" opacity="0.63"/><circle cx="89.5" cy="187.4" r="2.8" fill="url(#sp)" opacity="0.58"/><circle cx="88.8" cy="187.9" r="2.8" fill="url(#sp)" opacity="0.62"/><circle cx="205.1" cy="192.6" r="4.4" fill="url(#sp)" opacity="0.77"/><circle cx="204.9" cy="192.3" r="3.2" fill="url(#sp)" opacity="0.93"/><circle cx="204.0" cy="191.6" r="4.3" fill="url(#sp)" opacity="0.93"/><circle cx="109.2" cy="193.1" r="3.7" fill="url(#sp)" opacity="0.70"/><circle cx="111.3" cy="192.6" r="3.1" fill="url(#sp)" opacity="0.64"/><circle cx="112.2" cy="194.1" r="3.1" fill="url(#sp)" opacity="0.72"/><circle cx="157.9" cy="196.0" r="3.0" fill="url(#sp)" opacity="0.86"/><circle cx="157.1" cy="197.1" r="3.8" fill="url(#sp)" opacity="0.91"/><circle cx="155.7" cy="195.3" r="4.2" fill="url(#sp)" opacity="0.81"/><circle cx="90.0" cy="198.9" r="1.9" fill="url(#sp)" opacity="0.46"/><circle cx="89.0" cy="199.2" r="1.7" fill="url(#sp)" opacity="0.50"/><circle cx="177.9" cy="199.9" r="2.8" fill="url(#sp)" opacity="0.69"/><circle cx="177.9" cy="200.1" r="3.2" fill="url(#sp)" opacity="0.69"/><circle cx="178.5" cy="200.4" r="3.3" fill="url(#sp)" opacity="0.56"/><circle cx="166.0" cy="208.6" r="6.6" fill="url(#sp)" opacity="0.86"/><circle cx="165.7" cy="208.2" r="6.3" fill="url(#sp)" opacity="0.85"/><circle cx="168.3" cy="208.0" r="5.7" fill="url(#sp)" opacity="0.85"/><circle cx="165.2" cy="214.3" r="3.5" fill="url(#sp)" opacity="0.80"/><circle cx="166.2" cy="214.2" r="3.8" fill="url(#sp)" opacity="0.77"/><circle cx="165.9" cy="214.9" r="4.5" fill="url(#sp)" opacity="0.69"/><circle cx="205.8" cy="212.8" r="3.1" fill="url(#sp)" opacity="0.79"/><circle cx="206.3" cy="212.3" r="2.9" fill="url(#sp)" opacity="0.91"/><circle cx="206.3" cy="212.3" r="3.1" fill="url(#sp)" opacity="0.90"/><circle cx="85.4" cy="210.7" r="1.4" fill="url(#sp)" opacity="0.34"/><circle cx="86.1" cy="210.6" r="1.7" fill="url(#sp)" opacity="0.34"/><circle cx="116.1" cy="227.8" r="3.8" fill="url(#sp)" opacity="0.78"/><circle cx="115.1" cy="230.0" r="4.5" fill="url(#sp)" opacity="0.87"/><circle cx="115.2" cy="229.1" r="4.2" fill="url(#sp)" opacity="0.85"/><circle cx="145.1" cy="232.3" r="4.7" fill="url(#sp)" opacity="0.84"/><circle cx="144.9" cy="230.6" r="4.4" fill="url(#sp)" opacity="0.96"/><circle cx="146.5" cy="231.7" r="4.2" fill="url(#sp)" opacity="0.84"/><circle cx="160.1" cy="226.4" r="2.9" fill="url(#sp)" opacity="0.43"/><circle cx="160.8" cy="227.1" r="2.6" fill="url(#sp)" opacity="0.48"/><circle cx="159.9" cy="227.6" r="2.6" fill="url(#sp)" opacity="0.46"/><circle cx="156.8" cy="239.5" r="2.8" fill="url(#sp)" opacity="0.60"/><circle cx="156.7" cy="239.8" r="2.3" fill="url(#sp)" opacity="0.66"/><circle cx="156.8" cy="239.4" r="3.6" fill="url(#sp)" opacity="0.64"/><circle cx="179.1" cy="238.3" r="4.5" fill="url(#sp)" opacity="0.86"/><circle cx="178.0" cy="240.9" r="3.2" fill="url(#sp)" opacity="0.78"/><circle cx="179.1" cy="240.0" r="4.4" fill="url(#sp)" opacity="0.81"/><circle cx="169.8" cy="225.9" r="1.7" fill="url(#sp)" opacity="0.38"/><circle cx="168.5" cy="225.9" r="1.9" fill="url(#sp)" opacity="0.45"/><circle cx="134.5" cy="231.7" r="1.5" fill="url(#sp)" opacity="0.32"/><circle cx="133.7" cy="231.0" r="1.2" fill="url(#sp)" opacity="0.38"/><circle cx="217.2" cy="205.6" r="1.5" fill="url(#sp)" opacity="0.33"/><circle cx="216.9" cy="206.0" r="1.3" fill="url(#sp)" opacity="0.37"/><circle cx="222.3" cy="175.4" r="1.1" fill="url(#sp)" opacity="0.33"/><circle cx="222.9" cy="175.9" r="1.3" fill="url(#sp)" opacity="0.32"/>
<circle cx="80.8" cy="99.8" r="5.7" fill="url(#sp)" opacity="0.09"/><circle cx="79.3" cy="99.1" r="5.4" fill="url(#sp)" opacity="0.10"/><circle cx="78.9" cy="96.9" r="4.7" fill="url(#sp)" opacity="0.09"/></g>
<rect x="69.5" y="85" width="24.6" height="24.6" fill="none" stroke="#fff" stroke-width="2"/>
</g>
<rect x="194" y="270" width="88" height="4.2" fill="#fff"/>
<text x="283.4" y="37" font-size="29" text-anchor="end" fill="#fff" >0.878</text>
</g>
<g transform="translate(1047 693)">
<rect x="0" y="0" width="295" height="295" fill="#030003"/>
<g clip-path="url(#pc)">
<ellipse cx="150" cy="150" rx="82" ry="100" fill="#1a0420" opacity="0.18" filter="url(#hz)"/>
<g mask="url(#mctl)"><rect x="0" y="0" width="295" height="295" filter="url(#grain)" opacity="0.55"/></g>
<g filter="url(#rough)"><circle cx="126.2" cy="58.7" r="2.6" fill="url(#sp)" opacity="0.38"/><circle cx="126.2" cy="59.7" r="2.8" fill="url(#sp)" opacity="0.49"/><circle cx="126.5" cy="59.7" r="2.5" fill="url(#sp)" opacity="0.40"/><circle cx="139.9" cy="62.0" r="2.1" fill="url(#sp)" opacity="0.44"/><circle cx="140.2" cy="62.3" r="2.7" fill="url(#sp)" opacity="0.47"/><circle cx="139.0" cy="62.4" r="2.6" fill="url(#sp)" opacity="0.48"/><circle cx="168.4" cy="65.4" r="3.1" fill="url(#sp)" opacity="0.61"/><circle cx="169.8" cy="66.6" r="2.6" fill="url(#sp)" opacity="0.70"/><circle cx="170.9" cy="65.2" r="3.0" fill="url(#sp)" opacity="0.65"/><circle cx="127.7" cy="73.0" r="4.0" fill="url(#sp)" opacity="0.77"/><circle cx="127.3" cy="72.1" r="5.1" fill="url(#sp)" opacity="0.92"/><circle cx="128.1" cy="72.8" r="5.4" fill="url(#sp)" opacity="1.00"/><circle cx="116.7" cy="79.8" r="3.0" fill="url(#sp)" opacity="0.63"/><circle cx="115.8" cy="81.1" r="2.9" fill="url(#sp)" opacity="0.66"/><circle cx="117.5" cy="80.6" r="2.4" fill="url(#sp)" opacity="0.64"/><circle cx="116.3" cy="88.0" r="3.5" fill="url(#sp)" opacity="0.85"/><circle cx="116.3" cy="87.9" r="3.8" fill="url(#sp)" opacity="0.87"/><circle cx="117.0" cy="89.6" r="4.3" fill="url(#sp)" opacity="0.83"/><circle cx="163.2" cy="91.2" r="3.2" fill="url(#sp)" opacity="0.98"/><circle cx="165.3" cy="92.2" r="3.9" fill="url(#sp)" opacity="0.76"/><circle cx="163.8" cy="90.5" r="4.1" fill="url(#sp)" opacity="0.92"/><circle cx="182.2" cy="89.1" r="3.6" fill="url(#sp)" opacity="0.97"/><circle cx="182.0" cy="88.9" r="4.3" fill="url(#sp)" opacity="0.82"/><circle cx="182.8" cy="88.7" r="4.9" fill="url(#sp)" opacity="0.94"/><circle cx="188.5" cy="91.2" r="3.1" fill="url(#sp)" opacity="0.67"/><circle cx="189.4" cy="90.7" r="2.5" fill="url(#sp)" opacity="0.75"/><circle cx="190.0" cy="90.6" r="3.0" fill="url(#sp)" opacity="0.77"/><circle cx="152.4" cy="104.6" r="2.8" fill="url(#sp)" opacity="0.41"/><circle cx="151.4" cy="104.9" r="3.4" fill="url(#sp)" opacity="0.41"/><circle cx="154.1" cy="104.7" r="3.3" fill="url(#sp)" opacity="0.44"/><circle cx="103.2" cy="111.4" r="2.9" fill="url(#sp)" opacity="0.47"/><circle cx="102.6" cy="110.6" r="2.2" fill="url(#sp)" opacity="0.41"/><circle cx="101.6" cy="112.1" r="2.8" fill="url(#sp)" opacity="0.47"/><circle cx="200.4" cy="122.0" r="5.3" fill="url(#sp)" opacity="0.88"/><circle cx="199.4" cy="117.7" r="5.9" fill="url(#sp)" opacity="0.78"/><circle cx="199.4" cy="121.9" r="5.4" fill="url(#sp)" opacity="0.82"/><circle cx="124.7" cy="124.1" r="3.1" fill="url(#sp)" opacity="0.60"/><circle cx="124.9" cy="123.3" r="4.1" fill="url(#sp)" opacity="0.72"/><circle cx="124.4" cy="124.8" r="3.3" fill="url(#sp)" opacity="0.64"/><circle cx="217.4" cy="124.7" r="2.2" fill="url(#sp)" opacity="0.33"/><circle cx="217.3" cy="124.3" r="1.8" fill="url(#sp)" opacity="0.37"/><circle cx="175.3" cy="123.4" r="1.8" fill="url(#sp)" opacity="0.40"/><circle cx="174.0" cy="123.0" r="2.0" fill="url(#sp)" opacity="0.38"/><circle cx="150.3" cy="138.1" r="4.4" fill="url(#sp)" opacity="0.85"/><circle cx="151.4" cy="137.9" r="4.5" fill="url(#sp)" opacity="0.94"/><circle cx="151.4" cy="137.8" r="4.7" fill="url(#sp)" opacity="0.86"/><circle cx="169.3" cy="143.9" r="6.9" fill="url(#sp)" opacity="0.76"/><circle cx="171.0" cy="141.0" r="6.6" fill="url(#sp)" opacity="0.84"/><circle cx="170.3" cy="140.9" r="7.5" fill="url(#sp)" opacity="0.93"/><circle cx="133.4" cy="145.3" r="4.1" fill="url(#sp)" opacity="0.99"/><circle cx="133.8" cy="146.4" r="3.9" fill="url(#sp)" opacity="0.97"/><circle cx="133.1" cy="144.4" r="5.1" fill="url(#sp)" opacity="0.87"/><circle cx="74.8" cy="144.9" r="2.0" fill="url(#sp)" opacity="0.43"/><circle cx="75.0" cy="144.0" r="2.2" fill="url(#sp)" opacity="0.45"/><circle cx="95.8" cy="151.4" r="3.8" fill="url(#sp)" opacity="0.81"/><circle cx="95.2" cy="152.1" r="3.6" fill="url(#sp)" opacity="0.93"/><circle cx="93.6" cy="151.7" r="2.9" fill="url(#sp)" opacity="0.76"/><circle cx="107.7" cy="154.8" r="4.2" fill="url(#sp)" opacity="0.83"/><circle cx="108.7" cy="152.4" r="5.4" fill="url(#sp)" opacity="0.93"/><circle cx="108.3" cy="154.5" r="5.4" fill="url(#sp)" opacity="0.92"/><circle cx="147.2" cy="152.0" r="4.0" fill="url(#sp)" opacity="0.84"/><circle cx="146.9" cy="151.9" r="3.2" fill="url(#sp)" opacity="0.85"/><circle cx="148.4" cy="151.2" r="4.1" fill="url(#sp)" opacity="0.77"/><circle cx="85.0" cy="156.8" r="5.6" fill="url(#sp)" opacity="0.82"/><circle cx="85.7" cy="157.6" r="4.2" fill="url(#sp)" opacity="0.95"/><circle cx="86.2" cy="156.9" r="4.3" fill="url(#sp)" opacity="0.99"/><circle cx="219.1" cy="154.0" r="4.5" fill="url(#sp)" opacity="0.88"/><circle cx="216.5" cy="155.3" r="4.8" fill="url(#sp)" opacity="0.84"/><circle cx="217.5" cy="153.3" r="5.7" fill="url(#sp)" opacity="0.94"/><circle cx="205.3" cy="152.7" r="2.6" fill="url(#sp)" opacity="0.68"/><circle cx="204.3" cy="153.6" r="2.6" fill="url(#sp)" opacity="0.70"/><circle cx="204.7" cy="153.2" r="3.5" fill="url(#sp)" opacity="0.53"/><circle cx="191.6" cy="160.5" r="4.9" fill="url(#sp)" opacity="0.77"/><circle cx="187.9" cy="162.6" r="4.3" fill="url(#sp)" opacity="0.75"/><circle cx="190.1" cy="161.1" r="5.1" fill="url(#sp)" opacity="0.74"/><circle cx="196.1" cy="159.3" r="2.0" fill="url(#sp)" opacity="0.56"/><circle cx="196.1" cy="159.8" r="2.2" fill="url(#sp)" opacity="0.45"/><circle cx="196.0" cy="159.4" r="2.8" fill="url(#sp)" opacity="0.53"/><circle cx="224.4" cy="158.5" r="2.1" fill="url(#sp)" opacity="0.47"/><circle cx="224.7" cy="158.5" r="1.9" fill="url(#sp)" opacity="0.44"/><circle cx="179.1" cy="169.4" r="3.0" fill="url(#sp)" opacity="0.61"/><circle cx="179.2" cy="170.0" r="2.5" fill="url(#sp)" opacity="0.61"/><circle cx="179.3" cy="171.1" r="2.5" fill="url(#sp)" opacity="0.66"/><circle cx="78.1" cy="176.7" r="3.6" fill="url(#sp)" opacity="0.63"/><circle cx="76.5" cy="175.5" r="3.4" fill="url(#sp)" opacity="0.62"/><circle cx="77.4" cy="175.8" r="4.0" fill="url(#sp)" opacity="0.75"/><circle cx="102.9" cy="176.2" r="4.7" fill="url(#sp)" opacity="0.78"/><circle cx="102.7" cy="176.9" r="3.2" fill="url(#sp)" opacity="0.97"/><circle cx="103.5" cy="176.4" r="4.5" fill="url(#sp)" opacity="0.87"/><circle cx="90.6" cy="187.6" r="2.1" fill="url(#sp)" opacity="0.66"/><circle cx="90.2" cy="188.9" r="2.9" fill="url(#sp)" opacity="0.65"/><circle cx="91.2" cy="188.6" r="3.0" fill="url(#sp)" opacity="0.61"/><circle cx="205.1" cy="191.3" r="4.6" fill="url(#sp)" opacity="0.91"/><circle cx="203.8" cy="192.4" r="3.4" fill="url(#sp)" opacity="0.97"/><circle cx="205.9" cy="190.6" r="3.3" fill="url(#sp)" opacity="0.86"/><circle cx="111.0" cy="195.1" r="3.3" fill="url(#sp)" opacity="0.66"/><circle cx="109.5" cy="193.8" r="4.0" fill="url(#sp)" opacity="0.69"/><circle cx="109.2" cy="193.7" r="3.0" fill="url(#sp)" opacity="0.71"/><circle cx="154.2" cy="196.0" r="4.2" fill="url(#sp)" opacity="0.83"/><circle cx="156.4" cy="195.5" r="3.1" fill="url(#sp)" opacity="0.90"/><circle cx="155.4" cy="197.8" r="4.1" fill="url(#sp)" opacity="0.76"/><circle cx="90.1" cy="199.9" r="2.0" fill="url(#sp)" opacity="0.39"/><circle cx="89.6" cy="199.3" r="1.9" fill="url(#sp)" opacity="0.44"/><circle cx="179.7" cy="202.4" r="3.0" fill="url(#sp)" opacity="0.60"/><circle cx="181.0" cy="202.4" r="2.6" fill="url(#sp)" opacity="0.56"/><circle cx="180.2" cy="203.2" r="2.4" fill="url(#sp)" opacity="0.63"/><circle cx="166.8" cy="207.5" r="5.4" fill="url(#sp)" opacity="0.76"/><circle cx="166.5" cy="208.0" r="6.8" fill="url(#sp)" opacity="0.91"/><circle cx="169.3" cy="210.2" r="5.5" fill="url(#sp)" opacity="0.83"/><circle cx="166.3" cy="212.5" r="4.4" fill="url(#sp)" opacity="0.76"/><circle cx="165.9" cy="215.0" r="4.2" fill="url(#sp)" opacity="0.68"/><circle cx="166.5" cy="214.4" r="3.2" fill="url(#sp)" opacity="0.84"/><circle cx="205.8" cy="213.0" r="4.0" fill="url(#sp)" opacity="0.93"/><circle cx="205.1" cy="211.9" r="4.1" fill="url(#sp)" opacity="0.90"/><circle cx="206.7" cy="213.9" r="2.8" fill="url(#sp)" opacity="0.78"/><circle cx="85.3" cy="210.5" r="1.3" fill="url(#sp)" opacity="0.39"/><circle cx="86.6" cy="210.8" r="1.7" fill="url(#sp)" opacity="0.36"/><circle cx="116.2" cy="228.0" r="4.2" fill="url(#sp)" opacity="0.77"/><circle cx="117.6" cy="227.4" r="3.7" fill="url(#sp)" opacity="0.78"/><circle cx="116.4" cy="227.7" r="4.8" fill="url(#sp)" opacity="0.83"/><circle cx="145.7" cy="232.8" r="3.9" fill="url(#sp)" opacity="0.98"/><circle cx="146.4" cy="230.1" r="4.4" fill="url(#sp)" opacity="0.89"/><circle cx="146.5" cy="232.9" r="3.2" fill="url(#sp)" opacity="0.81"/><circle cx="162.0" cy="229.5" r="2.4" fill="url(#sp)" opacity="0.40"/><circle cx="161.6" cy="228.9" r="2.2" fill="url(#sp)" opacity="0.49"/><circle cx="161.8" cy="229.7" r="2.7" fill="url(#sp)" opacity="0.47"/><circle cx="157.4" cy="239.6" r="3.0" fill="url(#sp)" opacity="0.61"/><circle cx="156.7" cy="237.3" r="3.3" fill="url(#sp)" opacity="0.70"/><circle cx="156.7" cy="237.5" r="3.3" fill="url(#sp)" opacity="0.65"/><circle cx="176.9" cy="240.5" r="4.3" fill="url(#sp)" opacity="0.95"/><circle cx="178.3" cy="238.8" r="3.3" fill="url(#sp)" opacity="0.99"/><circle cx="176.8" cy="240.7" r="3.6" fill="url(#sp)" opacity="0.77"/><circle cx="167.5" cy="224.1" r="2.2" fill="url(#sp)" opacity="0.38"/><circle cx="167.6" cy="224.3" r="1.7" fill="url(#sp)" opacity="0.38"/><circle cx="135.2" cy="229.8" r="1.7" fill="url(#sp)" opacity="0.32"/><circle cx="134.7" cy="230.1" r="1.3" fill="url(#sp)" opacity="0.34"/><circle cx="218.4" cy="205.9" r="1.4" fill="url(#sp)" opacity="0.35"/><circle cx="218.2" cy="205.8" r="1.5" fill="url(#sp)" opacity="0.34"/><circle cx="220.8" cy="174.4" r="1.3" fill="url(#sp)" opacity="0.36"/><circle cx="221.2" cy="174.8" r="1.3" fill="url(#sp)" opacity="0.34"/>
<circle cx="80.8" cy="99.8" r="5.7" fill="url(#sp)" opacity="0.22"/><circle cx="79.3" cy="99.1" r="5.4" fill="url(#sp)" opacity="0.24"/><circle cx="78.9" cy="96.9" r="4.7" fill="url(#sp)" opacity="0.20"/></g>
<rect x="69.5" y="85" width="24.6" height="24.6" fill="none" stroke="#fff" stroke-width="2"/>
</g>
<rect x="194" y="270" width="88" height="4.2" fill="#fff"/>
<text x="283.4" y="37" font-size="29" text-anchor="end" fill="#fff" >2.878</text>
</g>
<g transform="translate(1354 693)">
<rect x="0" y="0" width="295" height="295" fill="#030003"/>
<g clip-path="url(#pc)">
<ellipse cx="150" cy="150" rx="82" ry="100" fill="#1a0420" opacity="0.18" filter="url(#hz)"/>
<g mask="url(#mctl)"><rect x="0" y="0" width="295" height="295" filter="url(#grain)" opacity="0.55"/></g>
<g filter="url(#rough)"><circle cx="126.3" cy="60.5" r="2.8" fill="url(#sp)" opacity="0.46"/><circle cx="126.4" cy="60.8" r="2.6" fill="url(#sp)" opacity="0.49"/><circle cx="127.1" cy="61.6" r="2.8" fill="url(#sp)" opacity="0.46"/><circle cx="139.7" cy="63.4" r="2.6" fill="url(#sp)" opacity="0.45"/><circle cx="139.5" cy="63.5" r="2.5" fill="url(#sp)" opacity="0.41"/><circle cx="140.3" cy="63.9" r="2.1" fill="url(#sp)" opacity="0.45"/><circle cx="171.1" cy="67.9" r="3.5" fill="url(#sp)" opacity="0.59"/><circle cx="171.4" cy="67.2" r="3.4" fill="url(#sp)" opacity="0.53"/><circle cx="170.5" cy="66.1" r="3.0" fill="url(#sp)" opacity="0.64"/><circle cx="129.1" cy="74.6" r="3.6" fill="url(#sp)" opacity="0.84"/><circle cx="128.8" cy="73.7" r="4.7" fill="url(#sp)" opacity="0.77"/><circle cx="128.6" cy="73.4" r="5.1" fill="url(#sp)" opacity="0.81"/><circle cx="115.5" cy="78.9" r="3.0" fill="url(#sp)" opacity="0.62"/><circle cx="115.6" cy="79.4" r="3.4" fill="url(#sp)" opacity="0.65"/><circle cx="116.6" cy="78.8" r="3.4" fill="url(#sp)" opacity="0.62"/><circle cx="116.7" cy="89.0" r="4.7" fill="url(#sp)" opacity="0.80"/><circle cx="115.8" cy="89.1" r="3.3" fill="url(#sp)" opacity="0.89"/><circle cx="115.3" cy="88.0" r="4.2" fill="url(#sp)" opacity="0.83"/><circle cx="163.7" cy="90.6" r="2.8" fill="url(#sp)" opacity="0.92"/><circle cx="164.8" cy="92.2" r="3.2" fill="url(#sp)" opacity="0.79"/><circle cx="165.1" cy="92.1" r="3.1" fill="url(#sp)" opacity="0.81"/><circle cx="183.4" cy="88.7" r="4.5" fill="url(#sp)" opacity="0.81"/><circle cx="182.8" cy="88.5" r="3.9" fill="url(#sp)" opacity="0.87"/><circle cx="185.3" cy="89.5" r="4.6" fill="url(#sp)" opacity="0.85"/><circle cx="189.1" cy="93.0" r="2.6" fill="url(#sp)" opacity="0.68"/><circle cx="189.9" cy="92.0" r="2.7" fill="url(#sp)" opacity="0.78"/><circle cx="190.1" cy="93.4" r="3.3" fill="url(#sp)" opacity="0.78"/><circle cx="150.7" cy="104.4" r="2.4" fill="url(#sp)" opacity="0.42"/><circle cx="151.4" cy="104.6" r="2.6" fill="url(#sp)" opacity="0.40"/><circle cx="151.5" cy="104.1" r="3.2" fill="url(#sp)" opacity="0.46"/><circle cx="103.1" cy="113.3" r="2.5" fill="url(#sp)" opacity="0.42"/><circle cx="102.7" cy="111.6" r="2.0" fill="url(#sp)" opacity="0.39"/><circle cx="102.1" cy="113.0" r="2.4" fill="url(#sp)" opacity="0.43"/><circle cx="202.3" cy="120.4" r="4.4" fill="url(#sp)" opacity="0.89"/><circle cx="201.5" cy="122.1" r="4.2" fill="url(#sp)" opacity="0.98"/><circle cx="199.9" cy="123.1" r="4.4" fill="url(#sp)" opacity="0.80"/><circle cx="123.7" cy="123.8" r="3.6" fill="url(#sp)" opacity="0.63"/><circle cx="123.0" cy="125.2" r="4.1" fill="url(#sp)" opacity="0.63"/><circle cx="123.0" cy="125.1" r="3.2" fill="url(#sp)" opacity="0.72"/><circle cx="218.0" cy="122.6" r="1.6" fill="url(#sp)" opacity="0.37"/><circle cx="218.4" cy="122.8" r="1.6" fill="url(#sp)" opacity="0.34"/><circle cx="175.3" cy="122.9" r="2.1" fill="url(#sp)" opacity="0.38"/><circle cx="176.5" cy="122.4" r="2.4" fill="url(#sp)" opacity="0.31"/><circle cx="150.5" cy="137.7" r="3.9" fill="url(#sp)" opacity="0.97"/><circle cx="149.5" cy="138.2" r="3.9" fill="url(#sp)" opacity="0.82"/><circle cx="148.6" cy="136.7" r="3.2" fill="url(#sp)" opacity="0.83"/><circle cx="171.2" cy="141.1" r="7.7" fill="url(#sp)" opacity="0.96"/><circle cx="171.7" cy="140.7" r="6.8" fill="url(#sp)" opacity="0.78"/><circle cx="170.9" cy="142.4" r="5.2" fill="url(#sp)" opacity="0.88"/><circle cx="134.4" cy="144.7" r="5.3" fill="url(#sp)" opacity="0.82"/><circle cx="131.7" cy="146.5" r="4.1" fill="url(#sp)" opacity="0.92"/><circle cx="133.6" cy="146.7" r="3.9" fill="url(#sp)" opacity="0.84"/><circle cx="72.6" cy="145.1" r="2.2" fill="url(#sp)" opacity="0.38"/><circle cx="72.8" cy="144.4" r="1.6" fill="url(#sp)" opacity="0.42"/><circle cx="96.3" cy="150.2" r="3.6" fill="url(#sp)" opacity="0.80"/><circle cx="96.7" cy="149.3" r="4.1" fill="url(#sp)" opacity="0.78"/><circle cx="96.3" cy="149.9" r="2.8" fill="url(#sp)" opacity="0.80"/><circle cx="108.7" cy="154.4" r="4.7" fill="url(#sp)" opacity="1.00"/><circle cx="108.5" cy="155.5" r="3.9" fill="url(#sp)" opacity="0.99"/><circle cx="108.0" cy="154.1" r="4.5" fill="url(#sp)" opacity="0.77"/><circle cx="145.6" cy="154.1" r="4.7" fill="url(#sp)" opacity="0.80"/><circle cx="144.0" cy="153.3" r="4.4" fill="url(#sp)" opacity="0.96"/><circle cx="146.7" cy="152.4" r="3.5" fill="url(#sp)" opacity="0.88"/><circle cx="86.8" cy="157.7" r="5.8" fill="url(#sp)" opacity="0.77"/><circle cx="87.9" cy="158.5" r="5.4" fill="url(#sp)" opacity="0.86"/><circle cx="86.9" cy="155.2" r="4.7" fill="url(#sp)" opacity="0.77"/><circle cx="219.7" cy="154.9" r="4.0" fill="url(#sp)" opacity="0.80"/><circle cx="217.1" cy="157.2" r="4.6" fill="url(#sp)" opacity="0.81"/><circle cx="218.1" cy="156.1" r="5.0" fill="url(#sp)" opacity="0.93"/><circle cx="202.8" cy="152.9" r="2.8" fill="url(#sp)" opacity="0.55"/><circle cx="203.6" cy="152.3" r="2.4" fill="url(#sp)" opacity="0.54"/><circle cx="204.1" cy="154.0" r="2.5" fill="url(#sp)" opacity="0.54"/><circle cx="188.8" cy="162.6" r="5.3" fill="url(#sp)" opacity="0.66"/><circle cx="189.6" cy="163.1" r="3.6" fill="url(#sp)" opacity="0.78"/><circle cx="187.1" cy="162.4" r="4.5" fill="url(#sp)" opacity="0.61"/><circle cx="197.5" cy="158.8" r="2.7" fill="url(#sp)" opacity="0.58"/><circle cx="197.7" cy="158.5" r="2.6" fill="url(#sp)" opacity="0.49"/><circle cx="198.1" cy="157.6" r="2.0" fill="url(#sp)" opacity="0.48"/><circle cx="224.1" cy="160.1" r="2.1" fill="url(#sp)" opacity="0.47"/><circle cx="223.5" cy="159.9" r="2.2" fill="url(#sp)" opacity="0.38"/><circle cx="180.0" cy="171.6" r="2.1" fill="url(#sp)" opacity="0.68"/><circle cx="179.9" cy="170.6" r="3.0" fill="url(#sp)" opacity="0.65"/><circle cx="181.2" cy="170.9" r="2.7" fill="url(#sp)" opacity="0.60"/><circle cx="76.5" cy="176.9" r="3.6" fill="url(#sp)" opacity="0.68"/><circle cx="75.0" cy="176.2" r="2.8" fill="url(#sp)" opacity="0.61"/><circle cx="76.4" cy="175.5" r="4.0" fill="url(#sp)" opacity="0.78"/><circle cx="101.4" cy="174.4" r="4.2" fill="url(#sp)" opacity="0.97"/><circle cx="101.9" cy="176.9" r="4.3" fill="url(#sp)" opacity="0.94"/><circle cx="101.9" cy="176.6" r="4.6" fill="url(#sp)" opacity="0.92"/><circle cx="89.6" cy="187.5" r="2.2" fill="url(#sp)" opacity="0.54"/><circle cx="89.8" cy="188.2" r="2.5" fill="url(#sp)" opacity="0.67"/><circle cx="89.3" cy="187.2" r="2.3" fill="url(#sp)" opacity="0.67"/><circle cx="204.4" cy="190.7" r="3.8" fill="url(#sp)" opacity="0.79"/><circle cx="203.3" cy="189.4" r="3.8" fill="url(#sp)" opacity="0.94"/><circle cx="204.9" cy="190.6" r="3.4" fill="url(#sp)" opacity="0.95"/><circle cx="111.5" cy="193.6" r="3.3" fill="url(#sp)" opacity="0.71"/><circle cx="110.2" cy="193.5" r="3.5" fill="url(#sp)" opacity="0.63"/><circle cx="112.2" cy="194.1" r="4.0" fill="url(#sp)" opacity="0.76"/><circle cx="155.8" cy="195.7" r="3.9" fill="url(#sp)" opacity="0.87"/><circle cx="154.6" cy="195.1" r="3.2" fill="url(#sp)" opacity="0.83"/><circle cx="155.9" cy="195.8" r="3.1" fill="url(#sp)" opacity="0.80"/><circle cx="89.8" cy="198.1" r="1.8" fill="url(#sp)" opacity="0.42"/><circle cx="90.2" cy="198.5" r="2.1" fill="url(#sp)" opacity="0.43"/><circle cx="181.0" cy="200.4" r="3.3" fill="url(#sp)" opacity="0.70"/><circle cx="179.3" cy="201.3" r="2.9" fill="url(#sp)" opacity="0.64"/><circle cx="180.9" cy="200.2" r="2.6" fill="url(#sp)" opacity="0.67"/><circle cx="165.8" cy="210.2" r="6.6" fill="url(#sp)" opacity="0.79"/><circle cx="164.9" cy="206.9" r="7.2" fill="url(#sp)" opacity="0.87"/><circle cx="166.7" cy="206.9" r="6.6" fill="url(#sp)" opacity="0.91"/><circle cx="164.6" cy="215.1" r="4.1" fill="url(#sp)" opacity="0.88"/><circle cx="164.4" cy="214.9" r="4.2" fill="url(#sp)" opacity="0.72"/><circle cx="163.7" cy="213.5" r="3.5" fill="url(#sp)" opacity="0.74"/><circle cx="204.4" cy="211.0" r="3.6" fill="url(#sp)" opacity="0.98"/><circle cx="205.1" cy="213.1" r="4.2" fill="url(#sp)" opacity="0.95"/><circle cx="204.9" cy="212.7" r="3.1" fill="url(#sp)" opacity="0.85"/><circle cx="85.7" cy="211.2" r="1.4" fill="url(#sp)" opacity="0.33"/><circle cx="85.0" cy="211.7" r="1.4" fill="url(#sp)" opacity="0.30"/><circle cx="115.5" cy="229.2" r="4.3" fill="url(#sp)" opacity="0.94"/><circle cx="114.5" cy="230.6" r="5.4" fill="url(#sp)" opacity="0.84"/><circle cx="115.3" cy="229.6" r="4.8" fill="url(#sp)" opacity="0.87"/><circle cx="145.9" cy="230.6" r="4.7" fill="url(#sp)" opacity="0.94"/><circle cx="147.1" cy="231.6" r="3.8" fill="url(#sp)" opacity="0.80"/><circle cx="147.0" cy="231.8" r="4.5" fill="url(#sp)" opacity="0.78"/><circle cx="160.8" cy="227.8" r="2.2" fill="url(#sp)" opacity="0.42"/><circle cx="161.8" cy="227.8" r="2.6" fill="url(#sp)" opacity="0.43"/><circle cx="160.9" cy="228.2" r="2.4" fill="url(#sp)" opacity="0.42"/><circle cx="157.2" cy="240.0" r="3.1" fill="url(#sp)" opacity="0.66"/><circle cx="157.6" cy="239.2" r="2.4" fill="url(#sp)" opacity="0.66"/><circle cx="156.9" cy="240.3" r="2.3" fill="url(#sp)" opacity="0.79"/><circle cx="176.4" cy="240.3" r="3.6" fill="url(#sp)" opacity="0.98"/><circle cx="178.0" cy="241.0" r="3.6" fill="url(#sp)" opacity="0.83"/><circle cx="179.1" cy="241.3" r="3.7" fill="url(#sp)" opacity="0.93"/><circle cx="168.9" cy="226.2" r="2.3" fill="url(#sp)" opacity="0.44"/><circle cx="169.4" cy="226.4" r="2.3" fill="url(#sp)" opacity="0.41"/><circle cx="135.6" cy="231.0" r="1.7" fill="url(#sp)" opacity="0.40"/><circle cx="135.2" cy="231.5" r="1.4" fill="url(#sp)" opacity="0.37"/><circle cx="216.6" cy="206.3" r="1.4" fill="url(#sp)" opacity="0.33"/><circle cx="216.7" cy="206.0" r="1.1" fill="url(#sp)" opacity="0.35"/><circle cx="223.1" cy="175.2" r="1.0" fill="url(#sp)" opacity="0.38"/><circle cx="222.7" cy="175.3" r="1.2" fill="url(#sp)" opacity="0.36"/>
<circle cx="80.8" cy="99.8" r="5.7" fill="url(#sp)" opacity="0.42"/><circle cx="79.3" cy="99.1" r="5.4" fill="url(#sp)" opacity="0.45"/><circle cx="78.9" cy="96.9" r="4.7" fill="url(#sp)" opacity="0.38"/></g>
<rect x="69.5" y="85" width="24.6" height="24.6" fill="none" stroke="#fff" stroke-width="2"/>
</g>
<rect x="194" y="270" width="88" height="4.2" fill="#fff"/>
<text x="283.4" y="37" font-size="29" text-anchor="end" fill="#fff" >6.212 min</text>
</g>
<g transform="translate(126 1000)">
<rect x="0" y="0" width="295" height="295" fill="#030003"/>
<g clip-path="url(#pc)">
<ellipse cx="125" cy="150" rx="42" ry="140" transform="rotate(32 125 150)" fill="#1a0420" opacity="0.18" filter="url(#hz)"/>
<g mask="url(#mdrb)"><rect x="0" y="0" width="295" height="295" filter="url(#grain)" opacity="0.55"/></g>
<g filter="url(#rough)"><circle cx="170.4" cy="48.6" r="4.1" fill="url(#sp)" opacity="0.61"/><circle cx="171.3" cy="48.9" r="3.0" fill="url(#sp)" opacity="0.57"/><circle cx="170.3" cy="49.7" r="3.1" fill="url(#sp)" opacity="0.72"/><circle cx="148.3" cy="59.0" r="2.6" fill="url(#sp)" opacity="0.69"/><circle cx="147.5" cy="58.9" r="2.2" fill="url(#sp)" opacity="0.59"/><circle cx="148.9" cy="59.4" r="3.0" fill="url(#sp)" opacity="0.63"/><circle cx="142.1" cy="69.0" r="2.5" fill="url(#sp)" opacity="0.66"/><circle cx="142.3" cy="68.7" r="2.0" fill="url(#sp)" opacity="0.66"/><circle cx="198.4" cy="64.7" r="4.3" fill="url(#sp)" opacity="0.55"/><circle cx="197.4" cy="69.0" r="3.7" fill="url(#sp)" opacity="0.51"/><circle cx="199.0" cy="66.2" r="4.1" fill="url(#sp)" opacity="0.53"/><circle cx="148.6" cy="84.8" r="5.2" fill="url(#sp)" opacity="0.88"/><circle cx="148.7" cy="85.5" r="5.3" fill="url(#sp)" opacity="0.86"/><circle cx="150.5" cy="84.1" r="8.0" fill="url(#sp)" opacity="0.94"/><circle cx="193.8" cy="87.9" r="4.9" fill="url(#sp)" opacity="1.00"/><circle cx="193.7" cy="87.3" r="5.8" fill="url(#sp)" opacity="0.81"/><circle cx="195.0" cy="88.3" r="4.7" fill="url(#sp)" opacity="0.77"/><circle cx="158.8" cy="95.4" r="2.1" fill="url(#sp)" opacity="0.69"/><circle cx="159.8" cy="95.1" r="2.1" fill="url(#sp)" opacity="0.55"/><circle cx="158.9" cy="95.3" r="3.0" fill="url(#sp)" opacity="0.60"/><circle cx="164.2" cy="92.7" r="1.8" fill="url(#sp)" opacity="0.39"/><circle cx="164.7" cy="92.4" r="1.7" fill="url(#sp)" opacity="0.47"/><circle cx="135.2" cy="104.5" r="4.2" fill="url(#sp)" opacity="0.92"/><circle cx="135.1" cy="105.9" r="3.9" fill="url(#sp)" opacity="0.78"/><circle cx="133.6" cy="106.2" r="5.6" fill="url(#sp)" opacity="0.81"/><circle cx="154.5" cy="108.7" r="3.5" fill="url(#sp)" opacity="0.93"/><circle cx="155.7" cy="108.6" r="4.2" fill="url(#sp)" opacity="0.88"/><circle cx="157.8" cy="108.8" r="4.4" fill="url(#sp)" opacity="0.86"/><circle cx="187.4" cy="112.8" r="6.6" fill="url(#sp)" opacity="0.86"/><circle cx="187.0" cy="112.2" r="5.6" fill="url(#sp)" opacity="0.84"/><circle cx="187.3" cy="112.7" r="7.9" fill="url(#sp)" opacity="0.90"/><circle cx="141.9" cy="124.2" r="2.9" fill="url(#sp)" opacity="0.68"/><circle cx="144.3" cy="123.1" r="3.8" fill="url(#sp)" opacity="0.68"/><circle cx="142.7" cy="123.8" r="3.9" fill="url(#sp)" opacity="0.74"/><circle cx="155.6" cy="123.2" r="4.6" fill="url(#sp)" opacity="0.81"/><circle cx="157.8" cy="121.2" r="4.9" fill="url(#sp)" opacity="0.84"/><circle cx="156.8" cy="122.9" r="3.8" fill="url(#sp)" opacity="0.94"/><circle cx="177.8" cy="132.2" r="5.3" fill="url(#sp)" opacity="0.63"/><circle cx="180.8" cy="134.4" r="5.2" fill="url(#sp)" opacity="0.74"/><circle cx="176.9" cy="132.6" r="5.1" fill="url(#sp)" opacity="0.62"/><circle cx="135.1" cy="134.6" r="2.1" fill="url(#sp)" opacity="0.61"/><circle cx="134.7" cy="134.1" r="2.0" fill="url(#sp)" opacity="0.64"/><circle cx="122.0" cy="146.3" r="5.8" fill="url(#sp)" opacity="0.89"/><circle cx="119.9" cy="144.2" r="6.1" fill="url(#sp)" opacity="0.94"/><circle cx="121.6" cy="145.4" r="5.3" fill="url(#sp)" opacity="0.83"/><circle cx="154.1" cy="144.4" r="6.4" fill="url(#sp)" opacity="0.86"/><circle cx="158.1" cy="143.9" r="5.8" fill="url(#sp)" opacity="0.86"/><circle cx="155.1" cy="142.9" r="5.0" fill="url(#sp)" opacity="0.77"/><circle cx="100.7" cy="148.7" r="2.3" fill="url(#sp)" opacity="0.40"/><circle cx="100.6" cy="147.6" r="1.8" fill="url(#sp)" opacity="0.38"/><circle cx="136.3" cy="165.7" r="5.6" fill="url(#sp)" opacity="0.93"/><circle cx="137.0" cy="168.6" r="5.2" fill="url(#sp)" opacity="0.93"/><circle cx="136.1" cy="169.2" r="4.7" fill="url(#sp)" opacity="0.86"/><circle cx="122.7" cy="172.6" r="4.9" fill="url(#sp)" opacity="0.86"/><circle cx="122.6" cy="170.4" r="6.1" fill="url(#sp)" opacity="0.90"/><circle cx="121.0" cy="172.0" r="5.1" fill="url(#sp)" opacity="0.79"/><circle cx="119.2" cy="176.6" r="4.9" fill="url(#sp)" opacity="0.78"/><circle cx="120.3" cy="177.9" r="4.1" fill="url(#sp)" opacity="0.99"/><circle cx="121.5" cy="179.1" r="4.2" fill="url(#sp)" opacity="0.87"/><circle cx="164.7" cy="189.9" r="3.7" fill="url(#sp)" opacity="0.41"/><circle cx="164.3" cy="191.6" r="3.4" fill="url(#sp)" opacity="0.48"/><circle cx="164.5" cy="191.1" r="3.6" fill="url(#sp)" opacity="0.40"/><circle cx="95.1" cy="200.4" r="4.6" fill="url(#sp)" opacity="0.94"/><circle cx="97.6" cy="200.8" r="4.6" fill="url(#sp)" opacity="0.99"/><circle cx="95.2" cy="202.9" r="4.6" fill="url(#sp)" opacity="0.90"/><circle cx="119.6" cy="199.8" r="3.6" fill="url(#sp)" opacity="0.88"/><circle cx="122.2" cy="198.3" r="5.0" fill="url(#sp)" opacity="0.77"/><circle cx="120.1" cy="197.4" r="5.0" fill="url(#sp)" opacity="0.95"/><circle cx="150.6" cy="202.6" r="2.8" fill="url(#sp)" opacity="0.61"/><circle cx="149.2" cy="202.6" r="3.7" fill="url(#sp)" opacity="0.63"/><circle cx="149.2" cy="204.4" r="2.9" fill="url(#sp)" opacity="0.68"/><circle cx="84.5" cy="219.5" r="2.8" fill="url(#sp)" opacity="0.57"/><circle cx="84.1" cy="221.0" r="3.7" fill="url(#sp)" opacity="0.60"/><circle cx="83.5" cy="221.0" r="2.9" fill="url(#sp)" opacity="0.67"/><circle cx="73.1" cy="216.7" r="1.2" fill="url(#sp)" opacity="0.39"/><circle cx="73.2" cy="216.4" r="1.0" fill="url(#sp)" opacity="0.33"/>
<circle cx="104.5" cy="238.3" r="5.5" fill="url(#sp)" opacity="0.87"/><circle cx="102.3" cy="234.6" r="5.6" fill="url(#sp)" opacity="0.91"/><circle cx="101.2" cy="235.4" r="5.3" fill="url(#sp)" opacity="0.99"/></g>
<rect x="92.9" y="223.2" width="24.6" height="24.6" fill="none" stroke="#fff" stroke-width="2"/>
</g>
<rect x="194" y="270" width="88" height="4.2" fill="#fff"/>
</g>
<g transform="translate(433 1000)">
<rect x="0" y="0" width="295" height="295" fill="#030003"/>
<g clip-path="url(#pc)">
<ellipse cx="125" cy="150" rx="42" ry="140" transform="rotate(32 125 150)" fill="#1a0420" opacity="0.18" filter="url(#hz)"/>
<g mask="url(#mdrb)"><rect x="0" y="0" width="295" height="295" filter="url(#grain)" opacity="0.55"/></g>
<g filter="url(#rough)"><circle cx="170.2" cy="48.5" r="3.9" fill="url(#sp)" opacity="0.69"/><circle cx="168.2" cy="48.8" r="3.5" fill="url(#sp)" opacity="0.72"/><circle cx="169.4" cy="48.4" r="3.6" fill="url(#sp)" opacity="0.65"/><circle cx="148.4" cy="58.0" r="2.4" fill="url(#sp)" opacity="0.61"/><circle cx="148.5" cy="58.6" r="2.9" fill="url(#sp)" opacity="0.69"/><circle cx="149.3" cy="58.5" r="2.2" fill="url(#sp)" opacity="0.68"/><circle cx="141.8" cy="67.3" r="2.4" fill="url(#sp)" opacity="0.58"/><circle cx="142.3" cy="68.6" r="2.2" fill="url(#sp)" opacity="0.68"/><circle cx="197.2" cy="67.3" r="4.3" fill="url(#sp)" opacity="0.55"/><circle cx="199.7" cy="66.5" r="5.0" fill="url(#sp)" opacity="0.54"/><circle cx="198.1" cy="66.3" r="4.6" fill="url(#sp)" opacity="0.46"/><circle cx="150.7" cy="84.9" r="7.4" fill="url(#sp)" opacity="0.87"/><circle cx="148.3" cy="81.8" r="6.7" fill="url(#sp)" opacity="0.75"/><circle cx="147.8" cy="85.2" r="6.6" fill="url(#sp)" opacity="0.95"/><circle cx="194.5" cy="85.7" r="3.8" fill="url(#sp)" opacity="0.80"/><circle cx="193.4" cy="87.0" r="5.6" fill="url(#sp)" opacity="0.84"/><circle cx="194.9" cy="85.9" r="5.8" fill="url(#sp)" opacity="0.99"/><circle cx="158.6" cy="96.3" r="3.1" fill="url(#sp)" opacity="0.60"/><circle cx="158.2" cy="96.0" r="3.2" fill="url(#sp)" opacity="0.68"/><circle cx="158.7" cy="95.9" r="2.4" fill="url(#sp)" opacity="0.64"/><circle cx="163.9" cy="92.9" r="2.0" fill="url(#sp)" opacity="0.40"/><circle cx="164.4" cy="92.7" r="1.8" fill="url(#sp)" opacity="0.46"/><circle cx="135.1" cy="106.1" r="4.9" fill="url(#sp)" opacity="0.90"/><circle cx="131.8" cy="105.2" r="4.2" fill="url(#sp)" opacity="0.84"/><circle cx="132.3" cy="104.9" r="5.5" fill="url(#sp)" opacity="0.92"/><circle cx="155.6" cy="106.6" r="3.3" fill="url(#sp)" opacity="0.88"/><circle cx="153.5" cy="107.0" r="3.9" fill="url(#sp)" opacity="0.98"/><circle cx="156.8" cy="107.7" r="4.3" fill="url(#sp)" opacity="0.84"/><circle cx="185.7" cy="109.7" r="6.7" fill="url(#sp)" opacity="0.77"/><circle cx="187.8" cy="113.1" r="5.5" fill="url(#sp)" opacity="0.82"/><circle cx="187.2" cy="112.2" r="6.8" fill="url(#sp)" opacity="0.95"/><circle cx="141.5" cy="123.9" r="3.4" fill="url(#sp)" opacity="0.60"/><circle cx="141.8" cy="124.0" r="4.1" fill="url(#sp)" opacity="0.66"/><circle cx="141.1" cy="122.1" r="3.8" fill="url(#sp)" opacity="0.69"/><circle cx="156.4" cy="122.9" r="4.2" fill="url(#sp)" opacity="0.76"/><circle cx="156.1" cy="121.7" r="3.6" fill="url(#sp)" opacity="0.83"/><circle cx="158.0" cy="122.8" r="4.5" fill="url(#sp)" opacity="0.99"/><circle cx="178.5" cy="132.8" r="4.3" fill="url(#sp)" opacity="0.72"/><circle cx="179.2" cy="134.0" r="5.2" fill="url(#sp)" opacity="0.78"/><circle cx="178.4" cy="133.3" r="4.7" fill="url(#sp)" opacity="0.75"/><circle cx="134.7" cy="133.1" r="2.1" fill="url(#sp)" opacity="0.58"/><circle cx="135.3" cy="132.9" r="1.7" fill="url(#sp)" opacity="0.65"/><circle cx="122.9" cy="146.7" r="5.5" fill="url(#sp)" opacity="0.94"/><circle cx="122.5" cy="146.0" r="5.6" fill="url(#sp)" opacity="0.93"/><circle cx="121.4" cy="147.7" r="5.7" fill="url(#sp)" opacity="0.99"/><circle cx="155.5" cy="145.9" r="5.3" fill="url(#sp)" opacity="0.84"/><circle cx="154.1" cy="145.1" r="6.0" fill="url(#sp)" opacity="0.96"/><circle cx="153.6" cy="146.1" r="6.7" fill="url(#sp)" opacity="0.96"/><circle cx="98.5" cy="147.2" r="2.6" fill="url(#sp)" opacity="0.44"/><circle cx="99.9" cy="147.6" r="2.5" fill="url(#sp)" opacity="0.47"/><circle cx="136.2" cy="166.8" r="4.9" fill="url(#sp)" opacity="0.94"/><circle cx="137.1" cy="165.0" r="6.2" fill="url(#sp)" opacity="0.93"/><circle cx="137.5" cy="167.6" r="4.8" fill="url(#sp)" opacity="1.00"/><circle cx="122.7" cy="168.7" r="5.4" fill="url(#sp)" opacity="0.82"/><circle cx="120.8" cy="171.2" r="6.1" fill="url(#sp)" opacity="0.76"/><circle cx="123.4" cy="171.0" r="5.5" fill="url(#sp)" opacity="0.90"/><circle cx="120.7" cy="174.5" r="4.9" fill="url(#sp)" opacity="0.97"/><circle cx="121.7" cy="176.5" r="4.3" fill="url(#sp)" opacity="1.00"/><circle cx="121.2" cy="177.3" r="4.0" fill="url(#sp)" opacity="0.85"/><circle cx="164.8" cy="191.3" r="2.5" fill="url(#sp)" opacity="0.49"/><circle cx="164.7" cy="190.9" r="2.8" fill="url(#sp)" opacity="0.40"/><circle cx="163.8" cy="191.3" r="3.4" fill="url(#sp)" opacity="0.45"/><circle cx="96.6" cy="201.7" r="4.6" fill="url(#sp)" opacity="0.84"/><circle cx="96.5" cy="203.2" r="5.5" fill="url(#sp)" opacity="0.94"/><circle cx="95.9" cy="201.8" r="5.7" fill="url(#sp)" opacity="0.87"/><circle cx="118.6" cy="197.8" r="5.3" fill="url(#sp)" opacity="0.94"/><circle cx="120.3" cy="200.0" r="4.4" fill="url(#sp)" opacity="0.76"/><circle cx="120.0" cy="198.1" r="3.9" fill="url(#sp)" opacity="0.91"/><circle cx="149.3" cy="204.0" r="3.7" fill="url(#sp)" opacity="0.64"/><circle cx="148.0" cy="203.1" r="2.9" fill="url(#sp)" opacity="0.76"/><circle cx="148.7" cy="204.2" r="3.5" fill="url(#sp)" opacity="0.70"/><circle cx="82.5" cy="222.4" r="3.4" fill="url(#sp)" opacity="0.65"/><circle cx="82.7" cy="221.1" r="2.6" fill="url(#sp)" opacity="0.55"/><circle cx="84.5" cy="220.2" r="3.3" fill="url(#sp)" opacity="0.68"/><circle cx="74.0" cy="217.5" r="0.9" fill="url(#sp)" opacity="0.34"/><circle cx="74.0" cy="217.3" r="0.9" fill="url(#sp)" opacity="0.32"/>
<circle cx="104.5" cy="238.3" r="5.5" fill="url(#sp)" opacity="0.03"/><circle cx="102.3" cy="234.6" r="5.6" fill="url(#sp)" opacity="0.04"/><circle cx="101.2" cy="235.4" r="5.3" fill="url(#sp)" opacity="0.04"/></g>
<rect x="92.9" y="223.2" width="24.6" height="24.6" fill="none" stroke="#fff" stroke-width="2"/>
</g>
<rect x="194" y="270" width="88" height="4.2" fill="#fff"/>
</g>
<g transform="translate(740 1000)">
<rect x="0" y="0" width="295" height="295" fill="#030003"/>
<g clip-path="url(#pc)">
<ellipse cx="125" cy="150" rx="42" ry="140" transform="rotate(32 125 150)" fill="#1a0420" opacity="0.18" filter="url(#hz)"/>
<g mask="url(#mdrb)"><rect x="0" y="0" width="295" height="295" filter="url(#grain)" opacity="0.55"/></g>
<g filter="url(#rough)"><circle cx="170.7" cy="49.4" r="3.8" fill="url(#sp)" opacity="0.74"/><circle cx="169.6" cy="49.9" r="2.8" fill="url(#sp)" opacity="0.66"/><circle cx="171.3" cy="50.1" r="3.7" fill="url(#sp)" opacity="0.72"/><circle cx="148.4" cy="59.8" r="2.6" fill="url(#sp)" opacity="0.70"/><circle cx="148.5" cy="59.6" r="2.4" fill="url(#sp)" opacity="0.61"/><circle cx="147.3" cy="59.8" r="2.4" fill="url(#sp)" opacity="0.57"/><circle cx="142.7" cy="68.8" r="2.0" fill="url(#sp)" opacity="0.56"/><circle cx="142.9" cy="68.8" r="1.9" fill="url(#sp)" opacity="0.56"/><circle cx="199.2" cy="66.3" r="4.7" fill="url(#sp)" opacity="0.44"/><circle cx="197.9" cy="68.4" r="5.3" fill="url(#sp)" opacity="0.45"/><circle cx="198.4" cy="66.5" r="3.8" fill="url(#sp)" opacity="0.47"/><circle cx="149.3" cy="83.9" r="6.8" fill="url(#sp)" opacity="0.84"/><circle cx="147.7" cy="86.3" r="6.9" fill="url(#sp)" opacity="0.75"/><circle cx="153.0" cy="82.5" r="6.3" fill="url(#sp)" opacity="0.99"/><circle cx="194.0" cy="90.7" r="5.2" fill="url(#sp)" opacity="0.99"/><circle cx="192.4" cy="90.4" r="5.8" fill="url(#sp)" opacity="0.78"/><circle cx="193.5" cy="90.1" r="4.1" fill="url(#sp)" opacity="0.76"/><circle cx="157.5" cy="94.5" r="2.8" fill="url(#sp)" opacity="0.53"/><circle cx="158.6" cy="95.5" r="2.3" fill="url(#sp)" opacity="0.53"/><circle cx="158.8" cy="95.4" r="3.2" fill="url(#sp)" opacity="0.61"/><circle cx="163.4" cy="91.2" r="1.5" fill="url(#sp)" opacity="0.43"/><circle cx="164.2" cy="92.0" r="2.0" fill="url(#sp)" opacity="0.44"/><circle cx="133.3" cy="103.0" r="5.1" fill="url(#sp)" opacity="0.77"/><circle cx="132.3" cy="104.6" r="4.3" fill="url(#sp)" opacity="0.89"/><circle cx="135.0" cy="104.2" r="5.8" fill="url(#sp)" opacity="0.91"/><circle cx="155.5" cy="108.0" r="3.8" fill="url(#sp)" opacity="0.97"/><circle cx="154.9" cy="108.7" r="3.7" fill="url(#sp)" opacity="0.79"/><circle cx="156.4" cy="110.3" r="4.0" fill="url(#sp)" opacity="0.94"/><circle cx="186.3" cy="112.2" r="7.9" fill="url(#sp)" opacity="0.91"/><circle cx="186.6" cy="114.2" r="7.6" fill="url(#sp)" opacity="0.99"/><circle cx="186.1" cy="109.5" r="7.5" fill="url(#sp)" opacity="0.84"/><circle cx="143.5" cy="124.2" r="3.6" fill="url(#sp)" opacity="0.76"/><circle cx="141.5" cy="125.4" r="3.9" fill="url(#sp)" opacity="0.72"/><circle cx="142.7" cy="125.6" r="3.8" fill="url(#sp)" opacity="0.73"/><circle cx="157.4" cy="123.7" r="4.3" fill="url(#sp)" opacity="0.93"/><circle cx="155.9" cy="119.8" r="4.0" fill="url(#sp)" opacity="0.80"/><circle cx="157.0" cy="121.6" r="5.3" fill="url(#sp)" opacity="0.85"/><circle cx="178.2" cy="131.8" r="3.7" fill="url(#sp)" opacity="0.62"/><circle cx="179.4" cy="133.2" r="4.2" fill="url(#sp)" opacity="0.74"/><circle cx="178.6" cy="133.3" r="4.5" fill="url(#sp)" opacity="0.67"/><circle cx="135.6" cy="132.8" r="1.7" fill="url(#sp)" opacity="0.65"/><circle cx="135.1" cy="134.1" r="1.9" fill="url(#sp)" opacity="0.57"/><circle cx="124.2" cy="144.7" r="6.2" fill="url(#sp)" opacity="0.89"/><circle cx="121.7" cy="148.0" r="6.2" fill="url(#sp)" opacity="0.88"/><circle cx="122.5" cy="144.5" r="4.9" fill="url(#sp)" opacity="0.80"/><circle cx="154.3" cy="145.7" r="5.9" fill="url(#sp)" opacity="0.86"/><circle cx="158.8" cy="144.4" r="6.3" fill="url(#sp)" opacity="0.80"/><circle cx="156.8" cy="143.6" r="6.7" fill="url(#sp)" opacity="0.99"/><circle cx="101.5" cy="146.9" r="1.9" fill="url(#sp)" opacity="0.38"/><circle cx="100.8" cy="148.0" r="2.2" fill="url(#sp)" opacity="0.38"/><circle cx="139.2" cy="165.5" r="6.0" fill="url(#sp)" opacity="0.95"/><circle cx="138.1" cy="165.7" r="5.3" fill="url(#sp)" opacity="0.80"/><circle cx="138.4" cy="166.7" r="5.0" fill="url(#sp)" opacity="0.98"/><circle cx="120.7" cy="171.8" r="5.8" fill="url(#sp)" opacity="0.88"/><circle cx="121.8" cy="170.1" r="6.1" fill="url(#sp)" opacity="0.91"/><circle cx="121.9" cy="170.7" r="4.8" fill="url(#sp)" opacity="0.90"/><circle cx="122.5" cy="176.8" r="5.1" fill="url(#sp)" opacity="0.92"/><circle cx="121.4" cy="179.3" r="4.1" fill="url(#sp)" opacity="0.83"/><circle cx="120.1" cy="180.0" r="4.2" fill="url(#sp)" opacity="0.87"/><circle cx="163.3" cy="190.3" r="3.1" fill="url(#sp)" opacity="0.50"/><circle cx="163.2" cy="190.5" r="3.6" fill="url(#sp)" opacity="0.39"/><circle cx="164.3" cy="190.1" r="3.6" fill="url(#sp)" opacity="0.47"/><circle cx="97.0" cy="202.0" r="5.5" fill="url(#sp)" opacity="0.77"/><circle cx="97.2" cy="201.6" r="5.1" fill="url(#sp)" opacity="0.93"/><circle cx="98.8" cy="203.6" r="5.4" fill="url(#sp)" opacity="0.88"/><circle cx="121.9" cy="198.3" r="4.8" fill="url(#sp)" opacity="0.82"/><circle cx="121.5" cy="197.6" r="4.6" fill="url(#sp)" opacity="0.85"/><circle cx="121.9" cy="197.3" r="4.5" fill="url(#sp)" opacity="0.99"/><circle cx="149.1" cy="202.5" r="3.1" fill="url(#sp)" opacity="0.68"/><circle cx="149.3" cy="203.3" r="3.5" fill="url(#sp)" opacity="0.73"/><circle cx="149.1" cy="203.8" r="3.7" fill="url(#sp)" opacity="0.63"/><circle cx="83.9" cy="220.2" r="3.2" fill="url(#sp)" opacity="0.64"/><circle cx="83.6" cy="219.0" r="3.2" fill="url(#sp)" opacity="0.56"/><circle cx="83.8" cy="220.2" r="3.7" fill="url(#sp)" opacity="0.54"/><circle cx="73.8" cy="216.3" r="1.3" fill="url(#sp)" opacity="0.37"/><circle cx="73.7" cy="216.5" r="1.2" fill="url(#sp)" opacity="0.30"/>
<circle cx="104.5" cy="238.3" r="5.5" fill="url(#sp)" opacity="0.26"/><circle cx="102.3" cy="234.6" r="5.6" fill="url(#sp)" opacity="0.27"/><circle cx="101.2" cy="235.4" r="5.3" fill="url(#sp)" opacity="0.30"/></g>
<rect x="92.9" y="223.2" width="24.6" height="24.6" fill="none" stroke="#fff" stroke-width="2"/>
</g>
<rect x="194" y="270" width="88" height="4.2" fill="#fff"/>
</g>
<g transform="translate(1047 1000)">
<rect x="0" y="0" width="295" height="295" fill="#030003"/>
<g clip-path="url(#pc)">
<ellipse cx="125" cy="150" rx="42" ry="140" transform="rotate(32 125 150)" fill="#1a0420" opacity="0.18" filter="url(#hz)"/>
<g mask="url(#mdrb)"><rect x="0" y="0" width="295" height="295" filter="url(#grain)" opacity="0.55"/></g>
<g filter="url(#rough)"><circle cx="169.3" cy="49.3" r="3.9" fill="url(#sp)" opacity="0.67"/><circle cx="170.2" cy="48.5" r="3.9" fill="url(#sp)" opacity="0.71"/><circle cx="169.6" cy="49.7" r="4.1" fill="url(#sp)" opacity="0.58"/><circle cx="148.3" cy="60.2" r="2.5" fill="url(#sp)" opacity="0.60"/><circle cx="148.5" cy="59.4" r="2.2" fill="url(#sp)" opacity="0.67"/><circle cx="148.5" cy="60.1" r="2.1" fill="url(#sp)" opacity="0.72"/><circle cx="140.7" cy="68.5" r="1.8" fill="url(#sp)" opacity="0.64"/><circle cx="141.9" cy="68.1" r="2.1" fill="url(#sp)" opacity="0.58"/><circle cx="197.8" cy="69.6" r="3.6" fill="url(#sp)" opacity="0.52"/><circle cx="199.2" cy="68.8" r="3.6" fill="url(#sp)" opacity="0.44"/><circle cx="197.5" cy="68.6" r="4.9" fill="url(#sp)" opacity="0.48"/><circle cx="146.5" cy="83.9" r="7.0" fill="url(#sp)" opacity="0.87"/><circle cx="149.9" cy="79.4" r="7.9" fill="url(#sp)" opacity="1.00"/><circle cx="151.8" cy="80.9" r="7.2" fill="url(#sp)" opacity="0.92"/><circle cx="194.4" cy="86.8" r="5.7" fill="url(#sp)" opacity="0.86"/><circle cx="196.1" cy="88.0" r="4.8" fill="url(#sp)" opacity="0.75"/><circle cx="194.8" cy="85.8" r="5.6" fill="url(#sp)" opacity="0.87"/><circle cx="157.3" cy="94.5" r="2.7" fill="url(#sp)" opacity="0.57"/><circle cx="159.1" cy="95.9" r="3.2" fill="url(#sp)" opacity="0.69"/><circle cx="158.1" cy="94.7" r="2.3" fill="url(#sp)" opacity="0.62"/><circle cx="166.1" cy="93.5" r="1.9" fill="url(#sp)" opacity="0.43"/><circle cx="165.5" cy="92.5" r="1.8" fill="url(#sp)" opacity="0.38"/><circle cx="130.6" cy="106.5" r="4.6" fill="url(#sp)" opacity="0.85"/><circle cx="134.3" cy="107.0" r="4.3" fill="url(#sp)" opacity="0.94"/><circle cx="132.8" cy="106.2" r="4.0" fill="url(#sp)" opacity="0.92"/><circle cx="156.4" cy="108.2" r="4.7" fill="url(#sp)" opacity="0.78"/><circle cx="156.7" cy="109.8" r="4.2" fill="url(#sp)" opacity="0.82"/><circle cx="156.5" cy="108.4" r="3.2" fill="url(#sp)" opacity="0.86"/><circle cx="184.1" cy="114.2" r="7.4" fill="url(#sp)" opacity="0.99"/><circle cx="187.0" cy="112.0" r="7.0" fill="url(#sp)" opacity="0.92"/><circle cx="187.4" cy="114.1" r="6.1" fill="url(#sp)" opacity="0.89"/><circle cx="142.8" cy="125.0" r="3.5" fill="url(#sp)" opacity="0.71"/><circle cx="142.3" cy="124.3" r="4.2" fill="url(#sp)" opacity="0.77"/><circle cx="142.0" cy="123.4" r="4.1" fill="url(#sp)" opacity="0.76"/><circle cx="157.6" cy="121.6" r="4.0" fill="url(#sp)" opacity="0.91"/><circle cx="156.0" cy="121.9" r="4.3" fill="url(#sp)" opacity="0.93"/><circle cx="156.8" cy="120.9" r="5.2" fill="url(#sp)" opacity="0.82"/><circle cx="179.9" cy="133.0" r="4.4" fill="url(#sp)" opacity="0.65"/><circle cx="177.6" cy="133.3" r="4.6" fill="url(#sp)" opacity="0.71"/><circle cx="178.2" cy="133.7" r="5.1" fill="url(#sp)" opacity="0.61"/><circle cx="136.2" cy="133.5" r="2.1" fill="url(#sp)" opacity="0.56"/><circle cx="136.7" cy="133.4" r="1.8" fill="url(#sp)" opacity="0.55"/><circle cx="122.8" cy="145.8" r="5.5" fill="url(#sp)" opacity="0.76"/><circle cx="122.9" cy="147.8" r="6.4" fill="url(#sp)" opacity="0.98"/><circle cx="123.9" cy="148.6" r="6.2" fill="url(#sp)" opacity="0.77"/><circle cx="156.5" cy="144.9" r="6.3" fill="url(#sp)" opacity="0.92"/><circle cx="154.7" cy="145.4" r="6.3" fill="url(#sp)" opacity="0.95"/><circle cx="155.7" cy="145.0" r="6.0" fill="url(#sp)" opacity="0.99"/><circle cx="100.7" cy="145.9" r="2.5" fill="url(#sp)" opacity="0.38"/><circle cx="101.4" cy="147.0" r="2.6" fill="url(#sp)" opacity="0.49"/><circle cx="137.6" cy="167.3" r="4.6" fill="url(#sp)" opacity="0.78"/><circle cx="137.0" cy="168.6" r="5.3" fill="url(#sp)" opacity="0.90"/><circle cx="137.3" cy="168.4" r="4.4" fill="url(#sp)" opacity="0.90"/><circle cx="118.5" cy="169.7" r="6.4" fill="url(#sp)" opacity="0.84"/><circle cx="120.4" cy="170.8" r="6.4" fill="url(#sp)" opacity="0.93"/><circle cx="121.9" cy="171.7" r="4.6" fill="url(#sp)" opacity="0.86"/><circle cx="119.7" cy="177.1" r="4.8" fill="url(#sp)" opacity="0.99"/><circle cx="121.7" cy="178.3" r="4.8" fill="url(#sp)" opacity="1.00"/><circle cx="120.5" cy="176.9" r="5.4" fill="url(#sp)" opacity="0.93"/><circle cx="164.8" cy="192.1" r="2.8" fill="url(#sp)" opacity="0.44"/><circle cx="165.8" cy="192.0" r="3.0" fill="url(#sp)" opacity="0.49"/><circle cx="165.5" cy="191.2" r="2.4" fill="url(#sp)" opacity="0.38"/><circle cx="96.1" cy="201.9" r="6.7" fill="url(#sp)" opacity="0.77"/><circle cx="96.0" cy="200.7" r="4.8" fill="url(#sp)" opacity="0.83"/><circle cx="97.8" cy="200.9" r="6.0" fill="url(#sp)" opacity="0.93"/><circle cx="123.4" cy="196.7" r="4.7" fill="url(#sp)" opacity="0.88"/><circle cx="122.1" cy="198.1" r="4.0" fill="url(#sp)" opacity="0.93"/><circle cx="121.4" cy="197.6" r="3.7" fill="url(#sp)" opacity="0.92"/><circle cx="148.8" cy="203.8" r="2.8" fill="url(#sp)" opacity="0.77"/><circle cx="147.7" cy="204.2" r="3.2" fill="url(#sp)" opacity="0.66"/><circle cx="148.1" cy="203.2" r="3.5" fill="url(#sp)" opacity="0.77"/><circle cx="82.9" cy="220.0" r="3.5" fill="url(#sp)" opacity="0.61"/><circle cx="83.7" cy="220.9" r="2.6" fill="url(#sp)" opacity="0.61"/><circle cx="83.0" cy="221.0" r="3.5" fill="url(#sp)" opacity="0.70"/><circle cx="72.4" cy="216.3" r="1.3" fill="url(#sp)" opacity="0.37"/><circle cx="73.0" cy="216.1" r="0.9" fill="url(#sp)" opacity="0.36"/>
<circle cx="104.5" cy="238.3" r="5.5" fill="url(#sp)" opacity="0.52"/><circle cx="102.3" cy="234.6" r="5.6" fill="url(#sp)" opacity="0.54"/><circle cx="101.2" cy="235.4" r="5.3" fill="url(#sp)" opacity="0.59"/></g>
<rect x="92.9" y="223.2" width="24.6" height="24.6" fill="none" stroke="#fff" stroke-width="2"/>
</g>
<rect x="194" y="270" width="88" height="4.2" fill="#fff"/>
</g>
<g transform="translate(1354 1000)">
<rect x="0" y="0" width="295" height="295" fill="#030003"/>
<g clip-path="url(#pc)">
<ellipse cx="125" cy="150" rx="42" ry="140" transform="rotate(32 125 150)" fill="#1a0420" opacity="0.18" filter="url(#hz)"/>
<g mask="url(#mdrb)"><rect x="0" y="0" width="295" height="295" filter="url(#grain)" opacity="0.55"/></g>
<g filter="url(#rough)"><circle cx="170.1" cy="47.9" r="3.5" fill="url(#sp)" opacity="0.62"/><circle cx="170.2" cy="47.8" r="4.2" fill="url(#sp)" opacity="0.58"/><circle cx="171.5" cy="48.6" r="4.2" fill="url(#sp)" opacity="0.72"/><circle cx="149.2" cy="58.6" r="2.3" fill="url(#sp)" opacity="0.59"/><circle cx="148.9" cy="58.7" r="2.4" fill="url(#sp)" opacity="0.71"/><circle cx="149.2" cy="58.0" r="2.7" fill="url(#sp)" opacity="0.70"/><circle cx="140.5" cy="68.8" r="2.1" fill="url(#sp)" opacity="0.68"/><circle cx="140.5" cy="68.9" r="2.6" fill="url(#sp)" opacity="0.56"/><circle cx="198.8" cy="66.3" r="5.1" fill="url(#sp)" opacity="0.43"/><circle cx="197.3" cy="66.8" r="5.3" fill="url(#sp)" opacity="0.55"/><circle cx="196.3" cy="69.0" r="4.2" fill="url(#sp)" opacity="0.47"/><circle cx="150.2" cy="83.3" r="5.4" fill="url(#sp)" opacity="0.99"/><circle cx="148.0" cy="83.5" r="7.2" fill="url(#sp)" opacity="0.99"/><circle cx="149.7" cy="81.8" r="6.5" fill="url(#sp)" opacity="0.92"/><circle cx="195.1" cy="87.8" r="5.7" fill="url(#sp)" opacity="1.00"/><circle cx="194.1" cy="87.0" r="4.9" fill="url(#sp)" opacity="0.84"/><circle cx="194.8" cy="86.1" r="4.2" fill="url(#sp)" opacity="0.84"/><circle cx="159.4" cy="93.8" r="2.3" fill="url(#sp)" opacity="0.59"/><circle cx="159.5" cy="94.6" r="2.6" fill="url(#sp)" opacity="0.70"/><circle cx="159.1" cy="95.8" r="2.5" fill="url(#sp)" opacity="0.69"/><circle cx="165.8" cy="93.9" r="1.6" fill="url(#sp)" opacity="0.48"/><circle cx="165.3" cy="92.5" r="1.7" fill="url(#sp)" opacity="0.47"/><circle cx="134.6" cy="104.8" r="4.3" fill="url(#sp)" opacity="0.94"/><circle cx="132.0" cy="106.0" r="4.9" fill="url(#sp)" opacity="0.99"/><circle cx="136.7" cy="105.6" r="4.4" fill="url(#sp)" opacity="0.94"/><circle cx="154.5" cy="109.2" r="4.6" fill="url(#sp)" opacity="0.84"/><circle cx="155.8" cy="107.5" r="4.2" fill="url(#sp)" opacity="0.88"/><circle cx="155.9" cy="108.3" r="3.8" fill="url(#sp)" opacity="0.96"/><circle cx="184.9" cy="113.6" r="5.9" fill="url(#sp)" opacity="0.93"/><circle cx="187.2" cy="114.2" r="5.5" fill="url(#sp)" opacity="0.86"/><circle cx="188.3" cy="113.9" r="6.6" fill="url(#sp)" opacity="0.78"/><circle cx="142.7" cy="123.2" r="3.7" fill="url(#sp)" opacity="0.64"/><circle cx="141.8" cy="123.5" r="4.2" fill="url(#sp)" opacity="0.72"/><circle cx="140.4" cy="124.6" r="3.1" fill="url(#sp)" opacity="0.67"/><circle cx="157.7" cy="123.4" r="4.8" fill="url(#sp)" opacity="0.87"/><circle cx="159.8" cy="121.6" r="5.3" fill="url(#sp)" opacity="0.91"/><circle cx="159.6" cy="122.8" r="3.9" fill="url(#sp)" opacity="0.99"/><circle cx="178.3" cy="134.9" r="4.5" fill="url(#sp)" opacity="0.72"/><circle cx="178.5" cy="132.4" r="4.4" fill="url(#sp)" opacity="0.78"/><circle cx="177.9" cy="133.6" r="4.4" fill="url(#sp)" opacity="0.69"/><circle cx="135.0" cy="134.3" r="2.1" fill="url(#sp)" opacity="0.63"/><circle cx="135.3" cy="133.9" r="1.8" fill="url(#sp)" opacity="0.55"/><circle cx="121.5" cy="144.5" r="5.1" fill="url(#sp)" opacity="0.79"/><circle cx="122.9" cy="145.1" r="4.3" fill="url(#sp)" opacity="0.98"/><circle cx="121.7" cy="146.3" r="5.0" fill="url(#sp)" opacity="0.98"/><circle cx="155.5" cy="142.9" r="7.4" fill="url(#sp)" opacity="0.87"/><circle cx="154.5" cy="145.9" r="5.1" fill="url(#sp)" opacity="0.82"/><circle cx="156.3" cy="144.2" r="7.1" fill="url(#sp)" opacity="0.84"/><circle cx="99.5" cy="147.9" r="2.4" fill="url(#sp)" opacity="0.50"/><circle cx="99.1" cy="147.7" r="2.4" fill="url(#sp)" opacity="0.42"/><circle cx="139.3" cy="169.3" r="4.5" fill="url(#sp)" opacity="0.82"/><circle cx="136.5" cy="167.8" r="4.4" fill="url(#sp)" opacity="0.99"/><circle cx="135.4" cy="168.1" r="6.4" fill="url(#sp)" opacity="0.93"/><circle cx="124.2" cy="171.7" r="5.2" fill="url(#sp)" opacity="0.92"/><circle cx="121.5" cy="172.0" r="5.4" fill="url(#sp)" opacity="0.97"/><circle cx="121.4" cy="175.0" r="6.7" fill="url(#sp)" opacity="0.96"/><circle cx="121.1" cy="176.7" r="5.4" fill="url(#sp)" opacity="0.96"/><circle cx="118.9" cy="176.3" r="5.1" fill="url(#sp)" opacity="0.86"/><circle cx="121.2" cy="175.1" r="5.7" fill="url(#sp)" opacity="0.89"/><circle cx="164.9" cy="191.7" r="3.1" fill="url(#sp)" opacity="0.45"/><circle cx="164.4" cy="192.2" r="3.4" fill="url(#sp)" opacity="0.44"/><circle cx="166.0" cy="193.1" r="3.3" fill="url(#sp)" opacity="0.39"/><circle cx="97.6" cy="203.4" r="4.6" fill="url(#sp)" opacity="0.93"/><circle cx="95.1" cy="202.0" r="6.3" fill="url(#sp)" opacity="0.98"/><circle cx="96.9" cy="202.4" r="6.5" fill="url(#sp)" opacity="0.97"/><circle cx="120.7" cy="198.7" r="4.8" fill="url(#sp)" opacity="0.77"/><circle cx="121.4" cy="198.9" r="5.0" fill="url(#sp)" opacity="0.93"/><circle cx="120.8" cy="198.2" r="5.0" fill="url(#sp)" opacity="0.84"/><circle cx="149.3" cy="201.3" r="2.9" fill="url(#sp)" opacity="0.68"/><circle cx="150.7" cy="203.3" r="3.2" fill="url(#sp)" opacity="0.77"/><circle cx="149.4" cy="202.1" r="3.7" fill="url(#sp)" opacity="0.76"/><circle cx="83.8" cy="220.8" r="2.8" fill="url(#sp)" opacity="0.66"/><circle cx="84.3" cy="220.8" r="3.0" fill="url(#sp)" opacity="0.65"/><circle cx="85.1" cy="220.6" r="3.5" fill="url(#sp)" opacity="0.57"/><circle cx="73.4" cy="216.1" r="1.2" fill="url(#sp)" opacity="0.32"/><circle cx="73.3" cy="215.8" r="1.1" fill="url(#sp)" opacity="0.33"/>
<circle cx="104.5" cy="238.3" r="5.5" fill="url(#sp)" opacity="0.74"/><circle cx="102.3" cy="234.6" r="5.6" fill="url(#sp)" opacity="0.77"/><circle cx="101.2" cy="235.4" r="5.3" fill="url(#sp)" opacity="0.84"/></g>
<rect x="92.9" y="223.2" width="24.6" height="24.6" fill="none" stroke="#fff" stroke-width="2"/>
</g>
<rect x="194" y="270" width="88" height="4.2" fill="#fff"/>
</g>
</g>
</svg>
</body></html>
